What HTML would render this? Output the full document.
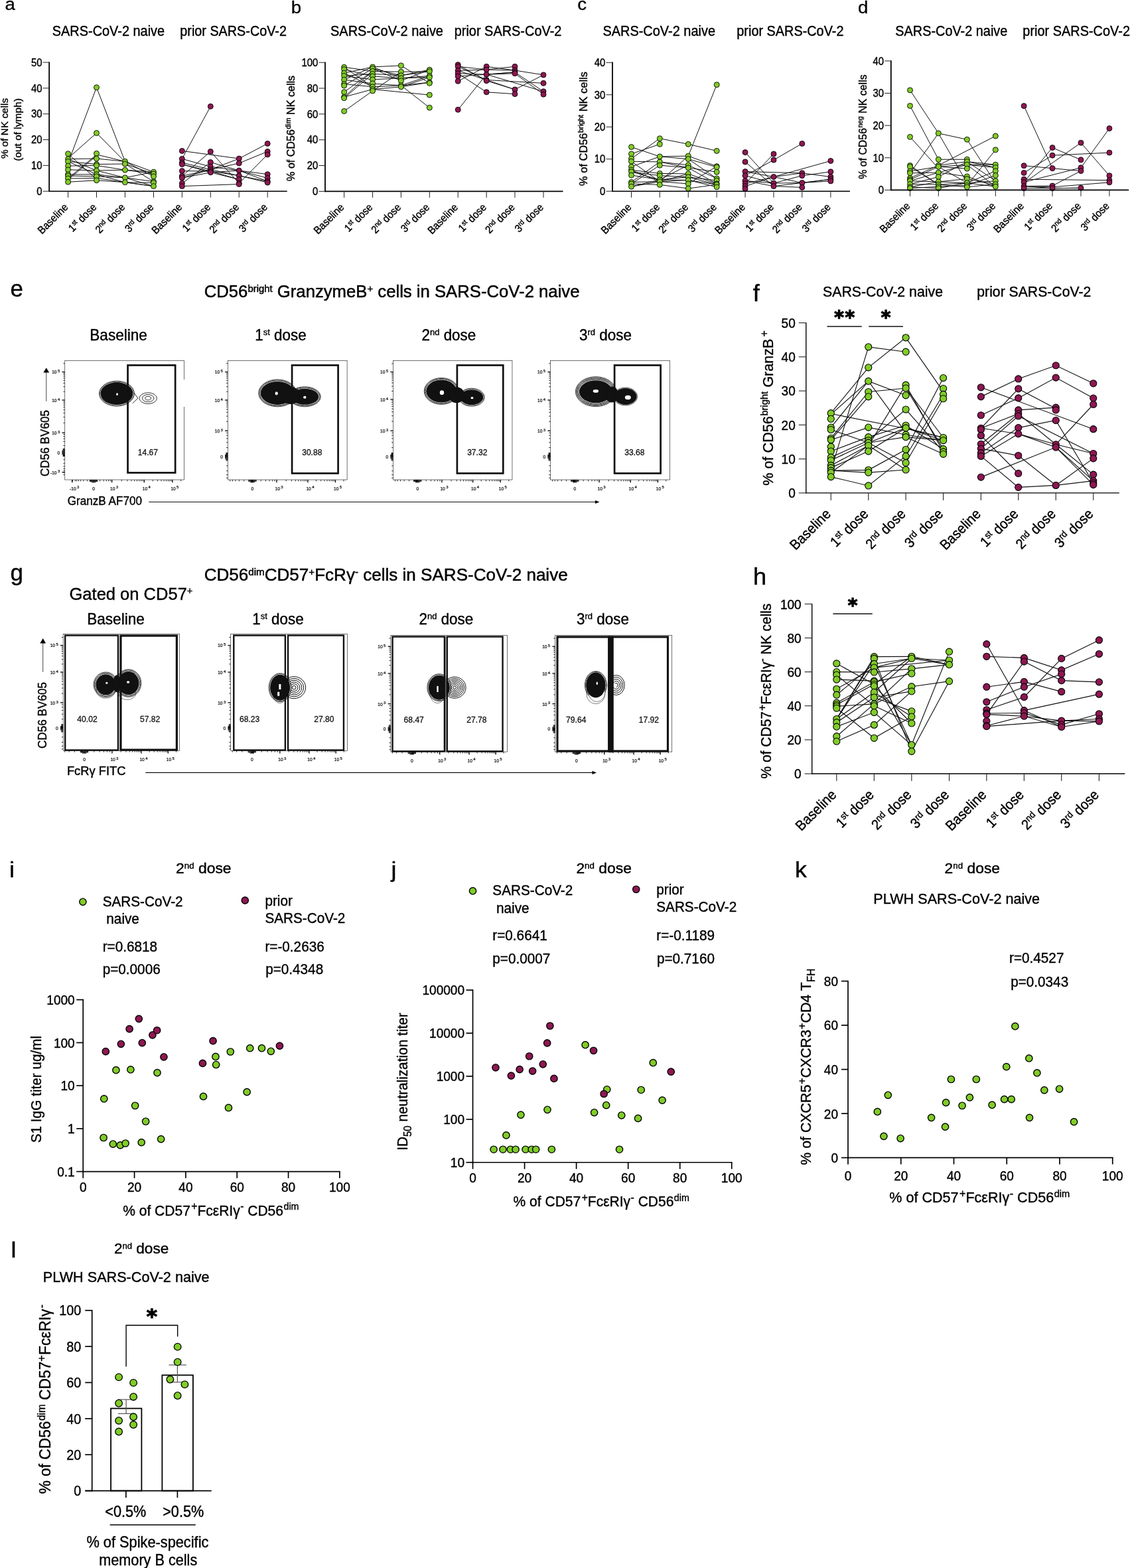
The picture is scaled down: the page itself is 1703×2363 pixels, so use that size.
<!DOCTYPE html>
<html lang="en"><head><meta charset="utf-8"><title>Figure</title>
<style>html,body{margin:0;padding:0;background:#fff}svg{display:block}text{font-family:'Liberation Sans', Arial, Helvetica, sans-serif;}</style></head>
<body>
<svg width="1703" height="2363" viewBox="0 0 1703 2363">
<rect width="1703" height="2363" fill="#fff"/>
<polyline points="102.57,245.63 145.5,131.74 188.44,243.3" fill="none" stroke="#111" stroke-width="1" stroke-linejoin="miter"/>
<polyline points="102.57,238.53 145.5,200.49 188.44,243.91" fill="none" stroke="#111" stroke-width="1" stroke-linejoin="miter"/>
<polyline points="102.57,231.68 145.5,270.21" fill="none" stroke="#111" stroke-width="1" stroke-linejoin="miter"/>
<polyline points="102.57,268.99 145.5,232.91 188.44,243.3 231.5,265.93" fill="none" stroke="#111" stroke-width="1" stroke-linejoin="miter"/>
<polyline points="102.57,270.83 145.5,234.74" fill="none" stroke="#111" stroke-width="1" stroke-linejoin="miter"/>
<polyline points="102.57,239.63 145.5,239.02 188.44,243.3 231.5,259.2" fill="none" stroke="#111" stroke-width="1" stroke-linejoin="miter"/>
<polyline points="102.57,243.3 145.5,247.58 188.44,246.97 231.5,262.02" fill="none" stroke="#111" stroke-width="1" stroke-linejoin="miter"/>
<polyline points="102.57,250.03 145.5,249.42 188.44,256.15 231.5,259.2" fill="none" stroke="#111" stroke-width="1" stroke-linejoin="miter"/>
<polyline points="102.57,255.78 145.5,257 188.44,256.15 231.5,262.02" fill="none" stroke="#111" stroke-width="1" stroke-linejoin="miter"/>
<polyline points="102.57,262.87 145.5,262.87 188.44,267.77 231.5,273.64" fill="none" stroke="#111" stroke-width="1" stroke-linejoin="miter"/>
<polyline points="102.57,264.95 145.5,265.93 188.44,267.77 231.5,259.2" fill="none" stroke="#111" stroke-width="1" stroke-linejoin="miter"/>
<polyline points="102.57,268.99 145.5,268.38 188.44,274.74 231.5,275.47" fill="none" stroke="#111" stroke-width="1" stroke-linejoin="miter"/>
<polyline points="102.57,274.25 145.5,271.8 188.44,274.74 231.5,280.61" fill="none" stroke="#111" stroke-width="1" stroke-linejoin="miter"/>
<polyline points="102.57,239.63 145.5,257 188.44,267.77 231.5,280.61" fill="none" stroke="#111" stroke-width="1" stroke-linejoin="miter"/>
<polyline points="102.57,243.3 145.5,262.87 188.44,274.74 231.5,280.61" fill="none" stroke="#111" stroke-width="1" stroke-linejoin="miter"/>
<polyline points="188.44,246.97 231.5,273.64" fill="none" stroke="#111" stroke-width="1" stroke-linejoin="miter"/>
<polyline points="274.37,239.39 317.31,160.37" fill="none" stroke="#111" stroke-width="1" stroke-linejoin="miter"/>
<polyline points="274.37,227.4 360.24,239.02 403.18,216.39" fill="none" stroke="#111" stroke-width="1" stroke-linejoin="miter"/>
<polyline points="274.37,265.32 317.31,228.38 360.24,276.33" fill="none" stroke="#111" stroke-width="1" stroke-linejoin="miter"/>
<polyline points="274.37,276.33 317.31,244.53 360.24,257 403.18,268.38" fill="none" stroke="#111" stroke-width="1" stroke-linejoin="miter"/>
<polyline points="274.37,268.13 317.31,255.54 360.24,239.02" fill="none" stroke="#111" stroke-width="1" stroke-linejoin="miter"/>
<polyline points="274.37,239.39 317.31,251.25 360.24,257 403.18,262.63" fill="none" stroke="#111" stroke-width="1" stroke-linejoin="miter"/>
<polyline points="274.37,245.14 317.31,255.54 360.24,264.71 403.18,273.27" fill="none" stroke="#111" stroke-width="1" stroke-linejoin="miter"/>
<polyline points="274.37,247.58 317.31,257.98 360.24,264.71 403.18,275.11" fill="none" stroke="#111" stroke-width="1" stroke-linejoin="miter"/>
<polyline points="274.37,257.61 317.31,257.98 360.24,270.46" fill="none" stroke="#111" stroke-width="1" stroke-linejoin="miter"/>
<polyline points="274.37,265.32 317.31,255.54 360.24,245.99 403.18,228.38" fill="none" stroke="#111" stroke-width="1" stroke-linejoin="miter"/>
<polyline points="274.37,280.61 360.24,277.55" fill="none" stroke="#111" stroke-width="1" stroke-linejoin="miter"/>
<polyline points="360.24,276.33 403.18,232.91" fill="none" stroke="#111" stroke-width="1" stroke-linejoin="miter"/>
<polyline points="274.37,247.58 317.31,259.82 360.24,270.46" fill="none" stroke="#111" stroke-width="1" stroke-linejoin="miter"/>
<polyline points="274.37,268.13 317.31,259.82 360.24,257 403.18,273.27" fill="none" stroke="#111" stroke-width="1" stroke-linejoin="miter"/>
<circle cx="102.57" cy="231.68" r="4" fill="#80CC28" stroke="#000" stroke-width="0.9"/>
<circle cx="102.57" cy="239.63" r="4" fill="#80CC28" stroke="#000" stroke-width="0.9"/>
<circle cx="102.57" cy="243.3" r="4" fill="#80CC28" stroke="#000" stroke-width="0.9"/>
<circle cx="102.57" cy="250.03" r="4" fill="#80CC28" stroke="#000" stroke-width="0.9"/>
<circle cx="102.57" cy="255.78" r="4" fill="#80CC28" stroke="#000" stroke-width="0.9"/>
<circle cx="102.57" cy="262.87" r="4" fill="#80CC28" stroke="#000" stroke-width="0.9"/>
<circle cx="102.57" cy="264.95" r="4" fill="#80CC28" stroke="#000" stroke-width="0.9"/>
<circle cx="102.57" cy="268.99" r="4" fill="#80CC28" stroke="#000" stroke-width="0.9"/>
<circle cx="102.57" cy="274.25" r="4" fill="#80CC28" stroke="#000" stroke-width="0.9"/>
<circle cx="145.5" cy="131.74" r="4" fill="#80CC28" stroke="#000" stroke-width="0.9"/>
<circle cx="145.5" cy="200.49" r="4" fill="#80CC28" stroke="#000" stroke-width="0.9"/>
<circle cx="145.5" cy="231.31" r="4" fill="#80CC28" stroke="#000" stroke-width="0.9"/>
<circle cx="145.5" cy="239.02" r="4" fill="#80CC28" stroke="#000" stroke-width="0.9"/>
<circle cx="145.5" cy="247.58" r="4" fill="#80CC28" stroke="#000" stroke-width="0.9"/>
<circle cx="145.5" cy="249.42" r="4" fill="#80CC28" stroke="#000" stroke-width="0.9"/>
<circle cx="145.5" cy="257" r="4" fill="#80CC28" stroke="#000" stroke-width="0.9"/>
<circle cx="145.5" cy="262.87" r="4" fill="#80CC28" stroke="#000" stroke-width="0.9"/>
<circle cx="145.5" cy="265.93" r="4" fill="#80CC28" stroke="#000" stroke-width="0.9"/>
<circle cx="145.5" cy="271.8" r="4" fill="#80CC28" stroke="#000" stroke-width="0.9"/>
<circle cx="188.44" cy="243.3" r="4" fill="#80CC28" stroke="#000" stroke-width="0.9"/>
<circle cx="188.44" cy="246.97" r="4" fill="#80CC28" stroke="#000" stroke-width="0.9"/>
<circle cx="188.44" cy="256.15" r="4" fill="#80CC28" stroke="#000" stroke-width="0.9"/>
<circle cx="188.44" cy="267.77" r="4" fill="#80CC28" stroke="#000" stroke-width="0.9"/>
<circle cx="188.44" cy="274.74" r="4" fill="#80CC28" stroke="#000" stroke-width="0.9"/>
<circle cx="231.5" cy="259.2" r="4" fill="#80CC28" stroke="#000" stroke-width="0.9"/>
<circle cx="231.5" cy="262.02" r="4" fill="#80CC28" stroke="#000" stroke-width="0.9"/>
<circle cx="231.5" cy="265.93" r="4" fill="#80CC28" stroke="#000" stroke-width="0.9"/>
<circle cx="231.5" cy="273.64" r="4" fill="#80CC28" stroke="#000" stroke-width="0.9"/>
<circle cx="231.5" cy="275.47" r="4" fill="#80CC28" stroke="#000" stroke-width="0.9"/>
<circle cx="231.5" cy="280.61" r="4" fill="#80CC28" stroke="#000" stroke-width="0.9"/>
<circle cx="274.37" cy="227.4" r="4" fill="#8E1752" stroke="#000" stroke-width="0.9"/>
<circle cx="274.37" cy="239.39" r="4" fill="#8E1752" stroke="#000" stroke-width="0.9"/>
<circle cx="274.37" cy="245.14" r="4" fill="#8E1752" stroke="#000" stroke-width="0.9"/>
<circle cx="274.37" cy="247.58" r="4" fill="#8E1752" stroke="#000" stroke-width="0.9"/>
<circle cx="274.37" cy="257.61" r="4" fill="#8E1752" stroke="#000" stroke-width="0.9"/>
<circle cx="274.37" cy="265.32" r="4" fill="#8E1752" stroke="#000" stroke-width="0.9"/>
<circle cx="274.37" cy="268.13" r="4" fill="#8E1752" stroke="#000" stroke-width="0.9"/>
<circle cx="274.37" cy="276.33" r="4" fill="#8E1752" stroke="#000" stroke-width="0.9"/>
<circle cx="274.37" cy="280.61" r="4" fill="#8E1752" stroke="#000" stroke-width="0.9"/>
<circle cx="317.31" cy="160.37" r="4" fill="#8E1752" stroke="#000" stroke-width="0.9"/>
<circle cx="317.31" cy="228.38" r="4" fill="#8E1752" stroke="#000" stroke-width="0.9"/>
<circle cx="317.31" cy="244.53" r="4" fill="#8E1752" stroke="#000" stroke-width="0.9"/>
<circle cx="317.31" cy="251.25" r="4" fill="#8E1752" stroke="#000" stroke-width="0.9"/>
<circle cx="317.31" cy="255.54" r="4" fill="#8E1752" stroke="#000" stroke-width="0.9"/>
<circle cx="317.31" cy="257.98" r="4" fill="#8E1752" stroke="#000" stroke-width="0.9"/>
<circle cx="317.31" cy="259.82" r="4" fill="#8E1752" stroke="#000" stroke-width="0.9"/>
<circle cx="360.24" cy="239.02" r="4" fill="#8E1752" stroke="#000" stroke-width="0.9"/>
<circle cx="360.24" cy="245.99" r="4" fill="#8E1752" stroke="#000" stroke-width="0.9"/>
<circle cx="360.24" cy="257" r="4" fill="#8E1752" stroke="#000" stroke-width="0.9"/>
<circle cx="360.24" cy="264.71" r="4" fill="#8E1752" stroke="#000" stroke-width="0.9"/>
<circle cx="360.24" cy="270.46" r="4" fill="#8E1752" stroke="#000" stroke-width="0.9"/>
<circle cx="360.24" cy="276.33" r="4" fill="#8E1752" stroke="#000" stroke-width="0.9"/>
<circle cx="360.24" cy="277.55" r="4" fill="#8E1752" stroke="#000" stroke-width="0.9"/>
<circle cx="403.18" cy="216.39" r="4" fill="#8E1752" stroke="#000" stroke-width="0.9"/>
<circle cx="403.18" cy="228.38" r="4" fill="#8E1752" stroke="#000" stroke-width="0.9"/>
<circle cx="403.18" cy="232.91" r="4" fill="#8E1752" stroke="#000" stroke-width="0.9"/>
<circle cx="403.18" cy="262.63" r="4" fill="#8E1752" stroke="#000" stroke-width="0.9"/>
<circle cx="403.18" cy="268.38" r="4" fill="#8E1752" stroke="#000" stroke-width="0.9"/>
<circle cx="403.18" cy="273.27" r="4" fill="#8E1752" stroke="#000" stroke-width="0.9"/>
<circle cx="403.18" cy="275.11" r="4" fill="#8E1752" stroke="#000" stroke-width="0.9"/>
<line x1="74.15" y1="93.35" x2="74.15" y2="289" stroke="#000" stroke-width="1.8"/>
<line x1="73.25" y1="288.2" x2="432.7" y2="288.2" stroke="#000" stroke-width="1.6"/>
<line x1="64.65" y1="288.2" x2="74.15" y2="288.2" stroke="#222" stroke-width="1"/>
<text transform="translate(63.45 293.96) scale(0.93 1)" font-size="16" text-anchor="end" fill="#000" stroke="#000" stroke-width="0.4">0</text>
<line x1="64.65" y1="249.36" x2="74.15" y2="249.36" stroke="#222" stroke-width="1"/>
<text transform="translate(63.45 255.12) scale(0.93 1)" font-size="16" text-anchor="end" fill="#000" stroke="#000" stroke-width="0.4">10</text>
<line x1="64.65" y1="210.52" x2="74.15" y2="210.52" stroke="#222" stroke-width="1"/>
<text transform="translate(63.45 216.28) scale(0.93 1)" font-size="16" text-anchor="end" fill="#000" stroke="#000" stroke-width="0.4">20</text>
<line x1="64.65" y1="171.68" x2="74.15" y2="171.68" stroke="#222" stroke-width="1"/>
<text transform="translate(63.45 177.44) scale(0.93 1)" font-size="16" text-anchor="end" fill="#000" stroke="#000" stroke-width="0.4">30</text>
<line x1="64.65" y1="132.84" x2="74.15" y2="132.84" stroke="#222" stroke-width="1"/>
<text transform="translate(63.45 138.6) scale(0.93 1)" font-size="16" text-anchor="end" fill="#000" stroke="#000" stroke-width="0.4">40</text>
<line x1="64.65" y1="94.01" x2="74.15" y2="94.01" stroke="#222" stroke-width="1"/>
<text transform="translate(63.45 99.77) scale(0.93 1)" font-size="16" text-anchor="end" fill="#000" stroke="#000" stroke-width="0.4">50</text>
<line x1="102.57" y1="288.2" x2="102.57" y2="297.7" stroke="#222" stroke-width="1"/>
<text transform="translate(103.57 313.2) rotate(-45) scale(0.93 1)" font-size="16" text-anchor="end" fill="#000" stroke="#000" stroke-width="0.4">Baseline</text>
<line x1="145.5" y1="288.2" x2="145.5" y2="297.7" stroke="#222" stroke-width="1"/>
<text transform="translate(146.5 313.2) rotate(-45) scale(0.93 1)" font-size="16" text-anchor="end" fill="#000" stroke="#000" stroke-width="0.4">1<tspan dy="-5.28" font-size="10.56">st</tspan><tspan dy="5.28"> dose</tspan></text>
<line x1="188.44" y1="288.2" x2="188.44" y2="297.7" stroke="#222" stroke-width="1"/>
<text transform="translate(189.44 313.2) rotate(-45) scale(0.93 1)" font-size="16" text-anchor="end" fill="#000" stroke="#000" stroke-width="0.4">2<tspan dy="-5.28" font-size="10.56">nd</tspan><tspan dy="5.28">  dose</tspan></text>
<line x1="231.5" y1="288.2" x2="231.5" y2="297.7" stroke="#222" stroke-width="1"/>
<text transform="translate(232.5 313.2) rotate(-45) scale(0.93 1)" font-size="16" text-anchor="end" fill="#000" stroke="#000" stroke-width="0.4">3<tspan dy="-5.28" font-size="10.56">rd</tspan><tspan dy="5.28"> dose</tspan></text>
<line x1="274.37" y1="288.2" x2="274.37" y2="297.7" stroke="#222" stroke-width="1"/>
<text transform="translate(275.37 313.2) rotate(-45) scale(0.93 1)" font-size="16" text-anchor="end" fill="#000" stroke="#000" stroke-width="0.4">Baseline</text>
<line x1="317.31" y1="288.2" x2="317.31" y2="297.7" stroke="#222" stroke-width="1"/>
<text transform="translate(318.31 313.2) rotate(-45) scale(0.93 1)" font-size="16" text-anchor="end" fill="#000" stroke="#000" stroke-width="0.4">1<tspan dy="-5.28" font-size="10.56">st</tspan><tspan dy="5.28"> dose</tspan></text>
<line x1="360.24" y1="288.2" x2="360.24" y2="297.7" stroke="#222" stroke-width="1"/>
<text transform="translate(361.24 313.2) rotate(-45) scale(0.93 1)" font-size="16" text-anchor="end" fill="#000" stroke="#000" stroke-width="0.4">2<tspan dy="-5.28" font-size="10.56">nd</tspan><tspan dy="5.28">  dose</tspan></text>
<line x1="403.18" y1="288.2" x2="403.18" y2="297.7" stroke="#222" stroke-width="1"/>
<text transform="translate(404.18 313.2) rotate(-45) scale(0.93 1)" font-size="16" text-anchor="end" fill="#000" stroke="#000" stroke-width="0.4">3<tspan dy="-5.28" font-size="10.56">rd</tspan><tspan dy="5.28"> dose</tspan></text>
<polyline points="518.65,167.57 561.59,136.99" fill="none" stroke="#111" stroke-width="1" stroke-linejoin="miter"/>
<polyline points="518.65,147.75 561.59,111.3" fill="none" stroke="#111" stroke-width="1" stroke-linejoin="miter"/>
<polyline points="518.65,146.16 561.59,134.54 604.4,130.87 647.34,124.14" fill="none" stroke="#111" stroke-width="1" stroke-linejoin="miter"/>
<polyline points="518.65,138.82 561.59,107.26" fill="none" stroke="#111" stroke-width="1" stroke-linejoin="miter"/>
<polyline points="518.65,101.27 561.59,107.26 604.4,108.24 647.34,107.63" fill="none" stroke="#111" stroke-width="1" stroke-linejoin="miter"/>
<polyline points="518.65,104.57 561.59,114.97 604.4,117.78 647.34,114.36" fill="none" stroke="#111" stroke-width="1" stroke-linejoin="miter"/>
<polyline points="518.65,110.08 561.59,100.9 604.4,98.82 647.34,125.37" fill="none" stroke="#111" stroke-width="1" stroke-linejoin="miter"/>
<polyline points="518.65,114.36 561.59,119.86 604.4,117.78 647.34,116.56" fill="none" stroke="#111" stroke-width="1" stroke-linejoin="miter"/>
<polyline points="518.65,120.11 561.59,125.98 604.4,128.79 647.34,124.14" fill="none" stroke="#111" stroke-width="1" stroke-linejoin="miter"/>
<polyline points="518.65,126.59 561.59,130.87 604.4,128.79" fill="none" stroke="#111" stroke-width="1" stroke-linejoin="miter"/>
<polyline points="561.59,134.54 647.34,143.1" fill="none" stroke="#111" stroke-width="1" stroke-linejoin="miter"/>
<polyline points="518.65,129.04 561.59,103.35 604.4,113.75 647.34,105.18" fill="none" stroke="#111" stroke-width="1" stroke-linejoin="miter"/>
<polyline points="604.4,128.79 647.34,162.31" fill="none" stroke="#111" stroke-width="1" stroke-linejoin="miter"/>
<polyline points="561.59,136.99 604.4,108.24" fill="none" stroke="#111" stroke-width="1" stroke-linejoin="miter"/>
<polyline points="518.65,101.27 561.59,130.87" fill="none" stroke="#111" stroke-width="1" stroke-linejoin="miter"/>
<polyline points="518.65,120.11 561.59,100.9" fill="none" stroke="#111" stroke-width="1" stroke-linejoin="miter"/>
<polyline points="518.65,110.08 561.59,130.87" fill="none" stroke="#111" stroke-width="1" stroke-linejoin="miter"/>
<polyline points="561.59,100.9 604.4,117.78" fill="none" stroke="#111" stroke-width="1" stroke-linejoin="miter"/>
<polyline points="561.59,103.35 604.4,121.7 647.34,105.18" fill="none" stroke="#111" stroke-width="1" stroke-linejoin="miter"/>
<polyline points="604.4,130.87 647.34,116.56" fill="none" stroke="#111" stroke-width="1" stroke-linejoin="miter"/>
<polyline points="604.4,128.79 647.34,114.36" fill="none" stroke="#111" stroke-width="1" stroke-linejoin="miter"/>
<polyline points="518.65,146.16 561.59,107.26" fill="none" stroke="#111" stroke-width="1" stroke-linejoin="miter"/>
<polyline points="518.65,114.36 561.59,111.3 604.4,113.75 647.34,107.63" fill="none" stroke="#111" stroke-width="1" stroke-linejoin="miter"/>
<polyline points="690.21,165.37 733.15,112.16 775.96,108.85" fill="none" stroke="#111" stroke-width="1" stroke-linejoin="miter"/>
<polyline points="690.21,100.29 733.15,104.94 775.96,106.04 819.02,112.89" fill="none" stroke="#111" stroke-width="1" stroke-linejoin="miter"/>
<polyline points="690.21,97.6 733.15,121.7 775.96,134.91 819.02,112.89" fill="none" stroke="#111" stroke-width="1" stroke-linejoin="miter"/>
<polyline points="690.21,110.69 733.15,138.82 775.96,141.64" fill="none" stroke="#111" stroke-width="1" stroke-linejoin="miter"/>
<polyline points="690.21,122.31 733.15,100.29 775.96,106.04" fill="none" stroke="#111" stroke-width="1" stroke-linejoin="miter"/>
<polyline points="690.21,106.41 733.15,104.94 775.96,100.29" fill="none" stroke="#111" stroke-width="1" stroke-linejoin="miter"/>
<polyline points="690.21,114.97 733.15,112.16 775.96,108.85 819.02,137.84" fill="none" stroke="#111" stroke-width="1" stroke-linejoin="miter"/>
<polyline points="690.21,100.29 733.15,120.47 819.02,125.37" fill="none" stroke="#111" stroke-width="1" stroke-linejoin="miter"/>
<polyline points="690.21,110.69 733.15,112.16 775.96,110.69 819.02,142.25" fill="none" stroke="#111" stroke-width="1" stroke-linejoin="miter"/>
<polyline points="733.15,112.16 819.02,137.84" fill="none" stroke="#111" stroke-width="1" stroke-linejoin="miter"/>
<polyline points="690.21,106.41 733.15,120.47 775.96,134.91" fill="none" stroke="#111" stroke-width="1" stroke-linejoin="miter"/>
<circle cx="518.65" cy="101.27" r="4" fill="#80CC28" stroke="#000" stroke-width="0.9"/>
<circle cx="518.65" cy="104.57" r="4" fill="#80CC28" stroke="#000" stroke-width="0.9"/>
<circle cx="518.65" cy="110.08" r="4" fill="#80CC28" stroke="#000" stroke-width="0.9"/>
<circle cx="518.65" cy="114.36" r="4" fill="#80CC28" stroke="#000" stroke-width="0.9"/>
<circle cx="518.65" cy="120.11" r="4" fill="#80CC28" stroke="#000" stroke-width="0.9"/>
<circle cx="518.65" cy="126.59" r="4" fill="#80CC28" stroke="#000" stroke-width="0.9"/>
<circle cx="518.65" cy="129.04" r="4" fill="#80CC28" stroke="#000" stroke-width="0.9"/>
<circle cx="518.65" cy="138.82" r="4" fill="#80CC28" stroke="#000" stroke-width="0.9"/>
<circle cx="518.65" cy="146.16" r="4" fill="#80CC28" stroke="#000" stroke-width="0.9"/>
<circle cx="518.65" cy="147.75" r="4" fill="#80CC28" stroke="#000" stroke-width="0.9"/>
<circle cx="518.65" cy="167.57" r="4" fill="#80CC28" stroke="#000" stroke-width="0.9"/>
<circle cx="561.59" cy="100.9" r="4" fill="#80CC28" stroke="#000" stroke-width="0.9"/>
<circle cx="561.59" cy="103.35" r="4" fill="#80CC28" stroke="#000" stroke-width="0.9"/>
<circle cx="561.59" cy="107.26" r="4" fill="#80CC28" stroke="#000" stroke-width="0.9"/>
<circle cx="561.59" cy="111.3" r="4" fill="#80CC28" stroke="#000" stroke-width="0.9"/>
<circle cx="561.59" cy="114.97" r="4" fill="#80CC28" stroke="#000" stroke-width="0.9"/>
<circle cx="561.59" cy="119.86" r="4" fill="#80CC28" stroke="#000" stroke-width="0.9"/>
<circle cx="561.59" cy="125.98" r="4" fill="#80CC28" stroke="#000" stroke-width="0.9"/>
<circle cx="561.59" cy="130.87" r="4" fill="#80CC28" stroke="#000" stroke-width="0.9"/>
<circle cx="561.59" cy="134.54" r="4" fill="#80CC28" stroke="#000" stroke-width="0.9"/>
<circle cx="561.59" cy="136.99" r="4" fill="#80CC28" stroke="#000" stroke-width="0.9"/>
<circle cx="604.4" cy="98.82" r="4" fill="#80CC28" stroke="#000" stroke-width="0.9"/>
<circle cx="604.4" cy="108.24" r="4" fill="#80CC28" stroke="#000" stroke-width="0.9"/>
<circle cx="604.4" cy="113.75" r="4" fill="#80CC28" stroke="#000" stroke-width="0.9"/>
<circle cx="604.4" cy="117.78" r="4" fill="#80CC28" stroke="#000" stroke-width="0.9"/>
<circle cx="604.4" cy="121.7" r="4" fill="#80CC28" stroke="#000" stroke-width="0.9"/>
<circle cx="604.4" cy="128.79" r="4" fill="#80CC28" stroke="#000" stroke-width="0.9"/>
<circle cx="604.4" cy="130.87" r="4" fill="#80CC28" stroke="#000" stroke-width="0.9"/>
<circle cx="647.34" cy="105.18" r="4" fill="#80CC28" stroke="#000" stroke-width="0.9"/>
<circle cx="647.34" cy="107.63" r="4" fill="#80CC28" stroke="#000" stroke-width="0.9"/>
<circle cx="647.34" cy="114.36" r="4" fill="#80CC28" stroke="#000" stroke-width="0.9"/>
<circle cx="647.34" cy="116.56" r="4" fill="#80CC28" stroke="#000" stroke-width="0.9"/>
<circle cx="647.34" cy="124.14" r="4" fill="#80CC28" stroke="#000" stroke-width="0.9"/>
<circle cx="647.34" cy="125.37" r="4" fill="#80CC28" stroke="#000" stroke-width="0.9"/>
<circle cx="647.34" cy="143.1" r="4" fill="#80CC28" stroke="#000" stroke-width="0.9"/>
<circle cx="647.34" cy="162.31" r="4" fill="#80CC28" stroke="#000" stroke-width="0.9"/>
<circle cx="690.21" cy="97.6" r="4" fill="#8E1752" stroke="#000" stroke-width="0.9"/>
<circle cx="690.21" cy="100.29" r="4" fill="#8E1752" stroke="#000" stroke-width="0.9"/>
<circle cx="690.21" cy="106.41" r="4" fill="#8E1752" stroke="#000" stroke-width="0.9"/>
<circle cx="690.21" cy="110.69" r="4" fill="#8E1752" stroke="#000" stroke-width="0.9"/>
<circle cx="690.21" cy="114.97" r="4" fill="#8E1752" stroke="#000" stroke-width="0.9"/>
<circle cx="690.21" cy="122.31" r="4" fill="#8E1752" stroke="#000" stroke-width="0.9"/>
<circle cx="690.21" cy="165.37" r="4" fill="#8E1752" stroke="#000" stroke-width="0.9"/>
<circle cx="733.15" cy="100.29" r="4" fill="#8E1752" stroke="#000" stroke-width="0.9"/>
<circle cx="733.15" cy="104.94" r="4" fill="#8E1752" stroke="#000" stroke-width="0.9"/>
<circle cx="733.15" cy="112.16" r="4" fill="#8E1752" stroke="#000" stroke-width="0.9"/>
<circle cx="733.15" cy="120.47" r="4" fill="#8E1752" stroke="#000" stroke-width="0.9"/>
<circle cx="733.15" cy="121.7" r="4" fill="#8E1752" stroke="#000" stroke-width="0.9"/>
<circle cx="733.15" cy="138.82" r="4" fill="#8E1752" stroke="#000" stroke-width="0.9"/>
<circle cx="775.96" cy="100.29" r="4" fill="#8E1752" stroke="#000" stroke-width="0.9"/>
<circle cx="775.96" cy="106.04" r="4" fill="#8E1752" stroke="#000" stroke-width="0.9"/>
<circle cx="775.96" cy="108.85" r="4" fill="#8E1752" stroke="#000" stroke-width="0.9"/>
<circle cx="775.96" cy="110.69" r="4" fill="#8E1752" stroke="#000" stroke-width="0.9"/>
<circle cx="775.96" cy="134.91" r="4" fill="#8E1752" stroke="#000" stroke-width="0.9"/>
<circle cx="775.96" cy="141.64" r="4" fill="#8E1752" stroke="#000" stroke-width="0.9"/>
<circle cx="819.02" cy="112.89" r="4" fill="#8E1752" stroke="#000" stroke-width="0.9"/>
<circle cx="819.02" cy="125.37" r="4" fill="#8E1752" stroke="#000" stroke-width="0.9"/>
<circle cx="819.02" cy="137.84" r="4" fill="#8E1752" stroke="#000" stroke-width="0.9"/>
<circle cx="819.02" cy="142.25" r="4" fill="#8E1752" stroke="#000" stroke-width="0.9"/>
<line x1="490" y1="93.45" x2="490" y2="289.16" stroke="#000" stroke-width="1.8"/>
<line x1="489.1" y1="288.36" x2="848.5" y2="288.36" stroke="#000" stroke-width="1.6"/>
<line x1="480.5" y1="288.36" x2="490" y2="288.36" stroke="#222" stroke-width="1"/>
<text transform="translate(479.3 294.12) scale(0.93 1)" font-size="16" text-anchor="end" fill="#000" stroke="#000" stroke-width="0.4">0</text>
<line x1="480.5" y1="249.53" x2="490" y2="249.53" stroke="#222" stroke-width="1"/>
<text transform="translate(479.3 255.29) scale(0.93 1)" font-size="16" text-anchor="end" fill="#000" stroke="#000" stroke-width="0.4">20</text>
<line x1="480.5" y1="210.69" x2="490" y2="210.69" stroke="#222" stroke-width="1"/>
<text transform="translate(479.3 216.45) scale(0.93 1)" font-size="16" text-anchor="end" fill="#000" stroke="#000" stroke-width="0.4">40</text>
<line x1="480.5" y1="171.85" x2="490" y2="171.85" stroke="#222" stroke-width="1"/>
<text transform="translate(479.3 177.61) scale(0.93 1)" font-size="16" text-anchor="end" fill="#000" stroke="#000" stroke-width="0.4">60</text>
<line x1="480.5" y1="133.01" x2="490" y2="133.01" stroke="#222" stroke-width="1"/>
<text transform="translate(479.3 138.77) scale(0.93 1)" font-size="16" text-anchor="end" fill="#000" stroke="#000" stroke-width="0.4">80</text>
<line x1="480.5" y1="94.17" x2="490" y2="94.17" stroke="#222" stroke-width="1"/>
<text transform="translate(479.3 99.93) scale(0.93 1)" font-size="16" text-anchor="end" fill="#000" stroke="#000" stroke-width="0.4">100</text>
<line x1="518.65" y1="288.36" x2="518.65" y2="297.86" stroke="#222" stroke-width="1"/>
<text transform="translate(519.65 313.36) rotate(-45) scale(0.93 1)" font-size="16" text-anchor="end" fill="#000" stroke="#000" stroke-width="0.4">Baseline</text>
<line x1="561.59" y1="288.36" x2="561.59" y2="297.86" stroke="#222" stroke-width="1"/>
<text transform="translate(562.59 313.36) rotate(-45) scale(0.93 1)" font-size="16" text-anchor="end" fill="#000" stroke="#000" stroke-width="0.4">1<tspan dy="-5.28" font-size="10.56">st</tspan><tspan dy="5.28"> dose</tspan></text>
<line x1="604.4" y1="288.36" x2="604.4" y2="297.86" stroke="#222" stroke-width="1"/>
<text transform="translate(605.4 313.36) rotate(-45) scale(0.93 1)" font-size="16" text-anchor="end" fill="#000" stroke="#000" stroke-width="0.4">2<tspan dy="-5.28" font-size="10.56">nd</tspan><tspan dy="5.28">  dose</tspan></text>
<line x1="647.34" y1="288.36" x2="647.34" y2="297.86" stroke="#222" stroke-width="1"/>
<text transform="translate(648.34 313.36) rotate(-45) scale(0.93 1)" font-size="16" text-anchor="end" fill="#000" stroke="#000" stroke-width="0.4">3<tspan dy="-5.28" font-size="10.56">rd</tspan><tspan dy="5.28"> dose</tspan></text>
<line x1="690.21" y1="288.36" x2="690.21" y2="297.86" stroke="#222" stroke-width="1"/>
<text transform="translate(691.21 313.36) rotate(-45) scale(0.93 1)" font-size="16" text-anchor="end" fill="#000" stroke="#000" stroke-width="0.4">Baseline</text>
<line x1="733.15" y1="288.36" x2="733.15" y2="297.86" stroke="#222" stroke-width="1"/>
<text transform="translate(734.15 313.36) rotate(-45) scale(0.93 1)" font-size="16" text-anchor="end" fill="#000" stroke="#000" stroke-width="0.4">1<tspan dy="-5.28" font-size="10.56">st</tspan><tspan dy="5.28"> dose</tspan></text>
<line x1="775.96" y1="288.36" x2="775.96" y2="297.86" stroke="#222" stroke-width="1"/>
<text transform="translate(776.96 313.36) rotate(-45) scale(0.93 1)" font-size="16" text-anchor="end" fill="#000" stroke="#000" stroke-width="0.4">2<tspan dy="-5.28" font-size="10.56">nd</tspan><tspan dy="5.28">  dose</tspan></text>
<line x1="819.02" y1="288.36" x2="819.02" y2="297.86" stroke="#222" stroke-width="1"/>
<text transform="translate(820.02 313.36) rotate(-45) scale(0.93 1)" font-size="16" text-anchor="end" fill="#000" stroke="#000" stroke-width="0.4">3<tspan dy="-5.28" font-size="10.56">rd</tspan><tspan dy="5.28"> dose</tspan></text>
<polyline points="951.5,239.02 994.31,208.69 1037.25,217.25 1080.18,227.4" fill="none" stroke="#111" stroke-width="1" stroke-linejoin="miter"/>
<polyline points="951.5,231.93 994.31,217.25" fill="none" stroke="#111" stroke-width="1" stroke-linejoin="miter"/>
<polyline points="951.5,221.53 994.31,235.96 1037.25,239.63 1080.18,251.87" fill="none" stroke="#111" stroke-width="1" stroke-linejoin="miter"/>
<polyline points="951.5,243.3 994.31,273.64 1037.25,235.11 1080.18,127.71" fill="none" stroke="#111" stroke-width="1" stroke-linejoin="miter"/>
<polyline points="951.5,243.3 994.31,243.91 1037.25,248.81 1080.18,268.99" fill="none" stroke="#111" stroke-width="1" stroke-linejoin="miter"/>
<polyline points="951.5,251.25 994.31,235.96 1037.25,235.11 1080.18,250.64" fill="none" stroke="#111" stroke-width="1" stroke-linejoin="miter"/>
<polyline points="951.5,256.15 994.31,261.41 1037.25,261.9 1080.18,276.94" fill="none" stroke="#111" stroke-width="1" stroke-linejoin="miter"/>
<polyline points="951.5,258.84 994.31,264.71 1037.25,266.79 1080.18,278.17" fill="none" stroke="#111" stroke-width="1" stroke-linejoin="miter"/>
<polyline points="951.5,264.1 994.31,270.83 1037.25,266.79 1080.18,272.05" fill="none" stroke="#111" stroke-width="1" stroke-linejoin="miter"/>
<polyline points="951.5,274.5 994.31,243.91 1037.25,252.84 1080.18,259.2" fill="none" stroke="#111" stroke-width="1" stroke-linejoin="miter"/>
<polyline points="951.5,276.94 994.31,249.17 1037.25,252.84 1080.18,276.94" fill="none" stroke="#111" stroke-width="1" stroke-linejoin="miter"/>
<polyline points="951.5,281.22 994.31,273.64 1037.25,271.44 1080.18,278.17" fill="none" stroke="#111" stroke-width="1" stroke-linejoin="miter"/>
<polyline points="951.5,276.94 994.31,278.41 1037.25,284.04 1080.18,278.17" fill="none" stroke="#111" stroke-width="1" stroke-linejoin="miter"/>
<polyline points="951.5,256.15 994.31,273.64 1037.25,261.9" fill="none" stroke="#111" stroke-width="1" stroke-linejoin="miter"/>
<polyline points="951.5,274.5 994.31,273.64 1037.25,276.94 1080.18,250.64" fill="none" stroke="#111" stroke-width="1" stroke-linejoin="miter"/>
<polyline points="1037.25,239.63 1080.18,268.99" fill="none" stroke="#111" stroke-width="1" stroke-linejoin="miter"/>
<polyline points="951.5,281.22 994.31,270.83 1037.25,248.81" fill="none" stroke="#111" stroke-width="1" stroke-linejoin="miter"/>
<polyline points="951.5,258.84 994.31,270.83 1037.25,271.44 1080.18,281.83" fill="none" stroke="#111" stroke-width="1" stroke-linejoin="miter"/>
<polyline points="1123.06,229.6 1165.99,276.09" fill="none" stroke="#111" stroke-width="1" stroke-linejoin="miter"/>
<polyline points="1123.06,243.91 1165.99,280.61" fill="none" stroke="#111" stroke-width="1" stroke-linejoin="miter"/>
<polyline points="1123.06,276.7 1165.99,232.05" fill="none" stroke="#111" stroke-width="1" stroke-linejoin="miter"/>
<polyline points="1123.06,264.71 1165.99,241.1 1208.81,216.39" fill="none" stroke="#111" stroke-width="1" stroke-linejoin="miter"/>
<polyline points="1123.06,258.59 1165.99,266.54 1208.81,275.47 1251.87,270.21" fill="none" stroke="#111" stroke-width="1" stroke-linejoin="miter"/>
<polyline points="1123.06,258.59 1208.81,260.8 1251.87,266.54" fill="none" stroke="#111" stroke-width="1" stroke-linejoin="miter"/>
<polyline points="1123.06,272.42 1165.99,276.09 1208.81,275.47 1251.87,272.91" fill="none" stroke="#111" stroke-width="1" stroke-linejoin="miter"/>
<polyline points="1123.06,276.7 1165.99,266.54 1208.81,260.8" fill="none" stroke="#111" stroke-width="1" stroke-linejoin="miter"/>
<polyline points="1123.06,280.61 1165.99,266.54 1251.87,242.45" fill="none" stroke="#111" stroke-width="1" stroke-linejoin="miter"/>
<polyline points="1123.06,272.42 1165.99,280.61 1208.81,282.45" fill="none" stroke="#111" stroke-width="1" stroke-linejoin="miter"/>
<polyline points="1165.99,276.09 1208.81,264.71 1251.87,258.84" fill="none" stroke="#111" stroke-width="1" stroke-linejoin="miter"/>
<polyline points="1165.99,280.61 1208.81,275.47 1251.87,270.21" fill="none" stroke="#111" stroke-width="1" stroke-linejoin="miter"/>
<polyline points="1123.06,264.71 1165.99,276.09" fill="none" stroke="#111" stroke-width="1" stroke-linejoin="miter"/>
<circle cx="951.5" cy="221.53" r="4" fill="#80CC28" stroke="#000" stroke-width="0.9"/>
<circle cx="951.5" cy="231.93" r="4" fill="#80CC28" stroke="#000" stroke-width="0.9"/>
<circle cx="951.5" cy="239.02" r="4" fill="#80CC28" stroke="#000" stroke-width="0.9"/>
<circle cx="951.5" cy="243.3" r="4" fill="#80CC28" stroke="#000" stroke-width="0.9"/>
<circle cx="951.5" cy="251.25" r="4" fill="#80CC28" stroke="#000" stroke-width="0.9"/>
<circle cx="951.5" cy="256.15" r="4" fill="#80CC28" stroke="#000" stroke-width="0.9"/>
<circle cx="951.5" cy="258.84" r="4" fill="#80CC28" stroke="#000" stroke-width="0.9"/>
<circle cx="951.5" cy="264.1" r="4" fill="#80CC28" stroke="#000" stroke-width="0.9"/>
<circle cx="951.5" cy="274.5" r="4" fill="#80CC28" stroke="#000" stroke-width="0.9"/>
<circle cx="951.5" cy="276.94" r="4" fill="#80CC28" stroke="#000" stroke-width="0.9"/>
<circle cx="951.5" cy="281.22" r="4" fill="#80CC28" stroke="#000" stroke-width="0.9"/>
<circle cx="994.31" cy="208.69" r="4" fill="#80CC28" stroke="#000" stroke-width="0.9"/>
<circle cx="994.31" cy="217.25" r="4" fill="#80CC28" stroke="#000" stroke-width="0.9"/>
<circle cx="994.31" cy="235.96" r="4" fill="#80CC28" stroke="#000" stroke-width="0.9"/>
<circle cx="994.31" cy="243.91" r="4" fill="#80CC28" stroke="#000" stroke-width="0.9"/>
<circle cx="994.31" cy="249.17" r="4" fill="#80CC28" stroke="#000" stroke-width="0.9"/>
<circle cx="994.31" cy="261.41" r="4" fill="#80CC28" stroke="#000" stroke-width="0.9"/>
<circle cx="994.31" cy="264.71" r="4" fill="#80CC28" stroke="#000" stroke-width="0.9"/>
<circle cx="994.31" cy="270.83" r="4" fill="#80CC28" stroke="#000" stroke-width="0.9"/>
<circle cx="994.31" cy="273.64" r="4" fill="#80CC28" stroke="#000" stroke-width="0.9"/>
<circle cx="994.31" cy="278.41" r="4" fill="#80CC28" stroke="#000" stroke-width="0.9"/>
<circle cx="1037.25" cy="217.25" r="4" fill="#80CC28" stroke="#000" stroke-width="0.9"/>
<circle cx="1037.25" cy="235.11" r="4" fill="#80CC28" stroke="#000" stroke-width="0.9"/>
<circle cx="1037.25" cy="239.63" r="4" fill="#80CC28" stroke="#000" stroke-width="0.9"/>
<circle cx="1037.25" cy="248.81" r="4" fill="#80CC28" stroke="#000" stroke-width="0.9"/>
<circle cx="1037.25" cy="252.84" r="4" fill="#80CC28" stroke="#000" stroke-width="0.9"/>
<circle cx="1037.25" cy="261.9" r="4" fill="#80CC28" stroke="#000" stroke-width="0.9"/>
<circle cx="1037.25" cy="266.79" r="4" fill="#80CC28" stroke="#000" stroke-width="0.9"/>
<circle cx="1037.25" cy="271.44" r="4" fill="#80CC28" stroke="#000" stroke-width="0.9"/>
<circle cx="1037.25" cy="276.94" r="4" fill="#80CC28" stroke="#000" stroke-width="0.9"/>
<circle cx="1037.25" cy="284.04" r="4" fill="#80CC28" stroke="#000" stroke-width="0.9"/>
<circle cx="1080.18" cy="127.71" r="4" fill="#80CC28" stroke="#000" stroke-width="0.9"/>
<circle cx="1080.18" cy="227.4" r="4" fill="#80CC28" stroke="#000" stroke-width="0.9"/>
<circle cx="1080.18" cy="250.64" r="4" fill="#80CC28" stroke="#000" stroke-width="0.9"/>
<circle cx="1080.18" cy="251.87" r="4" fill="#80CC28" stroke="#000" stroke-width="0.9"/>
<circle cx="1080.18" cy="259.2" r="4" fill="#80CC28" stroke="#000" stroke-width="0.9"/>
<circle cx="1080.18" cy="268.99" r="4" fill="#80CC28" stroke="#000" stroke-width="0.9"/>
<circle cx="1080.18" cy="272.05" r="4" fill="#80CC28" stroke="#000" stroke-width="0.9"/>
<circle cx="1080.18" cy="276.94" r="4" fill="#80CC28" stroke="#000" stroke-width="0.9"/>
<circle cx="1080.18" cy="278.17" r="4" fill="#80CC28" stroke="#000" stroke-width="0.9"/>
<circle cx="1080.18" cy="281.83" r="4" fill="#80CC28" stroke="#000" stroke-width="0.9"/>
<circle cx="1123.06" cy="229.6" r="4" fill="#8E1752" stroke="#000" stroke-width="0.9"/>
<circle cx="1123.06" cy="243.91" r="4" fill="#8E1752" stroke="#000" stroke-width="0.9"/>
<circle cx="1123.06" cy="258.59" r="4" fill="#8E1752" stroke="#000" stroke-width="0.9"/>
<circle cx="1123.06" cy="264.71" r="4" fill="#8E1752" stroke="#000" stroke-width="0.9"/>
<circle cx="1123.06" cy="272.42" r="4" fill="#8E1752" stroke="#000" stroke-width="0.9"/>
<circle cx="1123.06" cy="276.7" r="4" fill="#8E1752" stroke="#000" stroke-width="0.9"/>
<circle cx="1123.06" cy="280.61" r="4" fill="#8E1752" stroke="#000" stroke-width="0.9"/>
<circle cx="1123.06" cy="284.53" r="4" fill="#8E1752" stroke="#000" stroke-width="0.9"/>
<circle cx="1165.99" cy="232.05" r="4" fill="#8E1752" stroke="#000" stroke-width="0.9"/>
<circle cx="1165.99" cy="241.1" r="4" fill="#8E1752" stroke="#000" stroke-width="0.9"/>
<circle cx="1165.99" cy="266.54" r="4" fill="#8E1752" stroke="#000" stroke-width="0.9"/>
<circle cx="1165.99" cy="276.09" r="4" fill="#8E1752" stroke="#000" stroke-width="0.9"/>
<circle cx="1165.99" cy="280.61" r="4" fill="#8E1752" stroke="#000" stroke-width="0.9"/>
<circle cx="1208.81" cy="216.39" r="4" fill="#8E1752" stroke="#000" stroke-width="0.9"/>
<circle cx="1208.81" cy="260.8" r="4" fill="#8E1752" stroke="#000" stroke-width="0.9"/>
<circle cx="1208.81" cy="264.71" r="4" fill="#8E1752" stroke="#000" stroke-width="0.9"/>
<circle cx="1208.81" cy="275.47" r="4" fill="#8E1752" stroke="#000" stroke-width="0.9"/>
<circle cx="1208.81" cy="282.45" r="4" fill="#8E1752" stroke="#000" stroke-width="0.9"/>
<circle cx="1251.87" cy="242.45" r="4" fill="#8E1752" stroke="#000" stroke-width="0.9"/>
<circle cx="1251.87" cy="258.84" r="4" fill="#8E1752" stroke="#000" stroke-width="0.9"/>
<circle cx="1251.87" cy="266.54" r="4" fill="#8E1752" stroke="#000" stroke-width="0.9"/>
<circle cx="1251.87" cy="270.21" r="4" fill="#8E1752" stroke="#000" stroke-width="0.9"/>
<circle cx="1251.87" cy="272.91" r="4" fill="#8E1752" stroke="#000" stroke-width="0.9"/>
<line x1="923" y1="93.59" x2="923" y2="289" stroke="#000" stroke-width="1.8"/>
<line x1="922.1" y1="288.2" x2="1281" y2="288.2" stroke="#000" stroke-width="1.6"/>
<line x1="913.5" y1="288.2" x2="923" y2="288.2" stroke="#222" stroke-width="1"/>
<text transform="translate(912.3 293.96) scale(0.93 1)" font-size="16" text-anchor="end" fill="#000" stroke="#000" stroke-width="0.4">0</text>
<line x1="913.5" y1="239.72" x2="923" y2="239.72" stroke="#222" stroke-width="1"/>
<text transform="translate(912.3 245.48) scale(0.93 1)" font-size="16" text-anchor="end" fill="#000" stroke="#000" stroke-width="0.4">10</text>
<line x1="913.5" y1="191.24" x2="923" y2="191.24" stroke="#222" stroke-width="1"/>
<text transform="translate(912.3 197) scale(0.93 1)" font-size="16" text-anchor="end" fill="#000" stroke="#000" stroke-width="0.4">20</text>
<line x1="913.5" y1="142.76" x2="923" y2="142.76" stroke="#222" stroke-width="1"/>
<text transform="translate(912.3 148.52) scale(0.93 1)" font-size="16" text-anchor="end" fill="#000" stroke="#000" stroke-width="0.4">30</text>
<line x1="913.5" y1="94.29" x2="923" y2="94.29" stroke="#222" stroke-width="1"/>
<text transform="translate(912.3 100.05) scale(0.93 1)" font-size="16" text-anchor="end" fill="#000" stroke="#000" stroke-width="0.4">40</text>
<line x1="951.5" y1="288.2" x2="951.5" y2="297.7" stroke="#222" stroke-width="1"/>
<text transform="translate(952.5 313.2) rotate(-45) scale(0.93 1)" font-size="16" text-anchor="end" fill="#000" stroke="#000" stroke-width="0.4">Baseline</text>
<line x1="994.31" y1="288.2" x2="994.31" y2="297.7" stroke="#222" stroke-width="1"/>
<text transform="translate(995.31 313.2) rotate(-45) scale(0.93 1)" font-size="16" text-anchor="end" fill="#000" stroke="#000" stroke-width="0.4">1<tspan dy="-5.28" font-size="10.56">st</tspan><tspan dy="5.28"> dose</tspan></text>
<line x1="1037.25" y1="288.2" x2="1037.25" y2="297.7" stroke="#222" stroke-width="1"/>
<text transform="translate(1038.25 313.2) rotate(-45) scale(0.93 1)" font-size="16" text-anchor="end" fill="#000" stroke="#000" stroke-width="0.4">2<tspan dy="-5.28" font-size="10.56">nd</tspan><tspan dy="5.28">  dose</tspan></text>
<line x1="1080.18" y1="288.2" x2="1080.18" y2="297.7" stroke="#222" stroke-width="1"/>
<text transform="translate(1081.18 313.2) rotate(-45) scale(0.93 1)" font-size="16" text-anchor="end" fill="#000" stroke="#000" stroke-width="0.4">3<tspan dy="-5.28" font-size="10.56">rd</tspan><tspan dy="5.28"> dose</tspan></text>
<line x1="1123.06" y1="288.2" x2="1123.06" y2="297.7" stroke="#222" stroke-width="1"/>
<text transform="translate(1124.06 313.2) rotate(-45) scale(0.93 1)" font-size="16" text-anchor="end" fill="#000" stroke="#000" stroke-width="0.4">Baseline</text>
<line x1="1165.99" y1="288.2" x2="1165.99" y2="297.7" stroke="#222" stroke-width="1"/>
<text transform="translate(1166.99 313.2) rotate(-45) scale(0.93 1)" font-size="16" text-anchor="end" fill="#000" stroke="#000" stroke-width="0.4">1<tspan dy="-5.28" font-size="10.56">st</tspan><tspan dy="5.28"> dose</tspan></text>
<line x1="1208.81" y1="288.2" x2="1208.81" y2="297.7" stroke="#222" stroke-width="1"/>
<text transform="translate(1209.81 313.2) rotate(-45) scale(0.93 1)" font-size="16" text-anchor="end" fill="#000" stroke="#000" stroke-width="0.4">2<tspan dy="-5.28" font-size="10.56">nd</tspan><tspan dy="5.28">  dose</tspan></text>
<line x1="1251.87" y1="288.2" x2="1251.87" y2="297.7" stroke="#222" stroke-width="1"/>
<text transform="translate(1252.87 313.2) rotate(-45) scale(0.93 1)" font-size="16" text-anchor="end" fill="#000" stroke="#000" stroke-width="0.4">3<tspan dy="-5.28" font-size="10.56">rd</tspan><tspan dy="5.28"> dose</tspan></text>
<polyline points="1371.53,135.9 1414.34,200.86 1457.4,210.28 1500.34,275.72" fill="none" stroke="#111" stroke-width="1" stroke-linejoin="miter"/>
<polyline points="1371.53,159.51 1414.34,240.24 1457.4,240.24" fill="none" stroke="#111" stroke-width="1" stroke-linejoin="miter"/>
<polyline points="1371.53,206.36 1414.34,253.7" fill="none" stroke="#111" stroke-width="1" stroke-linejoin="miter"/>
<polyline points="1371.53,260.8 1414.34,200.86 1457.4,275.72" fill="none" stroke="#111" stroke-width="1" stroke-linejoin="miter"/>
<polyline points="1414.34,249.17 1500.34,205.02" fill="none" stroke="#111" stroke-width="1" stroke-linejoin="miter"/>
<polyline points="1457.4,279.39 1500.34,225.81" fill="none" stroke="#111" stroke-width="1" stroke-linejoin="miter"/>
<polyline points="1371.53,249.42 1414.34,278.17 1457.4,275.72" fill="none" stroke="#111" stroke-width="1" stroke-linejoin="miter"/>
<polyline points="1371.53,251.25 1414.34,278.17" fill="none" stroke="#111" stroke-width="1" stroke-linejoin="miter"/>
<polyline points="1371.53,257.98 1414.34,251.25 1457.4,248.2 1500.34,248.2" fill="none" stroke="#111" stroke-width="1" stroke-linejoin="miter"/>
<polyline points="1371.53,268.38 1414.34,249.17 1457.4,243.55 1500.34,252.48" fill="none" stroke="#111" stroke-width="1" stroke-linejoin="miter"/>
<polyline points="1371.53,270.83 1414.34,251.25 1457.4,254.07" fill="none" stroke="#111" stroke-width="1" stroke-linejoin="miter"/>
<polyline points="1371.53,272.66 1414.34,260.06 1457.4,248.2 1500.34,252.48" fill="none" stroke="#111" stroke-width="1" stroke-linejoin="miter"/>
<polyline points="1371.53,277.55 1414.34,266.54 1457.4,243.55 1500.34,248.2" fill="none" stroke="#111" stroke-width="1" stroke-linejoin="miter"/>
<polyline points="1371.53,281.83 1414.34,273.88 1457.4,275.72 1500.34,257.74" fill="none" stroke="#111" stroke-width="1" stroke-linejoin="miter"/>
<polyline points="1371.53,283.67 1414.34,281.22 1457.4,279.39 1500.34,264.46" fill="none" stroke="#111" stroke-width="1" stroke-linejoin="miter"/>
<polyline points="1371.53,281.83 1414.34,283.67 1457.4,275.72 1500.34,272.66" fill="none" stroke="#111" stroke-width="1" stroke-linejoin="miter"/>
<polyline points="1371.53,277.55 1414.34,278.17 1457.4,281.83 1500.34,277.55" fill="none" stroke="#111" stroke-width="1" stroke-linejoin="miter"/>
<polyline points="1414.34,251.25 1457.4,275.72 1500.34,281.22" fill="none" stroke="#111" stroke-width="1" stroke-linejoin="miter"/>
<polyline points="1457.4,243.55 1500.34,272.66" fill="none" stroke="#111" stroke-width="1" stroke-linejoin="miter"/>
<polyline points="1457.4,248.2 1500.34,281.22" fill="none" stroke="#111" stroke-width="1" stroke-linejoin="miter"/>
<polyline points="1371.53,272.66 1414.34,273.88 1457.4,269.6 1500.34,277.55" fill="none" stroke="#111" stroke-width="1" stroke-linejoin="miter"/>
<polyline points="1371.53,260.8 1414.34,260.06 1457.4,265.93 1500.34,281.22" fill="none" stroke="#111" stroke-width="1" stroke-linejoin="miter"/>
<polyline points="1543.12,159.63 1586.06,253.7" fill="none" stroke="#111" stroke-width="1" stroke-linejoin="miter"/>
<polyline points="1543.12,249.66 1586.06,253.7 1628.99,257.61" fill="none" stroke="#111" stroke-width="1" stroke-linejoin="miter"/>
<polyline points="1543.12,260.43 1586.06,234.13 1671.93,230.09" fill="none" stroke="#111" stroke-width="1" stroke-linejoin="miter"/>
<polyline points="1543.12,274.5 1586.06,222.51 1628.99,240.86" fill="none" stroke="#111" stroke-width="1" stroke-linejoin="miter"/>
<polyline points="1543.12,275.72 1628.99,215.17 1671.93,264.71" fill="none" stroke="#111" stroke-width="1" stroke-linejoin="miter"/>
<polyline points="1543.12,270.21 1671.93,271.68" fill="none" stroke="#111" stroke-width="1" stroke-linejoin="miter"/>
<polyline points="1543.12,274.5 1628.99,252.72 1671.93,193.52" fill="none" stroke="#111" stroke-width="1" stroke-linejoin="miter"/>
<polyline points="1543.12,280.61 1586.06,280 1628.99,257.61" fill="none" stroke="#111" stroke-width="1" stroke-linejoin="miter"/>
<polyline points="1543.12,280.61 1586.06,283.67 1628.99,283.3" fill="none" stroke="#111" stroke-width="1" stroke-linejoin="miter"/>
<polyline points="1543.12,283.67 1586.06,283.67 1628.99,283.3" fill="none" stroke="#111" stroke-width="1" stroke-linejoin="miter"/>
<polyline points="1543.12,280.61 1586.06,281.83 1671.93,274.86" fill="none" stroke="#111" stroke-width="1" stroke-linejoin="miter"/>
<circle cx="1371.53" cy="135.9" r="4" fill="#80CC28" stroke="#000" stroke-width="0.9"/>
<circle cx="1371.53" cy="159.51" r="4" fill="#80CC28" stroke="#000" stroke-width="0.9"/>
<circle cx="1371.53" cy="206.36" r="4" fill="#80CC28" stroke="#000" stroke-width="0.9"/>
<circle cx="1371.53" cy="249.42" r="4" fill="#80CC28" stroke="#000" stroke-width="0.9"/>
<circle cx="1371.53" cy="251.25" r="4" fill="#80CC28" stroke="#000" stroke-width="0.9"/>
<circle cx="1371.53" cy="257.98" r="4" fill="#80CC28" stroke="#000" stroke-width="0.9"/>
<circle cx="1371.53" cy="260.8" r="4" fill="#80CC28" stroke="#000" stroke-width="0.9"/>
<circle cx="1371.53" cy="268.38" r="4" fill="#80CC28" stroke="#000" stroke-width="0.9"/>
<circle cx="1371.53" cy="270.83" r="4" fill="#80CC28" stroke="#000" stroke-width="0.9"/>
<circle cx="1371.53" cy="272.66" r="4" fill="#80CC28" stroke="#000" stroke-width="0.9"/>
<circle cx="1371.53" cy="277.55" r="4" fill="#80CC28" stroke="#000" stroke-width="0.9"/>
<circle cx="1371.53" cy="281.83" r="4" fill="#80CC28" stroke="#000" stroke-width="0.9"/>
<circle cx="1371.53" cy="283.67" r="4" fill="#80CC28" stroke="#000" stroke-width="0.9"/>
<circle cx="1414.34" cy="200.86" r="4" fill="#80CC28" stroke="#000" stroke-width="0.9"/>
<circle cx="1414.34" cy="240.24" r="4" fill="#80CC28" stroke="#000" stroke-width="0.9"/>
<circle cx="1414.34" cy="249.17" r="4" fill="#80CC28" stroke="#000" stroke-width="0.9"/>
<circle cx="1414.34" cy="251.25" r="4" fill="#80CC28" stroke="#000" stroke-width="0.9"/>
<circle cx="1414.34" cy="260.06" r="4" fill="#80CC28" stroke="#000" stroke-width="0.9"/>
<circle cx="1414.34" cy="266.54" r="4" fill="#80CC28" stroke="#000" stroke-width="0.9"/>
<circle cx="1414.34" cy="273.88" r="4" fill="#80CC28" stroke="#000" stroke-width="0.9"/>
<circle cx="1414.34" cy="278.17" r="4" fill="#80CC28" stroke="#000" stroke-width="0.9"/>
<circle cx="1414.34" cy="281.22" r="4" fill="#80CC28" stroke="#000" stroke-width="0.9"/>
<circle cx="1414.34" cy="283.67" r="4" fill="#80CC28" stroke="#000" stroke-width="0.9"/>
<circle cx="1457.4" cy="210.28" r="4" fill="#80CC28" stroke="#000" stroke-width="0.9"/>
<circle cx="1457.4" cy="240.24" r="4" fill="#80CC28" stroke="#000" stroke-width="0.9"/>
<circle cx="1457.4" cy="243.55" r="4" fill="#80CC28" stroke="#000" stroke-width="0.9"/>
<circle cx="1457.4" cy="248.2" r="4" fill="#80CC28" stroke="#000" stroke-width="0.9"/>
<circle cx="1457.4" cy="254.07" r="4" fill="#80CC28" stroke="#000" stroke-width="0.9"/>
<circle cx="1457.4" cy="265.93" r="4" fill="#80CC28" stroke="#000" stroke-width="0.9"/>
<circle cx="1457.4" cy="269.6" r="4" fill="#80CC28" stroke="#000" stroke-width="0.9"/>
<circle cx="1457.4" cy="275.72" r="4" fill="#80CC28" stroke="#000" stroke-width="0.9"/>
<circle cx="1457.4" cy="279.39" r="4" fill="#80CC28" stroke="#000" stroke-width="0.9"/>
<circle cx="1457.4" cy="281.83" r="4" fill="#80CC28" stroke="#000" stroke-width="0.9"/>
<circle cx="1500.34" cy="205.02" r="4" fill="#80CC28" stroke="#000" stroke-width="0.9"/>
<circle cx="1500.34" cy="225.81" r="4" fill="#80CC28" stroke="#000" stroke-width="0.9"/>
<circle cx="1500.34" cy="248.2" r="4" fill="#80CC28" stroke="#000" stroke-width="0.9"/>
<circle cx="1500.34" cy="252.48" r="4" fill="#80CC28" stroke="#000" stroke-width="0.9"/>
<circle cx="1500.34" cy="257.74" r="4" fill="#80CC28" stroke="#000" stroke-width="0.9"/>
<circle cx="1500.34" cy="264.46" r="4" fill="#80CC28" stroke="#000" stroke-width="0.9"/>
<circle cx="1500.34" cy="272.66" r="4" fill="#80CC28" stroke="#000" stroke-width="0.9"/>
<circle cx="1500.34" cy="277.55" r="4" fill="#80CC28" stroke="#000" stroke-width="0.9"/>
<circle cx="1500.34" cy="281.22" r="4" fill="#80CC28" stroke="#000" stroke-width="0.9"/>
<circle cx="1543.12" cy="159.63" r="4" fill="#8E1752" stroke="#000" stroke-width="0.9"/>
<circle cx="1543.12" cy="249.66" r="4" fill="#8E1752" stroke="#000" stroke-width="0.9"/>
<circle cx="1543.12" cy="260.43" r="4" fill="#8E1752" stroke="#000" stroke-width="0.9"/>
<circle cx="1543.12" cy="270.21" r="4" fill="#8E1752" stroke="#000" stroke-width="0.9"/>
<circle cx="1543.12" cy="274.5" r="4" fill="#8E1752" stroke="#000" stroke-width="0.9"/>
<circle cx="1543.12" cy="280.61" r="4" fill="#8E1752" stroke="#000" stroke-width="0.9"/>
<circle cx="1543.12" cy="283.67" r="4" fill="#8E1752" stroke="#000" stroke-width="0.9"/>
<circle cx="1586.06" cy="222.51" r="4" fill="#8E1752" stroke="#000" stroke-width="0.9"/>
<circle cx="1586.06" cy="234.13" r="4" fill="#8E1752" stroke="#000" stroke-width="0.9"/>
<circle cx="1586.06" cy="253.7" r="4" fill="#8E1752" stroke="#000" stroke-width="0.9"/>
<circle cx="1586.06" cy="280" r="4" fill="#8E1752" stroke="#000" stroke-width="0.9"/>
<circle cx="1586.06" cy="283.67" r="4" fill="#8E1752" stroke="#000" stroke-width="0.9"/>
<circle cx="1628.99" cy="215.17" r="4" fill="#8E1752" stroke="#000" stroke-width="0.9"/>
<circle cx="1628.99" cy="240.86" r="4" fill="#8E1752" stroke="#000" stroke-width="0.9"/>
<circle cx="1628.99" cy="252.72" r="4" fill="#8E1752" stroke="#000" stroke-width="0.9"/>
<circle cx="1628.99" cy="257.61" r="4" fill="#8E1752" stroke="#000" stroke-width="0.9"/>
<circle cx="1628.99" cy="283.3" r="4" fill="#8E1752" stroke="#000" stroke-width="0.9"/>
<circle cx="1671.93" cy="193.52" r="4" fill="#8E1752" stroke="#000" stroke-width="0.9"/>
<circle cx="1671.93" cy="230.09" r="4" fill="#8E1752" stroke="#000" stroke-width="0.9"/>
<circle cx="1671.93" cy="264.71" r="4" fill="#8E1752" stroke="#000" stroke-width="0.9"/>
<circle cx="1671.93" cy="271.68" r="4" fill="#8E1752" stroke="#000" stroke-width="0.9"/>
<circle cx="1671.93" cy="274.86" r="4" fill="#8E1752" stroke="#000" stroke-width="0.9"/>
<line x1="1342.8" y1="91.15" x2="1342.8" y2="287.16" stroke="#000" stroke-width="1.8"/>
<line x1="1341.9" y1="286.36" x2="1701.2" y2="286.36" stroke="#000" stroke-width="1.6"/>
<line x1="1333.3" y1="286.36" x2="1342.8" y2="286.36" stroke="#222" stroke-width="1"/>
<text transform="translate(1332.1 292.12) scale(0.93 1)" font-size="16" text-anchor="end" fill="#000" stroke="#000" stroke-width="0.4">0</text>
<line x1="1333.3" y1="237.74" x2="1342.8" y2="237.74" stroke="#222" stroke-width="1"/>
<text transform="translate(1332.1 243.5) scale(0.93 1)" font-size="16" text-anchor="end" fill="#000" stroke="#000" stroke-width="0.4">10</text>
<line x1="1333.3" y1="189.11" x2="1342.8" y2="189.11" stroke="#222" stroke-width="1"/>
<text transform="translate(1332.1 194.87) scale(0.93 1)" font-size="16" text-anchor="end" fill="#000" stroke="#000" stroke-width="0.4">20</text>
<line x1="1333.3" y1="140.49" x2="1342.8" y2="140.49" stroke="#222" stroke-width="1"/>
<text transform="translate(1332.1 146.25) scale(0.93 1)" font-size="16" text-anchor="end" fill="#000" stroke="#000" stroke-width="0.4">30</text>
<line x1="1333.3" y1="91.87" x2="1342.8" y2="91.87" stroke="#222" stroke-width="1"/>
<text transform="translate(1332.1 97.63) scale(0.93 1)" font-size="16" text-anchor="end" fill="#000" stroke="#000" stroke-width="0.4">40</text>
<line x1="1371.53" y1="286.36" x2="1371.53" y2="295.86" stroke="#222" stroke-width="1"/>
<text transform="translate(1372.53 311.36) rotate(-45) scale(0.93 1)" font-size="16" text-anchor="end" fill="#000" stroke="#000" stroke-width="0.4">Baseline</text>
<line x1="1414.34" y1="286.36" x2="1414.34" y2="295.86" stroke="#222" stroke-width="1"/>
<text transform="translate(1415.34 311.36) rotate(-45) scale(0.93 1)" font-size="16" text-anchor="end" fill="#000" stroke="#000" stroke-width="0.4">1<tspan dy="-5.28" font-size="10.56">st</tspan><tspan dy="5.28"> dose</tspan></text>
<line x1="1457.4" y1="286.36" x2="1457.4" y2="295.86" stroke="#222" stroke-width="1"/>
<text transform="translate(1458.4 311.36) rotate(-45) scale(0.93 1)" font-size="16" text-anchor="end" fill="#000" stroke="#000" stroke-width="0.4">2<tspan dy="-5.28" font-size="10.56">nd</tspan><tspan dy="5.28">  dose</tspan></text>
<line x1="1500.34" y1="286.36" x2="1500.34" y2="295.86" stroke="#222" stroke-width="1"/>
<text transform="translate(1501.34 311.36) rotate(-45) scale(0.93 1)" font-size="16" text-anchor="end" fill="#000" stroke="#000" stroke-width="0.4">3<tspan dy="-5.28" font-size="10.56">rd</tspan><tspan dy="5.28"> dose</tspan></text>
<line x1="1543.12" y1="286.36" x2="1543.12" y2="295.86" stroke="#222" stroke-width="1"/>
<text transform="translate(1544.12 311.36) rotate(-45) scale(0.93 1)" font-size="16" text-anchor="end" fill="#000" stroke="#000" stroke-width="0.4">Baseline</text>
<line x1="1586.06" y1="286.36" x2="1586.06" y2="295.86" stroke="#222" stroke-width="1"/>
<text transform="translate(1587.06 311.36) rotate(-45) scale(0.93 1)" font-size="16" text-anchor="end" fill="#000" stroke="#000" stroke-width="0.4">1<tspan dy="-5.28" font-size="10.56">st</tspan><tspan dy="5.28"> dose</tspan></text>
<line x1="1628.99" y1="286.36" x2="1628.99" y2="295.86" stroke="#222" stroke-width="1"/>
<text transform="translate(1629.99 311.36) rotate(-45) scale(0.93 1)" font-size="16" text-anchor="end" fill="#000" stroke="#000" stroke-width="0.4">2<tspan dy="-5.28" font-size="10.56">nd</tspan><tspan dy="5.28">  dose</tspan></text>
<line x1="1671.93" y1="286.36" x2="1671.93" y2="295.86" stroke="#222" stroke-width="1"/>
<text transform="translate(1672.93 311.36) rotate(-45) scale(0.93 1)" font-size="16" text-anchor="end" fill="#000" stroke="#000" stroke-width="0.4">3<tspan dy="-5.28" font-size="10.56">rd</tspan><tspan dy="5.28"> dose</tspan></text>
<text transform="translate(78.8 53.9)" font-size="21.6" text-anchor="start" textLength="169.3" lengthAdjust="spacingAndGlyphs" fill="#000" stroke="#000" stroke-width="0.4">SARS-CoV-2 naive</text>
<text transform="translate(271.3 53.9)" font-size="21.6" text-anchor="start" textLength="160.6" lengthAdjust="spacingAndGlyphs" fill="#000" stroke="#000" stroke-width="0.4">prior SARS-CoV-2</text>
<text transform="translate(498 53.9)" font-size="21.6" text-anchor="start" textLength="170" lengthAdjust="spacingAndGlyphs" fill="#000" stroke="#000" stroke-width="0.4">SARS-CoV-2 naive</text>
<text transform="translate(684.7 53.9)" font-size="21.6" text-anchor="start" textLength="161.7" lengthAdjust="spacingAndGlyphs" fill="#000" stroke="#000" stroke-width="0.4">prior SARS-CoV-2</text>
<text transform="translate(908.4 53.9)" font-size="21.6" text-anchor="start" textLength="169.6" lengthAdjust="spacingAndGlyphs" fill="#000" stroke="#000" stroke-width="0.4">SARS-CoV-2 naive</text>
<text transform="translate(1110.3 53.9)" font-size="21.6" text-anchor="start" textLength="161.2" lengthAdjust="spacingAndGlyphs" fill="#000" stroke="#000" stroke-width="0.4">prior SARS-CoV-2</text>
<text transform="translate(1349.3 53.9)" font-size="21.6" text-anchor="start" textLength="169" lengthAdjust="spacingAndGlyphs" fill="#000" stroke="#000" stroke-width="0.4">SARS-CoV-2 naive</text>
<text transform="translate(1541.3 53.9)" font-size="21.6" text-anchor="start" textLength="161.7" lengthAdjust="spacingAndGlyphs" fill="#000" stroke="#000" stroke-width="0.4">prior SARS-CoV-2</text>
<text transform="translate(7.6 15.1) scale(1.05 1)" font-size="26.3" text-anchor="start" fill="#000" stroke="#000" stroke-width="0.3">a</text>
<text transform="translate(438.8 19.8) scale(1.05 1)" font-size="26.3" text-anchor="start" fill="#000" stroke="#000" stroke-width="0.3">b</text>
<text transform="translate(870.3 15.1) scale(1.05 1)" font-size="26.3" text-anchor="start" fill="#000" stroke="#000" stroke-width="0.3">c</text>
<text transform="translate(1293 19.9) scale(1.05 1)" font-size="26.3" text-anchor="start" fill="#000" stroke="#000" stroke-width="0.3">d</text>
<text transform="translate(12 239.1) rotate(-90)" font-size="15.5" text-anchor="start" textLength="91.2" lengthAdjust="spacingAndGlyphs" fill="#000" stroke="#000" stroke-width="0.4">% of NK cells</text>
<text transform="translate(31.6 242.8) rotate(-90)" font-size="15.5" text-anchor="start" textLength="94.6" lengthAdjust="spacingAndGlyphs" fill="#000" stroke="#000" stroke-width="0.4">(out of lymph)</text>
<text transform="translate(443.6 272.9) rotate(-90)" font-size="16" text-anchor="start" textLength="159" lengthAdjust="spacingAndGlyphs" fill="#000" stroke="#000" stroke-width="0.4">% of CD56<tspan dy="-5.76" dx="0.5" font-size="10.56">dim</tspan><tspan dy="5.76"> NK cells</tspan></text>
<text transform="translate(885.2 279.9) rotate(-90)" font-size="16" text-anchor="start" textLength="171.8" lengthAdjust="spacingAndGlyphs" fill="#000" stroke="#000" stroke-width="0.4">% of CD56<tspan dy="-5.76" dx="0.5" font-size="10.56">bright</tspan><tspan dy="5.76"> NK cells</tspan></text>
<text transform="translate(1305.5 269.8) rotate(-90)" font-size="16" text-anchor="start" textLength="157.4" lengthAdjust="spacingAndGlyphs" fill="#000" stroke="#000" stroke-width="0.4">% of CD56<tspan dy="-5.76" dx="0.5" font-size="10.56">neg</tspan><tspan dy="5.76"> NK cells</tspan></text>
<rect x="97.71" y="543.5" width="179.82" height="179.52" fill="none" stroke="#333" stroke-width="0.7"/>
<line x1="108.72" y1="723.03" x2="108.72" y2="727.23" stroke="#000" stroke-width="1.3"/>
<text transform="translate(112.22 738.63)" font-size="6.6" text-anchor="middle" fill="#000" stroke="#000" stroke-width="0.2">-10<tspan dy="-2.24" dx="1.4" font-size="5.94">3</tspan></text>
<line x1="141.01" y1="723.03" x2="141.01" y2="727.23" stroke="#000" stroke-width="1.3"/>
<text transform="translate(141.01 738.63)" font-size="6.6" text-anchor="middle" fill="#000" stroke="#000" stroke-width="0.2">0</text>
<line x1="168.61" y1="723.03" x2="168.61" y2="727.23" stroke="#000" stroke-width="1.3"/>
<text transform="translate(172.11 738.63)" font-size="6.6" text-anchor="middle" fill="#000" stroke="#000" stroke-width="0.2">10<tspan dy="-2.24" dx="1.4" font-size="5.94">3</tspan></text>
<line x1="217.34" y1="723.03" x2="217.34" y2="727.23" stroke="#000" stroke-width="1.3"/>
<text transform="translate(220.84 738.63)" font-size="6.6" text-anchor="middle" fill="#000" stroke="#000" stroke-width="0.2">10<tspan dy="-2.24" dx="1.4" font-size="5.94">4</tspan></text>
<line x1="259.91" y1="723.03" x2="259.91" y2="727.23" stroke="#000" stroke-width="1.3"/>
<text transform="translate(263.41 738.63)" font-size="6.6" text-anchor="middle" fill="#000" stroke="#000" stroke-width="0.2">10<tspan dy="-2.24" dx="1.4" font-size="5.94">5</tspan></text>
<line x1="183.28" y1="723.03" x2="183.28" y2="725.43" stroke="#000" stroke-width="0.8"/>
<line x1="191.86" y1="723.03" x2="191.86" y2="725.43" stroke="#000" stroke-width="0.8"/>
<line x1="197.95" y1="723.03" x2="197.95" y2="725.43" stroke="#000" stroke-width="0.8"/>
<line x1="202.67" y1="723.03" x2="202.67" y2="725.43" stroke="#000" stroke-width="0.8"/>
<line x1="206.53" y1="723.03" x2="206.53" y2="725.43" stroke="#000" stroke-width="0.8"/>
<line x1="209.79" y1="723.03" x2="209.79" y2="725.43" stroke="#000" stroke-width="0.8"/>
<line x1="212.62" y1="723.03" x2="212.62" y2="725.43" stroke="#000" stroke-width="0.8"/>
<line x1="215.11" y1="723.03" x2="215.11" y2="725.43" stroke="#000" stroke-width="0.8"/>
<line x1="230.15" y1="723.03" x2="230.15" y2="725.43" stroke="#000" stroke-width="0.8"/>
<line x1="237.65" y1="723.03" x2="237.65" y2="725.43" stroke="#000" stroke-width="0.8"/>
<line x1="242.97" y1="723.03" x2="242.97" y2="725.43" stroke="#000" stroke-width="0.8"/>
<line x1="247.09" y1="723.03" x2="247.09" y2="725.43" stroke="#000" stroke-width="0.8"/>
<line x1="250.46" y1="723.03" x2="250.46" y2="725.43" stroke="#000" stroke-width="0.8"/>
<line x1="253.31" y1="723.03" x2="253.31" y2="725.43" stroke="#000" stroke-width="0.8"/>
<line x1="255.78" y1="723.03" x2="255.78" y2="725.43" stroke="#000" stroke-width="0.8"/>
<line x1="257.96" y1="723.03" x2="257.96" y2="725.43" stroke="#000" stroke-width="0.8"/>
<line x1="272.72" y1="723.03" x2="272.72" y2="725.43" stroke="#000" stroke-width="0.8"/>
<line x1="135.41" y1="723.03" x2="135.41" y2="726.03" stroke="#000" stroke-width="0.95"/>
<line x1="136.41" y1="723.03" x2="136.41" y2="726.03" stroke="#000" stroke-width="0.95"/>
<line x1="137.41" y1="723.03" x2="137.41" y2="726.03" stroke="#000" stroke-width="0.95"/>
<line x1="138.31" y1="723.03" x2="138.31" y2="727.23" stroke="#000" stroke-width="0.95"/>
<line x1="139.21" y1="723.03" x2="139.21" y2="727.23" stroke="#000" stroke-width="0.95"/>
<line x1="140.11" y1="723.03" x2="140.11" y2="727.23" stroke="#000" stroke-width="0.95"/>
<line x1="141.91" y1="723.03" x2="141.91" y2="727.23" stroke="#000" stroke-width="0.95"/>
<line x1="142.81" y1="723.03" x2="142.81" y2="727.23" stroke="#000" stroke-width="0.95"/>
<line x1="143.71" y1="723.03" x2="143.71" y2="727.23" stroke="#000" stroke-width="0.95"/>
<line x1="144.61" y1="723.03" x2="144.61" y2="726.03" stroke="#000" stroke-width="0.95"/>
<line x1="145.61" y1="723.03" x2="145.61" y2="726.03" stroke="#000" stroke-width="0.95"/>
<line x1="146.61" y1="723.03" x2="146.61" y2="726.03" stroke="#000" stroke-width="0.95"/>
<line x1="150.67" y1="723.03" x2="150.67" y2="725.43" stroke="#000" stroke-width="0.8"/>
<line x1="156.19" y1="723.03" x2="156.19" y2="725.43" stroke="#000" stroke-width="0.8"/>
<line x1="160.33" y1="723.03" x2="160.33" y2="725.43" stroke="#000" stroke-width="0.8"/>
<line x1="163.64" y1="723.03" x2="163.64" y2="725.43" stroke="#000" stroke-width="0.8"/>
<line x1="166.4" y1="723.03" x2="166.4" y2="725.43" stroke="#000" stroke-width="0.8"/>
<line x1="131.35" y1="723.03" x2="131.35" y2="725.43" stroke="#000" stroke-width="0.8"/>
<line x1="125.83" y1="723.03" x2="125.83" y2="725.43" stroke="#000" stroke-width="0.8"/>
<line x1="121.69" y1="723.03" x2="121.69" y2="725.43" stroke="#000" stroke-width="0.8"/>
<line x1="118.38" y1="723.03" x2="118.38" y2="725.43" stroke="#000" stroke-width="0.8"/>
<line x1="115.62" y1="723.03" x2="115.62" y2="725.43" stroke="#000" stroke-width="0.8"/>
<line x1="113.41" y1="723.03" x2="113.41" y2="725.43" stroke="#000" stroke-width="0.8"/>
<line x1="109.27" y1="723.03" x2="109.27" y2="725.43" stroke="#000" stroke-width="0.8"/>
<line x1="93.51" y1="560.53" x2="97.71" y2="560.53" stroke="#000" stroke-width="1.3"/>
<text transform="translate(90.21 563.43)" font-size="6.6" text-anchor="end" fill="#000" stroke="#000" stroke-width="0.2">10<tspan dy="-2.24" dx="1.4" font-size="5.94">5</tspan></text>
<line x1="93.51" y1="602.95" x2="97.71" y2="602.95" stroke="#000" stroke-width="1.3"/>
<text transform="translate(90.21 605.85)" font-size="6.6" text-anchor="end" fill="#000" stroke="#000" stroke-width="0.2">10<tspan dy="-2.24" dx="1.4" font-size="5.94">4</tspan></text>
<line x1="93.51" y1="652.13" x2="97.71" y2="652.13" stroke="#000" stroke-width="1.3"/>
<text transform="translate(90.21 655.03)" font-size="6.6" text-anchor="end" fill="#000" stroke="#000" stroke-width="0.2">10<tspan dy="-2.24" dx="1.4" font-size="5.94">3</tspan></text>
<line x1="93.51" y1="681.93" x2="97.71" y2="681.93" stroke="#000" stroke-width="1.3"/>
<text transform="translate(90.21 684.83)" font-size="6.6" text-anchor="end" fill="#000" stroke="#000" stroke-width="0.2">0</text>
<line x1="93.51" y1="711.72" x2="97.71" y2="711.72" stroke="#000" stroke-width="1.3"/>
<text transform="translate(90.21 714.62)" font-size="6.6" text-anchor="end" fill="#000" stroke="#000" stroke-width="0.2">-10<tspan dy="-2.24" dx="1.4" font-size="5.94">3</tspan></text>
<line x1="95.31" y1="590.18" x2="97.71" y2="590.18" stroke="#000" stroke-width="0.8"/>
<line x1="95.31" y1="582.71" x2="97.71" y2="582.71" stroke="#000" stroke-width="0.8"/>
<line x1="95.31" y1="577.41" x2="97.71" y2="577.41" stroke="#000" stroke-width="0.8"/>
<line x1="95.31" y1="573.3" x2="97.71" y2="573.3" stroke="#000" stroke-width="0.8"/>
<line x1="95.31" y1="569.94" x2="97.71" y2="569.94" stroke="#000" stroke-width="0.8"/>
<line x1="95.31" y1="567.1" x2="97.71" y2="567.1" stroke="#000" stroke-width="0.8"/>
<line x1="95.31" y1="564.64" x2="97.71" y2="564.64" stroke="#000" stroke-width="0.8"/>
<line x1="95.31" y1="562.47" x2="97.71" y2="562.47" stroke="#000" stroke-width="0.8"/>
<line x1="95.31" y1="637.33" x2="97.71" y2="637.33" stroke="#000" stroke-width="0.8"/>
<line x1="95.31" y1="628.67" x2="97.71" y2="628.67" stroke="#000" stroke-width="0.8"/>
<line x1="95.31" y1="622.52" x2="97.71" y2="622.52" stroke="#000" stroke-width="0.8"/>
<line x1="95.31" y1="617.76" x2="97.71" y2="617.76" stroke="#000" stroke-width="0.8"/>
<line x1="95.31" y1="613.86" x2="97.71" y2="613.86" stroke="#000" stroke-width="0.8"/>
<line x1="95.31" y1="610.57" x2="97.71" y2="610.57" stroke="#000" stroke-width="0.8"/>
<line x1="95.31" y1="607.72" x2="97.71" y2="607.72" stroke="#000" stroke-width="0.8"/>
<line x1="95.31" y1="605.2" x2="97.71" y2="605.2" stroke="#000" stroke-width="0.8"/>
<line x1="95.31" y1="547.76" x2="97.71" y2="547.76" stroke="#000" stroke-width="0.8"/>
<line x1="94.71" y1="676.33" x2="97.71" y2="676.33" stroke="#000" stroke-width="0.95"/>
<line x1="94.71" y1="677.33" x2="97.71" y2="677.33" stroke="#000" stroke-width="0.95"/>
<line x1="94.71" y1="678.33" x2="97.71" y2="678.33" stroke="#000" stroke-width="0.95"/>
<line x1="93.51" y1="679.23" x2="97.71" y2="679.23" stroke="#000" stroke-width="0.95"/>
<line x1="93.51" y1="680.13" x2="97.71" y2="680.13" stroke="#000" stroke-width="0.95"/>
<line x1="93.51" y1="681.03" x2="97.71" y2="681.03" stroke="#000" stroke-width="0.95"/>
<line x1="93.51" y1="682.83" x2="97.71" y2="682.83" stroke="#000" stroke-width="0.95"/>
<line x1="93.51" y1="683.73" x2="97.71" y2="683.73" stroke="#000" stroke-width="0.95"/>
<line x1="93.51" y1="684.63" x2="97.71" y2="684.63" stroke="#000" stroke-width="0.95"/>
<line x1="94.71" y1="685.53" x2="97.71" y2="685.53" stroke="#000" stroke-width="0.95"/>
<line x1="94.71" y1="686.53" x2="97.71" y2="686.53" stroke="#000" stroke-width="0.95"/>
<line x1="94.71" y1="687.53" x2="97.71" y2="687.53" stroke="#000" stroke-width="0.95"/>
<line x1="95.31" y1="671.5" x2="97.71" y2="671.5" stroke="#000" stroke-width="0.8"/>
<line x1="95.31" y1="665.54" x2="97.71" y2="665.54" stroke="#000" stroke-width="0.8"/>
<line x1="95.31" y1="661.07" x2="97.71" y2="661.07" stroke="#000" stroke-width="0.8"/>
<line x1="95.31" y1="657.49" x2="97.71" y2="657.49" stroke="#000" stroke-width="0.8"/>
<line x1="95.31" y1="654.51" x2="97.71" y2="654.51" stroke="#000" stroke-width="0.8"/>
<line x1="95.31" y1="692.36" x2="97.71" y2="692.36" stroke="#000" stroke-width="0.8"/>
<line x1="95.31" y1="698.32" x2="97.71" y2="698.32" stroke="#000" stroke-width="0.8"/>
<line x1="95.31" y1="702.79" x2="97.71" y2="702.79" stroke="#000" stroke-width="0.8"/>
<line x1="95.31" y1="706.36" x2="97.71" y2="706.36" stroke="#000" stroke-width="0.8"/>
<line x1="95.31" y1="709.34" x2="97.71" y2="709.34" stroke="#000" stroke-width="0.8"/>
<line x1="95.31" y1="711.72" x2="97.71" y2="711.72" stroke="#000" stroke-width="0.8"/>
<line x1="95.31" y1="715.3" x2="97.71" y2="715.3" stroke="#000" stroke-width="0.8"/>
<ellipse cx="223.21" cy="600.17" rx="13.2" ry="8.4" fill="none" stroke="#111" stroke-width="0.85"/>
<ellipse cx="223.21" cy="600.17" rx="8.8" ry="5.6" fill="none" stroke="#111" stroke-width="0.85"/>
<ellipse cx="223.21" cy="600.17" rx="4.4" ry="2.8" fill="none" stroke="#111" stroke-width="0.85"/>
<path d="M199.72 588.72 L207.8 600.17 L199.72 607.8" fill="none" stroke="#111" stroke-width="0.9"/>
<ellipse cx="175.94" cy="593.12" rx="26.5" ry="19" fill="#fff" stroke="#000" stroke-width="0.7"/>
<ellipse cx="175.94" cy="593.12" rx="25.5" ry="18" fill="#fff" stroke="#000" stroke-width="0.7"/>
<ellipse cx="175.94" cy="593.12" rx="24.5" ry="17" fill="#111" stroke="none" stroke-width="0.6"/>
<ellipse cx="176.53" cy="594.15" rx="1.4" ry="1.8" fill="#fff" stroke="none" stroke-width="0.6"/>
<rect x="192.56" y="550.43" width="71.58" height="162" fill="none" stroke="#111" stroke-width="2.7"/>
<text transform="translate(222.92 685.89) scale(0.96 1)" font-size="12.6" text-anchor="middle" fill="#111" stroke="#111" stroke-width="0.3">14.67</text>
<rect x="343.3" y="543.5" width="179.82" height="179.52" fill="none" stroke="#333" stroke-width="0.7"/>
<line x1="380.44" y1="723.03" x2="380.44" y2="727.23" stroke="#000" stroke-width="1.3"/>
<text transform="translate(380.44 738.63)" font-size="6.6" text-anchor="middle" fill="#000" stroke="#000" stroke-width="0.2">0</text>
<line x1="416.99" y1="723.03" x2="416.99" y2="727.23" stroke="#000" stroke-width="1.3"/>
<text transform="translate(420.49 738.63)" font-size="6.6" text-anchor="middle" fill="#000" stroke="#000" stroke-width="0.2">10<tspan dy="-2.24" dx="1.4" font-size="5.94">3</tspan></text>
<line x1="463.96" y1="723.03" x2="463.96" y2="727.23" stroke="#000" stroke-width="1.3"/>
<text transform="translate(467.46 738.63)" font-size="6.6" text-anchor="middle" fill="#000" stroke="#000" stroke-width="0.2">10<tspan dy="-2.24" dx="1.4" font-size="5.94">4</tspan></text>
<line x1="505.5" y1="723.03" x2="505.5" y2="727.23" stroke="#000" stroke-width="1.3"/>
<text transform="translate(509 738.63)" font-size="6.6" text-anchor="middle" fill="#000" stroke="#000" stroke-width="0.2">10<tspan dy="-2.24" dx="1.4" font-size="5.94">5</tspan></text>
<line x1="431.13" y1="723.03" x2="431.13" y2="725.43" stroke="#000" stroke-width="0.8"/>
<line x1="439.4" y1="723.03" x2="439.4" y2="725.43" stroke="#000" stroke-width="0.8"/>
<line x1="445.27" y1="723.03" x2="445.27" y2="725.43" stroke="#000" stroke-width="0.8"/>
<line x1="449.82" y1="723.03" x2="449.82" y2="725.43" stroke="#000" stroke-width="0.8"/>
<line x1="453.54" y1="723.03" x2="453.54" y2="725.43" stroke="#000" stroke-width="0.8"/>
<line x1="456.69" y1="723.03" x2="456.69" y2="725.43" stroke="#000" stroke-width="0.8"/>
<line x1="459.41" y1="723.03" x2="459.41" y2="725.43" stroke="#000" stroke-width="0.8"/>
<line x1="461.81" y1="723.03" x2="461.81" y2="725.43" stroke="#000" stroke-width="0.8"/>
<line x1="476.47" y1="723.03" x2="476.47" y2="725.43" stroke="#000" stroke-width="0.8"/>
<line x1="483.78" y1="723.03" x2="483.78" y2="725.43" stroke="#000" stroke-width="0.8"/>
<line x1="488.97" y1="723.03" x2="488.97" y2="725.43" stroke="#000" stroke-width="0.8"/>
<line x1="493" y1="723.03" x2="493" y2="725.43" stroke="#000" stroke-width="0.8"/>
<line x1="496.29" y1="723.03" x2="496.29" y2="725.43" stroke="#000" stroke-width="0.8"/>
<line x1="499.07" y1="723.03" x2="499.07" y2="725.43" stroke="#000" stroke-width="0.8"/>
<line x1="501.48" y1="723.03" x2="501.48" y2="725.43" stroke="#000" stroke-width="0.8"/>
<line x1="503.6" y1="723.03" x2="503.6" y2="725.43" stroke="#000" stroke-width="0.8"/>
<line x1="518.01" y1="723.03" x2="518.01" y2="725.43" stroke="#000" stroke-width="0.8"/>
<line x1="374.84" y1="723.03" x2="374.84" y2="726.03" stroke="#000" stroke-width="0.95"/>
<line x1="375.84" y1="723.03" x2="375.84" y2="726.03" stroke="#000" stroke-width="0.95"/>
<line x1="376.84" y1="723.03" x2="376.84" y2="726.03" stroke="#000" stroke-width="0.95"/>
<line x1="377.74" y1="723.03" x2="377.74" y2="727.23" stroke="#000" stroke-width="0.95"/>
<line x1="378.64" y1="723.03" x2="378.64" y2="727.23" stroke="#000" stroke-width="0.95"/>
<line x1="379.54" y1="723.03" x2="379.54" y2="727.23" stroke="#000" stroke-width="0.95"/>
<line x1="381.34" y1="723.03" x2="381.34" y2="727.23" stroke="#000" stroke-width="0.95"/>
<line x1="382.24" y1="723.03" x2="382.24" y2="727.23" stroke="#000" stroke-width="0.95"/>
<line x1="383.14" y1="723.03" x2="383.14" y2="727.23" stroke="#000" stroke-width="0.95"/>
<line x1="384.04" y1="723.03" x2="384.04" y2="726.03" stroke="#000" stroke-width="0.95"/>
<line x1="385.04" y1="723.03" x2="385.04" y2="726.03" stroke="#000" stroke-width="0.95"/>
<line x1="386.04" y1="723.03" x2="386.04" y2="726.03" stroke="#000" stroke-width="0.95"/>
<line x1="393.23" y1="723.03" x2="393.23" y2="725.43" stroke="#000" stroke-width="0.8"/>
<line x1="400.54" y1="723.03" x2="400.54" y2="725.43" stroke="#000" stroke-width="0.8"/>
<line x1="406.03" y1="723.03" x2="406.03" y2="725.43" stroke="#000" stroke-width="0.8"/>
<line x1="410.41" y1="723.03" x2="410.41" y2="725.43" stroke="#000" stroke-width="0.8"/>
<line x1="414.07" y1="723.03" x2="414.07" y2="725.43" stroke="#000" stroke-width="0.8"/>
<line x1="367.65" y1="723.03" x2="367.65" y2="725.43" stroke="#000" stroke-width="0.8"/>
<line x1="360.34" y1="723.03" x2="360.34" y2="725.43" stroke="#000" stroke-width="0.8"/>
<line x1="354.86" y1="723.03" x2="354.86" y2="725.43" stroke="#000" stroke-width="0.8"/>
<line x1="350.47" y1="723.03" x2="350.47" y2="725.43" stroke="#000" stroke-width="0.8"/>
<line x1="346.81" y1="723.03" x2="346.81" y2="725.43" stroke="#000" stroke-width="0.8"/>
<line x1="339.1" y1="560.53" x2="343.3" y2="560.53" stroke="#000" stroke-width="1.3"/>
<text transform="translate(335.8 563.43)" font-size="6.6" text-anchor="end" fill="#000" stroke="#000" stroke-width="0.2">10<tspan dy="-2.24" dx="1.4" font-size="5.94">5</tspan></text>
<line x1="339.1" y1="602.95" x2="343.3" y2="602.95" stroke="#000" stroke-width="1.3"/>
<text transform="translate(335.8 605.85)" font-size="6.6" text-anchor="end" fill="#000" stroke="#000" stroke-width="0.2">10<tspan dy="-2.24" dx="1.4" font-size="5.94">4</tspan></text>
<line x1="339.1" y1="649.19" x2="343.3" y2="649.19" stroke="#000" stroke-width="1.3"/>
<text transform="translate(335.8 652.09)" font-size="6.6" text-anchor="end" fill="#000" stroke="#000" stroke-width="0.2">10<tspan dy="-2.24" dx="1.4" font-size="5.94">3</tspan></text>
<line x1="339.1" y1="688.24" x2="343.3" y2="688.24" stroke="#000" stroke-width="1.3"/>
<text transform="translate(335.8 691.14)" font-size="6.6" text-anchor="end" fill="#000" stroke="#000" stroke-width="0.2">0</text>
<line x1="340.9" y1="590.18" x2="343.3" y2="590.18" stroke="#000" stroke-width="0.8"/>
<line x1="340.9" y1="582.71" x2="343.3" y2="582.71" stroke="#000" stroke-width="0.8"/>
<line x1="340.9" y1="577.41" x2="343.3" y2="577.41" stroke="#000" stroke-width="0.8"/>
<line x1="340.9" y1="573.3" x2="343.3" y2="573.3" stroke="#000" stroke-width="0.8"/>
<line x1="340.9" y1="569.94" x2="343.3" y2="569.94" stroke="#000" stroke-width="0.8"/>
<line x1="340.9" y1="567.1" x2="343.3" y2="567.1" stroke="#000" stroke-width="0.8"/>
<line x1="340.9" y1="564.64" x2="343.3" y2="564.64" stroke="#000" stroke-width="0.8"/>
<line x1="340.9" y1="562.47" x2="343.3" y2="562.47" stroke="#000" stroke-width="0.8"/>
<line x1="340.9" y1="635.27" x2="343.3" y2="635.27" stroke="#000" stroke-width="0.8"/>
<line x1="340.9" y1="627.13" x2="343.3" y2="627.13" stroke="#000" stroke-width="0.8"/>
<line x1="340.9" y1="621.35" x2="343.3" y2="621.35" stroke="#000" stroke-width="0.8"/>
<line x1="340.9" y1="616.87" x2="343.3" y2="616.87" stroke="#000" stroke-width="0.8"/>
<line x1="340.9" y1="613.21" x2="343.3" y2="613.21" stroke="#000" stroke-width="0.8"/>
<line x1="340.9" y1="610.12" x2="343.3" y2="610.12" stroke="#000" stroke-width="0.8"/>
<line x1="340.9" y1="607.44" x2="343.3" y2="607.44" stroke="#000" stroke-width="0.8"/>
<line x1="340.9" y1="605.07" x2="343.3" y2="605.07" stroke="#000" stroke-width="0.8"/>
<line x1="340.9" y1="547.76" x2="343.3" y2="547.76" stroke="#000" stroke-width="0.8"/>
<line x1="340.3" y1="682.64" x2="343.3" y2="682.64" stroke="#000" stroke-width="0.95"/>
<line x1="340.3" y1="683.64" x2="343.3" y2="683.64" stroke="#000" stroke-width="0.95"/>
<line x1="340.3" y1="684.64" x2="343.3" y2="684.64" stroke="#000" stroke-width="0.95"/>
<line x1="339.1" y1="685.54" x2="343.3" y2="685.54" stroke="#000" stroke-width="0.95"/>
<line x1="339.1" y1="686.44" x2="343.3" y2="686.44" stroke="#000" stroke-width="0.95"/>
<line x1="339.1" y1="687.34" x2="343.3" y2="687.34" stroke="#000" stroke-width="0.95"/>
<line x1="339.1" y1="689.14" x2="343.3" y2="689.14" stroke="#000" stroke-width="0.95"/>
<line x1="339.1" y1="690.04" x2="343.3" y2="690.04" stroke="#000" stroke-width="0.95"/>
<line x1="339.1" y1="690.94" x2="343.3" y2="690.94" stroke="#000" stroke-width="0.95"/>
<line x1="340.3" y1="691.84" x2="343.3" y2="691.84" stroke="#000" stroke-width="0.95"/>
<line x1="340.3" y1="692.84" x2="343.3" y2="692.84" stroke="#000" stroke-width="0.95"/>
<line x1="340.3" y1="693.84" x2="343.3" y2="693.84" stroke="#000" stroke-width="0.95"/>
<line x1="340.9" y1="674.57" x2="343.3" y2="674.57" stroke="#000" stroke-width="0.8"/>
<line x1="340.9" y1="666.76" x2="343.3" y2="666.76" stroke="#000" stroke-width="0.8"/>
<line x1="340.9" y1="660.91" x2="343.3" y2="660.91" stroke="#000" stroke-width="0.8"/>
<line x1="340.9" y1="656.22" x2="343.3" y2="656.22" stroke="#000" stroke-width="0.8"/>
<line x1="340.9" y1="652.32" x2="343.3" y2="652.32" stroke="#000" stroke-width="0.8"/>
<line x1="340.9" y1="701.9" x2="343.3" y2="701.9" stroke="#000" stroke-width="0.8"/>
<line x1="340.9" y1="709.71" x2="343.3" y2="709.71" stroke="#000" stroke-width="0.8"/>
<line x1="340.9" y1="715.57" x2="343.3" y2="715.57" stroke="#000" stroke-width="0.8"/>
<line x1="340.9" y1="720.26" x2="343.3" y2="720.26" stroke="#000" stroke-width="0.8"/>
<ellipse cx="459.27" cy="597.82" rx="24" ry="15" fill="#fff" stroke="#000" stroke-width="0.7"/>
<ellipse cx="459.27" cy="597.82" rx="23" ry="14" fill="#fff" stroke="#000" stroke-width="0.7"/>
<ellipse cx="459.27" cy="597.82" rx="22" ry="13" fill="#fff" stroke="#000" stroke-width="0.7"/>
<ellipse cx="459.27" cy="597.82" rx="21" ry="12" fill="#111" stroke="none" stroke-width="0.6"/>
<ellipse cx="418.17" cy="592.39" rx="28.5" ry="20.5" fill="#fff" stroke="#000" stroke-width="0.7"/>
<ellipse cx="418.17" cy="592.39" rx="27.5" ry="19.5" fill="#fff" stroke="#000" stroke-width="0.7"/>
<ellipse cx="418.17" cy="592.39" rx="26.5" ry="18.5" fill="#fff" stroke="#000" stroke-width="0.7"/>
<ellipse cx="418.17" cy="592.39" rx="25.5" ry="17.5" fill="#111" stroke="none" stroke-width="0.6"/>
<ellipse cx="437.98" cy="596.06" rx="14" ry="13" fill="#111" stroke="none" stroke-width="0.6"/>
<ellipse cx="416.7" cy="592.83" rx="2.2" ry="2.6" fill="#fff" stroke="none" stroke-width="0.6"/>
<ellipse cx="459.27" cy="598.7" rx="2.2" ry="2" fill="#fff" stroke="none" stroke-width="0.6"/>
<rect x="440.07" y="550.43" width="69.52" height="162.88" fill="none" stroke="#111" stroke-width="2.7"/>
<text transform="translate(470.28 685.89) scale(0.96 1)" font-size="12.6" text-anchor="middle" fill="#111" stroke="#111" stroke-width="0.3">30.88</text>
<rect x="592.57" y="543.5" width="179.38" height="179.52" fill="none" stroke="#333" stroke-width="0.7"/>
<line x1="629.27" y1="723.03" x2="629.27" y2="727.23" stroke="#000" stroke-width="1.3"/>
<text transform="translate(629.27 738.63)" font-size="6.6" text-anchor="middle" fill="#000" stroke="#000" stroke-width="0.2">0</text>
<line x1="665.96" y1="723.03" x2="665.96" y2="727.23" stroke="#000" stroke-width="1.3"/>
<text transform="translate(669.46 738.63)" font-size="6.6" text-anchor="middle" fill="#000" stroke="#000" stroke-width="0.2">10<tspan dy="-2.24" dx="1.4" font-size="5.94">3</tspan></text>
<line x1="712.64" y1="723.03" x2="712.64" y2="727.23" stroke="#000" stroke-width="1.3"/>
<text transform="translate(716.14 738.63)" font-size="6.6" text-anchor="middle" fill="#000" stroke="#000" stroke-width="0.2">10<tspan dy="-2.24" dx="1.4" font-size="5.94">4</tspan></text>
<line x1="754.33" y1="723.03" x2="754.33" y2="727.23" stroke="#000" stroke-width="1.3"/>
<text transform="translate(757.83 738.63)" font-size="6.6" text-anchor="middle" fill="#000" stroke="#000" stroke-width="0.2">10<tspan dy="-2.24" dx="1.4" font-size="5.94">5</tspan></text>
<line x1="680.02" y1="723.03" x2="680.02" y2="725.43" stroke="#000" stroke-width="0.8"/>
<line x1="688.23" y1="723.03" x2="688.23" y2="725.43" stroke="#000" stroke-width="0.8"/>
<line x1="694.07" y1="723.03" x2="694.07" y2="725.43" stroke="#000" stroke-width="0.8"/>
<line x1="698.59" y1="723.03" x2="698.59" y2="725.43" stroke="#000" stroke-width="0.8"/>
<line x1="702.29" y1="723.03" x2="702.29" y2="725.43" stroke="#000" stroke-width="0.8"/>
<line x1="705.41" y1="723.03" x2="705.41" y2="725.43" stroke="#000" stroke-width="0.8"/>
<line x1="708.12" y1="723.03" x2="708.12" y2="725.43" stroke="#000" stroke-width="0.8"/>
<line x1="710.51" y1="723.03" x2="710.51" y2="725.43" stroke="#000" stroke-width="0.8"/>
<line x1="725.19" y1="723.03" x2="725.19" y2="725.43" stroke="#000" stroke-width="0.8"/>
<line x1="732.53" y1="723.03" x2="732.53" y2="725.43" stroke="#000" stroke-width="0.8"/>
<line x1="737.74" y1="723.03" x2="737.74" y2="725.43" stroke="#000" stroke-width="0.8"/>
<line x1="741.78" y1="723.03" x2="741.78" y2="725.43" stroke="#000" stroke-width="0.8"/>
<line x1="745.08" y1="723.03" x2="745.08" y2="725.43" stroke="#000" stroke-width="0.8"/>
<line x1="747.87" y1="723.03" x2="747.87" y2="725.43" stroke="#000" stroke-width="0.8"/>
<line x1="750.29" y1="723.03" x2="750.29" y2="725.43" stroke="#000" stroke-width="0.8"/>
<line x1="752.42" y1="723.03" x2="752.42" y2="725.43" stroke="#000" stroke-width="0.8"/>
<line x1="766.88" y1="723.03" x2="766.88" y2="725.43" stroke="#000" stroke-width="0.8"/>
<line x1="623.67" y1="723.03" x2="623.67" y2="726.03" stroke="#000" stroke-width="0.95"/>
<line x1="624.67" y1="723.03" x2="624.67" y2="726.03" stroke="#000" stroke-width="0.95"/>
<line x1="625.67" y1="723.03" x2="625.67" y2="726.03" stroke="#000" stroke-width="0.95"/>
<line x1="626.57" y1="723.03" x2="626.57" y2="727.23" stroke="#000" stroke-width="0.95"/>
<line x1="627.47" y1="723.03" x2="627.47" y2="727.23" stroke="#000" stroke-width="0.95"/>
<line x1="628.37" y1="723.03" x2="628.37" y2="727.23" stroke="#000" stroke-width="0.95"/>
<line x1="630.17" y1="723.03" x2="630.17" y2="727.23" stroke="#000" stroke-width="0.95"/>
<line x1="631.07" y1="723.03" x2="631.07" y2="727.23" stroke="#000" stroke-width="0.95"/>
<line x1="631.97" y1="723.03" x2="631.97" y2="727.23" stroke="#000" stroke-width="0.95"/>
<line x1="632.87" y1="723.03" x2="632.87" y2="726.03" stroke="#000" stroke-width="0.95"/>
<line x1="633.87" y1="723.03" x2="633.87" y2="726.03" stroke="#000" stroke-width="0.95"/>
<line x1="634.87" y1="723.03" x2="634.87" y2="726.03" stroke="#000" stroke-width="0.95"/>
<line x1="642.11" y1="723.03" x2="642.11" y2="725.43" stroke="#000" stroke-width="0.8"/>
<line x1="649.45" y1="723.03" x2="649.45" y2="725.43" stroke="#000" stroke-width="0.8"/>
<line x1="654.95" y1="723.03" x2="654.95" y2="725.43" stroke="#000" stroke-width="0.8"/>
<line x1="659.36" y1="723.03" x2="659.36" y2="725.43" stroke="#000" stroke-width="0.8"/>
<line x1="663.03" y1="723.03" x2="663.03" y2="725.43" stroke="#000" stroke-width="0.8"/>
<line x1="616.42" y1="723.03" x2="616.42" y2="725.43" stroke="#000" stroke-width="0.8"/>
<line x1="609.08" y1="723.03" x2="609.08" y2="725.43" stroke="#000" stroke-width="0.8"/>
<line x1="603.58" y1="723.03" x2="603.58" y2="725.43" stroke="#000" stroke-width="0.8"/>
<line x1="599.17" y1="723.03" x2="599.17" y2="725.43" stroke="#000" stroke-width="0.8"/>
<line x1="595.5" y1="723.03" x2="595.5" y2="725.43" stroke="#000" stroke-width="0.8"/>
<line x1="588.37" y1="560.53" x2="592.57" y2="560.53" stroke="#000" stroke-width="1.3"/>
<text transform="translate(585.07 563.43)" font-size="6.6" text-anchor="end" fill="#000" stroke="#000" stroke-width="0.2">10<tspan dy="-2.24" dx="1.4" font-size="5.94">5</tspan></text>
<line x1="588.37" y1="601.93" x2="592.57" y2="601.93" stroke="#000" stroke-width="1.3"/>
<text transform="translate(585.07 604.83)" font-size="6.6" text-anchor="end" fill="#000" stroke="#000" stroke-width="0.2">10<tspan dy="-2.24" dx="1.4" font-size="5.94">4</tspan></text>
<line x1="588.37" y1="649.19" x2="592.57" y2="649.19" stroke="#000" stroke-width="1.3"/>
<text transform="translate(585.07 652.09)" font-size="6.6" text-anchor="end" fill="#000" stroke="#000" stroke-width="0.2">10<tspan dy="-2.24" dx="1.4" font-size="5.94">3</tspan></text>
<line x1="588.37" y1="688.24" x2="592.57" y2="688.24" stroke="#000" stroke-width="1.3"/>
<text transform="translate(585.07 691.14)" font-size="6.6" text-anchor="end" fill="#000" stroke="#000" stroke-width="0.2">0</text>
<line x1="590.17" y1="589.47" x2="592.57" y2="589.47" stroke="#000" stroke-width="0.8"/>
<line x1="590.17" y1="582.18" x2="592.57" y2="582.18" stroke="#000" stroke-width="0.8"/>
<line x1="590.17" y1="577" x2="592.57" y2="577" stroke="#000" stroke-width="0.8"/>
<line x1="590.17" y1="572.99" x2="592.57" y2="572.99" stroke="#000" stroke-width="0.8"/>
<line x1="590.17" y1="569.72" x2="592.57" y2="569.72" stroke="#000" stroke-width="0.8"/>
<line x1="590.17" y1="566.94" x2="592.57" y2="566.94" stroke="#000" stroke-width="0.8"/>
<line x1="590.17" y1="564.54" x2="592.57" y2="564.54" stroke="#000" stroke-width="0.8"/>
<line x1="590.17" y1="562.43" x2="592.57" y2="562.43" stroke="#000" stroke-width="0.8"/>
<line x1="590.17" y1="634.96" x2="592.57" y2="634.96" stroke="#000" stroke-width="0.8"/>
<line x1="590.17" y1="626.64" x2="592.57" y2="626.64" stroke="#000" stroke-width="0.8"/>
<line x1="590.17" y1="620.74" x2="592.57" y2="620.74" stroke="#000" stroke-width="0.8"/>
<line x1="590.17" y1="616.16" x2="592.57" y2="616.16" stroke="#000" stroke-width="0.8"/>
<line x1="590.17" y1="612.41" x2="592.57" y2="612.41" stroke="#000" stroke-width="0.8"/>
<line x1="590.17" y1="609.25" x2="592.57" y2="609.25" stroke="#000" stroke-width="0.8"/>
<line x1="590.17" y1="606.51" x2="592.57" y2="606.51" stroke="#000" stroke-width="0.8"/>
<line x1="590.17" y1="604.09" x2="592.57" y2="604.09" stroke="#000" stroke-width="0.8"/>
<line x1="590.17" y1="548.07" x2="592.57" y2="548.07" stroke="#000" stroke-width="0.8"/>
<line x1="589.57" y1="682.64" x2="592.57" y2="682.64" stroke="#000" stroke-width="0.95"/>
<line x1="589.57" y1="683.64" x2="592.57" y2="683.64" stroke="#000" stroke-width="0.95"/>
<line x1="589.57" y1="684.64" x2="592.57" y2="684.64" stroke="#000" stroke-width="0.95"/>
<line x1="588.37" y1="685.54" x2="592.57" y2="685.54" stroke="#000" stroke-width="0.95"/>
<line x1="588.37" y1="686.44" x2="592.57" y2="686.44" stroke="#000" stroke-width="0.95"/>
<line x1="588.37" y1="687.34" x2="592.57" y2="687.34" stroke="#000" stroke-width="0.95"/>
<line x1="588.37" y1="689.14" x2="592.57" y2="689.14" stroke="#000" stroke-width="0.95"/>
<line x1="588.37" y1="690.04" x2="592.57" y2="690.04" stroke="#000" stroke-width="0.95"/>
<line x1="588.37" y1="690.94" x2="592.57" y2="690.94" stroke="#000" stroke-width="0.95"/>
<line x1="589.57" y1="691.84" x2="592.57" y2="691.84" stroke="#000" stroke-width="0.95"/>
<line x1="589.57" y1="692.84" x2="592.57" y2="692.84" stroke="#000" stroke-width="0.95"/>
<line x1="589.57" y1="693.84" x2="592.57" y2="693.84" stroke="#000" stroke-width="0.95"/>
<line x1="590.17" y1="674.57" x2="592.57" y2="674.57" stroke="#000" stroke-width="0.8"/>
<line x1="590.17" y1="666.76" x2="592.57" y2="666.76" stroke="#000" stroke-width="0.8"/>
<line x1="590.17" y1="660.91" x2="592.57" y2="660.91" stroke="#000" stroke-width="0.8"/>
<line x1="590.17" y1="656.22" x2="592.57" y2="656.22" stroke="#000" stroke-width="0.8"/>
<line x1="590.17" y1="652.32" x2="592.57" y2="652.32" stroke="#000" stroke-width="0.8"/>
<line x1="590.17" y1="701.9" x2="592.57" y2="701.9" stroke="#000" stroke-width="0.8"/>
<line x1="590.17" y1="709.71" x2="592.57" y2="709.71" stroke="#000" stroke-width="0.8"/>
<line x1="590.17" y1="715.57" x2="592.57" y2="715.57" stroke="#000" stroke-width="0.8"/>
<line x1="590.17" y1="720.26" x2="592.57" y2="720.26" stroke="#000" stroke-width="0.8"/>
<ellipse cx="710.73" cy="598.7" rx="19.5" ry="13.5" fill="#fff" stroke="#000" stroke-width="0.7"/>
<ellipse cx="710.73" cy="598.7" rx="18.5" ry="12.5" fill="#fff" stroke="#000" stroke-width="0.7"/>
<ellipse cx="710.73" cy="598.7" rx="17.5" ry="11.5" fill="#111" stroke="none" stroke-width="0.6"/>
<ellipse cx="665.23" cy="589.45" rx="26" ry="20" fill="#fff" stroke="#000" stroke-width="0.7"/>
<ellipse cx="665.23" cy="589.45" rx="25" ry="19" fill="#fff" stroke="#000" stroke-width="0.7"/>
<ellipse cx="665.23" cy="589.45" rx="24" ry="18" fill="#fff" stroke="#000" stroke-width="0.7"/>
<ellipse cx="665.23" cy="589.45" rx="23" ry="17" fill="#111" stroke="none" stroke-width="0.6"/>
<ellipse cx="687.98" cy="595.32" rx="12" ry="12" fill="#111" stroke="none" stroke-width="0.6"/>
<ellipse cx="665.96" cy="591.65" rx="3.2" ry="3.4" fill="#fff" stroke="none" stroke-width="0.6"/>
<ellipse cx="711.47" cy="599.72" rx="2" ry="1.6" fill="#fff" stroke="none" stroke-width="0.6"/>
<rect x="688.89" y="550.43" width="69.37" height="162.88" fill="none" stroke="#111" stroke-width="2.7"/>
<text transform="translate(719.25 685.89) scale(0.96 1)" font-size="12.6" text-anchor="middle" fill="#111" stroke="#111" stroke-width="0.3">37.32</text>
<rect x="829.63" y="543.5" width="179.82" height="179.52" fill="none" stroke="#333" stroke-width="0.7"/>
<line x1="866.33" y1="723.03" x2="866.33" y2="727.23" stroke="#000" stroke-width="1.3"/>
<text transform="translate(866.33 738.63)" font-size="6.6" text-anchor="middle" fill="#000" stroke="#000" stroke-width="0.2">0</text>
<line x1="903.03" y1="723.03" x2="903.03" y2="727.23" stroke="#000" stroke-width="1.3"/>
<text transform="translate(906.53 738.63)" font-size="6.6" text-anchor="middle" fill="#000" stroke="#000" stroke-width="0.2">10<tspan dy="-2.24" dx="1.4" font-size="5.94">3</tspan></text>
<line x1="950.29" y1="723.03" x2="950.29" y2="727.23" stroke="#000" stroke-width="1.3"/>
<text transform="translate(953.79 738.63)" font-size="6.6" text-anchor="middle" fill="#000" stroke="#000" stroke-width="0.2">10<tspan dy="-2.24" dx="1.4" font-size="5.94">4</tspan></text>
<line x1="991.39" y1="723.03" x2="991.39" y2="727.23" stroke="#000" stroke-width="1.3"/>
<text transform="translate(994.89 738.63)" font-size="6.6" text-anchor="middle" fill="#000" stroke="#000" stroke-width="0.2">10<tspan dy="-2.24" dx="1.4" font-size="5.94">5</tspan></text>
<line x1="917.26" y1="723.03" x2="917.26" y2="725.43" stroke="#000" stroke-width="0.8"/>
<line x1="925.58" y1="723.03" x2="925.58" y2="725.43" stroke="#000" stroke-width="0.8"/>
<line x1="931.48" y1="723.03" x2="931.48" y2="725.43" stroke="#000" stroke-width="0.8"/>
<line x1="936.07" y1="723.03" x2="936.07" y2="725.43" stroke="#000" stroke-width="0.8"/>
<line x1="939.81" y1="723.03" x2="939.81" y2="725.43" stroke="#000" stroke-width="0.8"/>
<line x1="942.97" y1="723.03" x2="942.97" y2="725.43" stroke="#000" stroke-width="0.8"/>
<line x1="945.71" y1="723.03" x2="945.71" y2="725.43" stroke="#000" stroke-width="0.8"/>
<line x1="948.13" y1="723.03" x2="948.13" y2="725.43" stroke="#000" stroke-width="0.8"/>
<line x1="962.67" y1="723.03" x2="962.67" y2="725.43" stroke="#000" stroke-width="0.8"/>
<line x1="969.9" y1="723.03" x2="969.9" y2="725.43" stroke="#000" stroke-width="0.8"/>
<line x1="975.04" y1="723.03" x2="975.04" y2="725.43" stroke="#000" stroke-width="0.8"/>
<line x1="979.02" y1="723.03" x2="979.02" y2="725.43" stroke="#000" stroke-width="0.8"/>
<line x1="982.28" y1="723.03" x2="982.28" y2="725.43" stroke="#000" stroke-width="0.8"/>
<line x1="985.03" y1="723.03" x2="985.03" y2="725.43" stroke="#000" stroke-width="0.8"/>
<line x1="987.41" y1="723.03" x2="987.41" y2="725.43" stroke="#000" stroke-width="0.8"/>
<line x1="989.51" y1="723.03" x2="989.51" y2="725.43" stroke="#000" stroke-width="0.8"/>
<line x1="1003.77" y1="723.03" x2="1003.77" y2="725.43" stroke="#000" stroke-width="0.8"/>
<line x1="860.73" y1="723.03" x2="860.73" y2="726.03" stroke="#000" stroke-width="0.95"/>
<line x1="861.73" y1="723.03" x2="861.73" y2="726.03" stroke="#000" stroke-width="0.95"/>
<line x1="862.73" y1="723.03" x2="862.73" y2="726.03" stroke="#000" stroke-width="0.95"/>
<line x1="863.63" y1="723.03" x2="863.63" y2="727.23" stroke="#000" stroke-width="0.95"/>
<line x1="864.53" y1="723.03" x2="864.53" y2="727.23" stroke="#000" stroke-width="0.95"/>
<line x1="865.43" y1="723.03" x2="865.43" y2="727.23" stroke="#000" stroke-width="0.95"/>
<line x1="867.23" y1="723.03" x2="867.23" y2="727.23" stroke="#000" stroke-width="0.95"/>
<line x1="868.13" y1="723.03" x2="868.13" y2="727.23" stroke="#000" stroke-width="0.95"/>
<line x1="869.03" y1="723.03" x2="869.03" y2="727.23" stroke="#000" stroke-width="0.95"/>
<line x1="869.93" y1="723.03" x2="869.93" y2="726.03" stroke="#000" stroke-width="0.95"/>
<line x1="870.93" y1="723.03" x2="870.93" y2="726.03" stroke="#000" stroke-width="0.95"/>
<line x1="871.93" y1="723.03" x2="871.93" y2="726.03" stroke="#000" stroke-width="0.95"/>
<line x1="879.17" y1="723.03" x2="879.17" y2="725.43" stroke="#000" stroke-width="0.8"/>
<line x1="886.51" y1="723.03" x2="886.51" y2="725.43" stroke="#000" stroke-width="0.8"/>
<line x1="892.02" y1="723.03" x2="892.02" y2="725.43" stroke="#000" stroke-width="0.8"/>
<line x1="896.42" y1="723.03" x2="896.42" y2="725.43" stroke="#000" stroke-width="0.8"/>
<line x1="900.09" y1="723.03" x2="900.09" y2="725.43" stroke="#000" stroke-width="0.8"/>
<line x1="853.49" y1="723.03" x2="853.49" y2="725.43" stroke="#000" stroke-width="0.8"/>
<line x1="846.15" y1="723.03" x2="846.15" y2="725.43" stroke="#000" stroke-width="0.8"/>
<line x1="840.64" y1="723.03" x2="840.64" y2="725.43" stroke="#000" stroke-width="0.8"/>
<line x1="836.24" y1="723.03" x2="836.24" y2="725.43" stroke="#000" stroke-width="0.8"/>
<line x1="832.57" y1="723.03" x2="832.57" y2="725.43" stroke="#000" stroke-width="0.8"/>
<line x1="825.43" y1="560.53" x2="829.63" y2="560.53" stroke="#000" stroke-width="1.3"/>
<text transform="translate(822.13 563.43)" font-size="6.6" text-anchor="end" fill="#000" stroke="#000" stroke-width="0.2">10<tspan dy="-2.24" dx="1.4" font-size="5.94">5</tspan></text>
<line x1="825.43" y1="602.95" x2="829.63" y2="602.95" stroke="#000" stroke-width="1.3"/>
<text transform="translate(822.13 605.85)" font-size="6.6" text-anchor="end" fill="#000" stroke="#000" stroke-width="0.2">10<tspan dy="-2.24" dx="1.4" font-size="5.94">4</tspan></text>
<line x1="825.43" y1="649.19" x2="829.63" y2="649.19" stroke="#000" stroke-width="1.3"/>
<text transform="translate(822.13 652.09)" font-size="6.6" text-anchor="end" fill="#000" stroke="#000" stroke-width="0.2">10<tspan dy="-2.24" dx="1.4" font-size="5.94">3</tspan></text>
<line x1="825.43" y1="688.24" x2="829.63" y2="688.24" stroke="#000" stroke-width="1.3"/>
<text transform="translate(822.13 691.14)" font-size="6.6" text-anchor="end" fill="#000" stroke="#000" stroke-width="0.2">0</text>
<line x1="827.23" y1="590.18" x2="829.63" y2="590.18" stroke="#000" stroke-width="0.8"/>
<line x1="827.23" y1="582.71" x2="829.63" y2="582.71" stroke="#000" stroke-width="0.8"/>
<line x1="827.23" y1="577.41" x2="829.63" y2="577.41" stroke="#000" stroke-width="0.8"/>
<line x1="827.23" y1="573.3" x2="829.63" y2="573.3" stroke="#000" stroke-width="0.8"/>
<line x1="827.23" y1="569.94" x2="829.63" y2="569.94" stroke="#000" stroke-width="0.8"/>
<line x1="827.23" y1="567.1" x2="829.63" y2="567.1" stroke="#000" stroke-width="0.8"/>
<line x1="827.23" y1="564.64" x2="829.63" y2="564.64" stroke="#000" stroke-width="0.8"/>
<line x1="827.23" y1="562.47" x2="829.63" y2="562.47" stroke="#000" stroke-width="0.8"/>
<line x1="827.23" y1="635.27" x2="829.63" y2="635.27" stroke="#000" stroke-width="0.8"/>
<line x1="827.23" y1="627.13" x2="829.63" y2="627.13" stroke="#000" stroke-width="0.8"/>
<line x1="827.23" y1="621.35" x2="829.63" y2="621.35" stroke="#000" stroke-width="0.8"/>
<line x1="827.23" y1="616.87" x2="829.63" y2="616.87" stroke="#000" stroke-width="0.8"/>
<line x1="827.23" y1="613.21" x2="829.63" y2="613.21" stroke="#000" stroke-width="0.8"/>
<line x1="827.23" y1="610.12" x2="829.63" y2="610.12" stroke="#000" stroke-width="0.8"/>
<line x1="827.23" y1="607.44" x2="829.63" y2="607.44" stroke="#000" stroke-width="0.8"/>
<line x1="827.23" y1="605.07" x2="829.63" y2="605.07" stroke="#000" stroke-width="0.8"/>
<line x1="827.23" y1="547.76" x2="829.63" y2="547.76" stroke="#000" stroke-width="0.8"/>
<line x1="826.63" y1="682.64" x2="829.63" y2="682.64" stroke="#000" stroke-width="0.95"/>
<line x1="826.63" y1="683.64" x2="829.63" y2="683.64" stroke="#000" stroke-width="0.95"/>
<line x1="826.63" y1="684.64" x2="829.63" y2="684.64" stroke="#000" stroke-width="0.95"/>
<line x1="825.43" y1="685.54" x2="829.63" y2="685.54" stroke="#000" stroke-width="0.95"/>
<line x1="825.43" y1="686.44" x2="829.63" y2="686.44" stroke="#000" stroke-width="0.95"/>
<line x1="825.43" y1="687.34" x2="829.63" y2="687.34" stroke="#000" stroke-width="0.95"/>
<line x1="825.43" y1="689.14" x2="829.63" y2="689.14" stroke="#000" stroke-width="0.95"/>
<line x1="825.43" y1="690.04" x2="829.63" y2="690.04" stroke="#000" stroke-width="0.95"/>
<line x1="825.43" y1="690.94" x2="829.63" y2="690.94" stroke="#000" stroke-width="0.95"/>
<line x1="826.63" y1="691.84" x2="829.63" y2="691.84" stroke="#000" stroke-width="0.95"/>
<line x1="826.63" y1="692.84" x2="829.63" y2="692.84" stroke="#000" stroke-width="0.95"/>
<line x1="826.63" y1="693.84" x2="829.63" y2="693.84" stroke="#000" stroke-width="0.95"/>
<line x1="827.23" y1="674.57" x2="829.63" y2="674.57" stroke="#000" stroke-width="0.8"/>
<line x1="827.23" y1="666.76" x2="829.63" y2="666.76" stroke="#000" stroke-width="0.8"/>
<line x1="827.23" y1="660.91" x2="829.63" y2="660.91" stroke="#000" stroke-width="0.8"/>
<line x1="827.23" y1="656.22" x2="829.63" y2="656.22" stroke="#000" stroke-width="0.8"/>
<line x1="827.23" y1="652.32" x2="829.63" y2="652.32" stroke="#000" stroke-width="0.8"/>
<line x1="827.23" y1="701.9" x2="829.63" y2="701.9" stroke="#000" stroke-width="0.8"/>
<line x1="827.23" y1="709.71" x2="829.63" y2="709.71" stroke="#000" stroke-width="0.8"/>
<line x1="827.23" y1="715.57" x2="829.63" y2="715.57" stroke="#000" stroke-width="0.8"/>
<line x1="827.23" y1="720.26" x2="829.63" y2="720.26" stroke="#000" stroke-width="0.8"/>
<ellipse cx="942.66" cy="597.52" rx="18" ry="13.5" fill="#fff" stroke="#000" stroke-width="0.7"/>
<ellipse cx="942.66" cy="597.52" rx="17" ry="12.5" fill="#111" stroke="none" stroke-width="0.6"/>
<ellipse cx="897.89" cy="590.18" rx="30.5" ry="22.5" fill="#fff" stroke="#000" stroke-width="0.7"/>
<ellipse cx="897.89" cy="590.18" rx="29.4" ry="21.4" fill="#fff" stroke="#000" stroke-width="0.7"/>
<ellipse cx="897.89" cy="590.18" rx="28.3" ry="20.3" fill="#fff" stroke="#000" stroke-width="0.7"/>
<ellipse cx="897.89" cy="590.18" rx="27.2" ry="19.2" fill="#fff" stroke="#000" stroke-width="0.7"/>
<ellipse cx="897.89" cy="590.18" rx="26.1" ry="18.1" fill="#fff" stroke="#000" stroke-width="0.7"/>
<ellipse cx="897.89" cy="590.18" rx="25" ry="17" fill="#111" stroke="none" stroke-width="0.6"/>
<ellipse cx="922.11" cy="594.59" rx="10" ry="12" fill="#111" stroke="none" stroke-width="0.6"/>
<ellipse cx="897.89" cy="589.45" rx="4.2" ry="2.4" fill="#fff" stroke="none" stroke-width="0.6"/>
<ellipse cx="946.33" cy="598.99" rx="4.5" ry="3.2" fill="#fff" stroke="none" stroke-width="0.6"/>
<rect x="926.1" y="550.43" width="69.52" height="162.88" fill="none" stroke="#111" stroke-width="2.7"/>
<text transform="translate(956.31 685.89) scale(0.96 1)" font-size="12.6" text-anchor="middle" fill="#111" stroke="#111" stroke-width="0.3">33.68</text>
<rect x="276.5" y="572" width="2" height="41" fill="#fff" stroke="none" stroke-width="0"/>
<text transform="translate(73.8 718) rotate(-90)" font-size="18.2" text-anchor="start" textLength="100" lengthAdjust="spacingAndGlyphs" fill="#000" stroke="#000" stroke-width="0.4">CD56 BV605</text>
<line x1="69.8" y1="604.9" x2="69.8" y2="561.1" stroke="#444" stroke-width="1"/>
<polygon points="69.8,554.2 65.4,561.6 74.2,561.6" fill="#000"/>
<text transform="translate(101.7 760.6)" font-size="18.4" text-anchor="start" textLength="112.3" lengthAdjust="spacingAndGlyphs" fill="#000" stroke="#000" stroke-width="0.4">GranzB AF700</text>
<line x1="224.3" y1="756.5" x2="897.5" y2="756.5" stroke="#111" stroke-width="1.1"/>
<polygon points="903.5,756.5 897,753.9 897,759.1" fill="#000"/>
<text transform="translate(307.7 447.9)" font-size="26.6" text-anchor="start" textLength="565.8" lengthAdjust="spacingAndGlyphs" fill="#000" stroke="#000" stroke-width="0.5">CD56<tspan dy="-8.25" font-size="15.43">bright</tspan><tspan dy="8.25"> GranzymeB</tspan><tspan dy="-8.25" font-size="15.43">+</tspan><tspan dy="8.25"> cells in SARS-CoV-2 naive</tspan></text>
<text transform="translate(135.3 512.6)" font-size="23.6" text-anchor="start" textLength="86.6" lengthAdjust="spacingAndGlyphs" fill="#000" stroke="#000" stroke-width="0.4">Baseline</text>
<text transform="translate(384.3 512.6) scale(0.95 1)" font-size="23.6" text-anchor="start" fill="#000" stroke="#000" stroke-width="0.4">1<tspan dy="-7.32" font-size="13.69">st</tspan><tspan dy="7.32"> dose</tspan></text>
<text transform="translate(635.5 512.6) scale(0.95 1)" font-size="23.6" text-anchor="start" fill="#000" stroke="#000" stroke-width="0.4">2<tspan dy="-7.32" font-size="13.69">nd</tspan><tspan dy="7.32"> dose</tspan></text>
<text transform="translate(873 512.6) scale(0.95 1)" font-size="23.6" text-anchor="start" fill="#000" stroke="#000" stroke-width="0.4">3<tspan dy="-7.32" font-size="13.69">rd</tspan><tspan dy="7.32"> dose</tspan></text>
<text transform="translate(15.5 447)" font-size="35" text-anchor="start" fill="#000" stroke="#000" stroke-width="0.4">e</text>
<rect x="95.21" y="955.41" width="175.41" height="175.85" fill="none" stroke="#333" stroke-width="0.7"/>
<line x1="127.06" y1="1131.27" x2="127.06" y2="1135.47" stroke="#000" stroke-width="1.3"/>
<text transform="translate(127.06 1146.87)" font-size="6.6" text-anchor="middle" fill="#000" stroke="#000" stroke-width="0.2">0</text>
<line x1="168.9" y1="1131.27" x2="168.9" y2="1135.47" stroke="#000" stroke-width="1.3"/>
<text transform="translate(172.4 1146.87)" font-size="6.6" text-anchor="middle" fill="#000" stroke="#000" stroke-width="0.2">10<tspan dy="-2.24" dx="1.4" font-size="5.94">3</tspan></text>
<line x1="212.94" y1="1131.27" x2="212.94" y2="1135.47" stroke="#000" stroke-width="1.3"/>
<text transform="translate(216.44 1146.87)" font-size="6.6" text-anchor="middle" fill="#000" stroke="#000" stroke-width="0.2">10<tspan dy="-2.24" dx="1.4" font-size="5.94">4</tspan></text>
<line x1="253.3" y1="1131.27" x2="253.3" y2="1135.47" stroke="#000" stroke-width="1.3"/>
<text transform="translate(256.8 1146.87)" font-size="6.6" text-anchor="middle" fill="#000" stroke="#000" stroke-width="0.2">10<tspan dy="-2.24" dx="1.4" font-size="5.94">5</tspan></text>
<line x1="182.16" y1="1131.27" x2="182.16" y2="1133.67" stroke="#000" stroke-width="0.8"/>
<line x1="189.91" y1="1131.27" x2="189.91" y2="1133.67" stroke="#000" stroke-width="0.8"/>
<line x1="195.41" y1="1131.27" x2="195.41" y2="1133.67" stroke="#000" stroke-width="0.8"/>
<line x1="199.68" y1="1131.27" x2="199.68" y2="1133.67" stroke="#000" stroke-width="0.8"/>
<line x1="203.17" y1="1131.27" x2="203.17" y2="1133.67" stroke="#000" stroke-width="0.8"/>
<line x1="206.11" y1="1131.27" x2="206.11" y2="1133.67" stroke="#000" stroke-width="0.8"/>
<line x1="208.67" y1="1131.27" x2="208.67" y2="1133.67" stroke="#000" stroke-width="0.8"/>
<line x1="210.92" y1="1131.27" x2="210.92" y2="1133.67" stroke="#000" stroke-width="0.8"/>
<line x1="225.09" y1="1131.27" x2="225.09" y2="1133.67" stroke="#000" stroke-width="0.8"/>
<line x1="232.2" y1="1131.27" x2="232.2" y2="1133.67" stroke="#000" stroke-width="0.8"/>
<line x1="237.24" y1="1131.27" x2="237.24" y2="1133.67" stroke="#000" stroke-width="0.8"/>
<line x1="241.15" y1="1131.27" x2="241.15" y2="1133.67" stroke="#000" stroke-width="0.8"/>
<line x1="244.35" y1="1131.27" x2="244.35" y2="1133.67" stroke="#000" stroke-width="0.8"/>
<line x1="247.05" y1="1131.27" x2="247.05" y2="1133.67" stroke="#000" stroke-width="0.8"/>
<line x1="249.39" y1="1131.27" x2="249.39" y2="1133.67" stroke="#000" stroke-width="0.8"/>
<line x1="251.46" y1="1131.27" x2="251.46" y2="1133.67" stroke="#000" stroke-width="0.8"/>
<line x1="265.45" y1="1131.27" x2="265.45" y2="1133.67" stroke="#000" stroke-width="0.8"/>
<line x1="121.46" y1="1131.27" x2="121.46" y2="1134.27" stroke="#000" stroke-width="0.95"/>
<line x1="122.46" y1="1131.27" x2="122.46" y2="1134.27" stroke="#000" stroke-width="0.95"/>
<line x1="123.46" y1="1131.27" x2="123.46" y2="1134.27" stroke="#000" stroke-width="0.95"/>
<line x1="124.36" y1="1131.27" x2="124.36" y2="1135.47" stroke="#000" stroke-width="0.95"/>
<line x1="125.26" y1="1131.27" x2="125.26" y2="1135.47" stroke="#000" stroke-width="0.95"/>
<line x1="126.16" y1="1131.27" x2="126.16" y2="1135.47" stroke="#000" stroke-width="0.95"/>
<line x1="127.96" y1="1131.27" x2="127.96" y2="1135.47" stroke="#000" stroke-width="0.95"/>
<line x1="128.86" y1="1131.27" x2="128.86" y2="1135.47" stroke="#000" stroke-width="0.95"/>
<line x1="129.76" y1="1131.27" x2="129.76" y2="1135.47" stroke="#000" stroke-width="0.95"/>
<line x1="130.66" y1="1131.27" x2="130.66" y2="1134.27" stroke="#000" stroke-width="0.95"/>
<line x1="131.66" y1="1131.27" x2="131.66" y2="1134.27" stroke="#000" stroke-width="0.95"/>
<line x1="132.66" y1="1131.27" x2="132.66" y2="1134.27" stroke="#000" stroke-width="0.95"/>
<line x1="141.71" y1="1131.27" x2="141.71" y2="1133.67" stroke="#000" stroke-width="0.8"/>
<line x1="150.07" y1="1131.27" x2="150.07" y2="1133.67" stroke="#000" stroke-width="0.8"/>
<line x1="156.35" y1="1131.27" x2="156.35" y2="1133.67" stroke="#000" stroke-width="0.8"/>
<line x1="161.37" y1="1131.27" x2="161.37" y2="1133.67" stroke="#000" stroke-width="0.8"/>
<line x1="165.55" y1="1131.27" x2="165.55" y2="1133.67" stroke="#000" stroke-width="0.8"/>
<line x1="112.42" y1="1131.27" x2="112.42" y2="1133.67" stroke="#000" stroke-width="0.8"/>
<line x1="104.06" y1="1131.27" x2="104.06" y2="1133.67" stroke="#000" stroke-width="0.8"/>
<line x1="97.78" y1="1131.27" x2="97.78" y2="1133.67" stroke="#000" stroke-width="0.8"/>
<line x1="91.01" y1="972.59" x2="95.21" y2="972.59" stroke="#000" stroke-width="1.3"/>
<text transform="translate(87.71 975.49)" font-size="6.6" text-anchor="end" fill="#000" stroke="#000" stroke-width="0.2">10<tspan dy="-2.24" dx="1.4" font-size="5.94">5</tspan></text>
<line x1="91.01" y1="1012.95" x2="95.21" y2="1012.95" stroke="#000" stroke-width="1.3"/>
<text transform="translate(87.71 1015.85)" font-size="6.6" text-anchor="end" fill="#000" stroke="#000" stroke-width="0.2">10<tspan dy="-2.24" dx="1.4" font-size="5.94">4</tspan></text>
<line x1="91.01" y1="1058.9" x2="95.21" y2="1058.9" stroke="#000" stroke-width="1.3"/>
<text transform="translate(87.71 1061.8)" font-size="6.6" text-anchor="end" fill="#000" stroke="#000" stroke-width="0.2">10<tspan dy="-2.24" dx="1.4" font-size="5.94">3</tspan></text>
<line x1="91.01" y1="1097.36" x2="95.21" y2="1097.36" stroke="#000" stroke-width="1.3"/>
<text transform="translate(87.71 1100.26)" font-size="6.6" text-anchor="end" fill="#000" stroke="#000" stroke-width="0.2">0</text>
<line x1="92.81" y1="1000.8" x2="95.21" y2="1000.8" stroke="#000" stroke-width="0.8"/>
<line x1="92.81" y1="993.69" x2="95.21" y2="993.69" stroke="#000" stroke-width="0.8"/>
<line x1="92.81" y1="988.65" x2="95.21" y2="988.65" stroke="#000" stroke-width="0.8"/>
<line x1="92.81" y1="984.74" x2="95.21" y2="984.74" stroke="#000" stroke-width="0.8"/>
<line x1="92.81" y1="981.54" x2="95.21" y2="981.54" stroke="#000" stroke-width="0.8"/>
<line x1="92.81" y1="978.84" x2="95.21" y2="978.84" stroke="#000" stroke-width="0.8"/>
<line x1="92.81" y1="976.5" x2="95.21" y2="976.5" stroke="#000" stroke-width="0.8"/>
<line x1="92.81" y1="974.43" x2="95.21" y2="974.43" stroke="#000" stroke-width="0.8"/>
<line x1="92.81" y1="1045.07" x2="95.21" y2="1045.07" stroke="#000" stroke-width="0.8"/>
<line x1="92.81" y1="1036.98" x2="95.21" y2="1036.98" stroke="#000" stroke-width="0.8"/>
<line x1="92.81" y1="1031.24" x2="95.21" y2="1031.24" stroke="#000" stroke-width="0.8"/>
<line x1="92.81" y1="1026.78" x2="95.21" y2="1026.78" stroke="#000" stroke-width="0.8"/>
<line x1="92.81" y1="1023.15" x2="95.21" y2="1023.15" stroke="#000" stroke-width="0.8"/>
<line x1="92.81" y1="1020.07" x2="95.21" y2="1020.07" stroke="#000" stroke-width="0.8"/>
<line x1="92.81" y1="1017.41" x2="95.21" y2="1017.41" stroke="#000" stroke-width="0.8"/>
<line x1="92.81" y1="1015.06" x2="95.21" y2="1015.06" stroke="#000" stroke-width="0.8"/>
<line x1="92.81" y1="960.44" x2="95.21" y2="960.44" stroke="#000" stroke-width="0.8"/>
<line x1="92.21" y1="1091.76" x2="95.21" y2="1091.76" stroke="#000" stroke-width="0.95"/>
<line x1="92.21" y1="1092.76" x2="95.21" y2="1092.76" stroke="#000" stroke-width="0.95"/>
<line x1="92.21" y1="1093.76" x2="95.21" y2="1093.76" stroke="#000" stroke-width="0.95"/>
<line x1="91.01" y1="1094.66" x2="95.21" y2="1094.66" stroke="#000" stroke-width="0.95"/>
<line x1="91.01" y1="1095.56" x2="95.21" y2="1095.56" stroke="#000" stroke-width="0.95"/>
<line x1="91.01" y1="1096.46" x2="95.21" y2="1096.46" stroke="#000" stroke-width="0.95"/>
<line x1="91.01" y1="1098.26" x2="95.21" y2="1098.26" stroke="#000" stroke-width="0.95"/>
<line x1="91.01" y1="1099.16" x2="95.21" y2="1099.16" stroke="#000" stroke-width="0.95"/>
<line x1="91.01" y1="1100.06" x2="95.21" y2="1100.06" stroke="#000" stroke-width="0.95"/>
<line x1="92.21" y1="1100.96" x2="95.21" y2="1100.96" stroke="#000" stroke-width="0.95"/>
<line x1="92.21" y1="1101.96" x2="95.21" y2="1101.96" stroke="#000" stroke-width="0.95"/>
<line x1="92.21" y1="1102.96" x2="95.21" y2="1102.96" stroke="#000" stroke-width="0.95"/>
<line x1="92.81" y1="1083.9" x2="95.21" y2="1083.9" stroke="#000" stroke-width="0.8"/>
<line x1="92.81" y1="1076.21" x2="95.21" y2="1076.21" stroke="#000" stroke-width="0.8"/>
<line x1="92.81" y1="1070.44" x2="95.21" y2="1070.44" stroke="#000" stroke-width="0.8"/>
<line x1="92.81" y1="1065.82" x2="95.21" y2="1065.82" stroke="#000" stroke-width="0.8"/>
<line x1="92.81" y1="1061.98" x2="95.21" y2="1061.98" stroke="#000" stroke-width="0.8"/>
<line x1="92.81" y1="1110.82" x2="95.21" y2="1110.82" stroke="#000" stroke-width="0.8"/>
<line x1="92.81" y1="1118.51" x2="95.21" y2="1118.51" stroke="#000" stroke-width="0.8"/>
<line x1="92.81" y1="1124.28" x2="95.21" y2="1124.28" stroke="#000" stroke-width="0.8"/>
<line x1="92.81" y1="1128.89" x2="95.21" y2="1128.89" stroke="#000" stroke-width="0.8"/>
<ellipse cx="159.36" cy="1031.74" rx="18.3" ry="18.8" fill="#fff" stroke="#000" stroke-width="0.7"/>
<ellipse cx="159.36" cy="1031.74" rx="17.2" ry="17.7" fill="#fff" stroke="#000" stroke-width="0.7"/>
<ellipse cx="159.36" cy="1031.74" rx="16.1" ry="16.6" fill="#fff" stroke="#000" stroke-width="0.7"/>
<ellipse cx="159.36" cy="1031.74" rx="15" ry="15.5" fill="#111" stroke="none" stroke-width="0.6"/>
<ellipse cx="193.56" cy="1029.54" rx="19.3" ry="20.8" fill="#fff" stroke="#000" stroke-width="0.7"/>
<ellipse cx="193.56" cy="1029.54" rx="18.2" ry="19.7" fill="#fff" stroke="#000" stroke-width="0.7"/>
<ellipse cx="193.56" cy="1029.54" rx="17.1" ry="18.6" fill="#fff" stroke="#000" stroke-width="0.7"/>
<ellipse cx="193.56" cy="1029.54" rx="16" ry="17.5" fill="#111" stroke="none" stroke-width="0.6"/>
<ellipse cx="159.36" cy="1041.28" rx="14" ry="11" fill="none" stroke="#111" stroke-width="0.55"/>
<ellipse cx="191.65" cy="1044.95" rx="13" ry="9.5" fill="none" stroke="#111" stroke-width="0.55"/>
<ellipse cx="176.24" cy="1030.28" rx="6" ry="13" fill="#111" stroke="none" stroke-width="0.6"/>
<ellipse cx="160.83" cy="1029.25" rx="1.6" ry="1.6" fill="#fff" stroke="none" stroke-width="0.6"/>
<ellipse cx="193.12" cy="1028.07" rx="2.2" ry="1.8" fill="#fff" stroke="none" stroke-width="0.6"/>
<rect x="98.17" y="957.61" width="79.8" height="172.85" fill="none" stroke="#111" stroke-width="2.4"/>
<rect x="181.95" y="958.01" width="84.43" height="172.05" fill="none" stroke="#111" stroke-width="3.2"/>
<text transform="translate(131.47 1087.52) scale(0.96 1)" font-size="12.6" text-anchor="middle" fill="#111" stroke="#111" stroke-width="0.3">40.02</text>
<text transform="translate(226.15 1087.52) scale(0.96 1)" font-size="12.6" text-anchor="middle" fill="#111" stroke="#111" stroke-width="0.3">57.82</text>
<rect x="347.71" y="955.41" width="175.85" height="175.85" fill="none" stroke="#333" stroke-width="0.7"/>
<line x1="379.71" y1="1131.27" x2="379.71" y2="1135.47" stroke="#000" stroke-width="1.3"/>
<text transform="translate(379.71 1146.87)" font-size="6.6" text-anchor="middle" fill="#000" stroke="#000" stroke-width="0.2">0</text>
<line x1="421.83" y1="1131.27" x2="421.83" y2="1135.47" stroke="#000" stroke-width="1.3"/>
<text transform="translate(425.33 1146.87)" font-size="6.6" text-anchor="middle" fill="#000" stroke="#000" stroke-width="0.2">10<tspan dy="-2.24" dx="1.4" font-size="5.94">3</tspan></text>
<line x1="465.87" y1="1131.27" x2="465.87" y2="1135.47" stroke="#000" stroke-width="1.3"/>
<text transform="translate(469.37 1146.87)" font-size="6.6" text-anchor="middle" fill="#000" stroke="#000" stroke-width="0.2">10<tspan dy="-2.24" dx="1.4" font-size="5.94">4</tspan></text>
<line x1="506.24" y1="1131.27" x2="506.24" y2="1135.47" stroke="#000" stroke-width="1.3"/>
<text transform="translate(509.74 1146.87)" font-size="6.6" text-anchor="middle" fill="#000" stroke="#000" stroke-width="0.2">10<tspan dy="-2.24" dx="1.4" font-size="5.94">5</tspan></text>
<line x1="435.09" y1="1131.27" x2="435.09" y2="1133.67" stroke="#000" stroke-width="0.8"/>
<line x1="442.85" y1="1131.27" x2="442.85" y2="1133.67" stroke="#000" stroke-width="0.8"/>
<line x1="448.35" y1="1131.27" x2="448.35" y2="1133.67" stroke="#000" stroke-width="0.8"/>
<line x1="452.62" y1="1131.27" x2="452.62" y2="1133.67" stroke="#000" stroke-width="0.8"/>
<line x1="456.1" y1="1131.27" x2="456.1" y2="1133.67" stroke="#000" stroke-width="0.8"/>
<line x1="459.05" y1="1131.27" x2="459.05" y2="1133.67" stroke="#000" stroke-width="0.8"/>
<line x1="461.6" y1="1131.27" x2="461.6" y2="1133.67" stroke="#000" stroke-width="0.8"/>
<line x1="463.86" y1="1131.27" x2="463.86" y2="1133.67" stroke="#000" stroke-width="0.8"/>
<line x1="478.02" y1="1131.27" x2="478.02" y2="1133.67" stroke="#000" stroke-width="0.8"/>
<line x1="485.13" y1="1131.27" x2="485.13" y2="1133.67" stroke="#000" stroke-width="0.8"/>
<line x1="490.17" y1="1131.27" x2="490.17" y2="1133.67" stroke="#000" stroke-width="0.8"/>
<line x1="494.09" y1="1131.27" x2="494.09" y2="1133.67" stroke="#000" stroke-width="0.8"/>
<line x1="497.28" y1="1131.27" x2="497.28" y2="1133.67" stroke="#000" stroke-width="0.8"/>
<line x1="499.99" y1="1131.27" x2="499.99" y2="1133.67" stroke="#000" stroke-width="0.8"/>
<line x1="502.33" y1="1131.27" x2="502.33" y2="1133.67" stroke="#000" stroke-width="0.8"/>
<line x1="504.39" y1="1131.27" x2="504.39" y2="1133.67" stroke="#000" stroke-width="0.8"/>
<line x1="518.39" y1="1131.27" x2="518.39" y2="1133.67" stroke="#000" stroke-width="0.8"/>
<line x1="374.11" y1="1131.27" x2="374.11" y2="1134.27" stroke="#000" stroke-width="0.95"/>
<line x1="375.11" y1="1131.27" x2="375.11" y2="1134.27" stroke="#000" stroke-width="0.95"/>
<line x1="376.11" y1="1131.27" x2="376.11" y2="1134.27" stroke="#000" stroke-width="0.95"/>
<line x1="377.01" y1="1131.27" x2="377.01" y2="1135.47" stroke="#000" stroke-width="0.95"/>
<line x1="377.91" y1="1131.27" x2="377.91" y2="1135.47" stroke="#000" stroke-width="0.95"/>
<line x1="378.81" y1="1131.27" x2="378.81" y2="1135.47" stroke="#000" stroke-width="0.95"/>
<line x1="380.61" y1="1131.27" x2="380.61" y2="1135.47" stroke="#000" stroke-width="0.95"/>
<line x1="381.51" y1="1131.27" x2="381.51" y2="1135.47" stroke="#000" stroke-width="0.95"/>
<line x1="382.41" y1="1131.27" x2="382.41" y2="1135.47" stroke="#000" stroke-width="0.95"/>
<line x1="383.31" y1="1131.27" x2="383.31" y2="1134.27" stroke="#000" stroke-width="0.95"/>
<line x1="384.31" y1="1131.27" x2="384.31" y2="1134.27" stroke="#000" stroke-width="0.95"/>
<line x1="385.31" y1="1131.27" x2="385.31" y2="1134.27" stroke="#000" stroke-width="0.95"/>
<line x1="394.45" y1="1131.27" x2="394.45" y2="1133.67" stroke="#000" stroke-width="0.8"/>
<line x1="402.88" y1="1131.27" x2="402.88" y2="1133.67" stroke="#000" stroke-width="0.8"/>
<line x1="409.2" y1="1131.27" x2="409.2" y2="1133.67" stroke="#000" stroke-width="0.8"/>
<line x1="414.25" y1="1131.27" x2="414.25" y2="1133.67" stroke="#000" stroke-width="0.8"/>
<line x1="418.46" y1="1131.27" x2="418.46" y2="1133.67" stroke="#000" stroke-width="0.8"/>
<line x1="364.96" y1="1131.27" x2="364.96" y2="1133.67" stroke="#000" stroke-width="0.8"/>
<line x1="356.54" y1="1131.27" x2="356.54" y2="1133.67" stroke="#000" stroke-width="0.8"/>
<line x1="350.22" y1="1131.27" x2="350.22" y2="1133.67" stroke="#000" stroke-width="0.8"/>
<line x1="343.51" y1="972.59" x2="347.71" y2="972.59" stroke="#000" stroke-width="1.3"/>
<text transform="translate(340.21 975.49)" font-size="6.6" text-anchor="end" fill="#000" stroke="#000" stroke-width="0.2">10<tspan dy="-2.24" dx="1.4" font-size="5.94">5</tspan></text>
<line x1="343.51" y1="1012.95" x2="347.71" y2="1012.95" stroke="#000" stroke-width="1.3"/>
<text transform="translate(340.21 1015.85)" font-size="6.6" text-anchor="end" fill="#000" stroke="#000" stroke-width="0.2">10<tspan dy="-2.24" dx="1.4" font-size="5.94">4</tspan></text>
<line x1="343.51" y1="1058.9" x2="347.71" y2="1058.9" stroke="#000" stroke-width="1.3"/>
<text transform="translate(340.21 1061.8)" font-size="6.6" text-anchor="end" fill="#000" stroke="#000" stroke-width="0.2">10<tspan dy="-2.24" dx="1.4" font-size="5.94">3</tspan></text>
<line x1="343.51" y1="1097.36" x2="347.71" y2="1097.36" stroke="#000" stroke-width="1.3"/>
<text transform="translate(340.21 1100.26)" font-size="6.6" text-anchor="end" fill="#000" stroke="#000" stroke-width="0.2">0</text>
<line x1="345.31" y1="1000.8" x2="347.71" y2="1000.8" stroke="#000" stroke-width="0.8"/>
<line x1="345.31" y1="993.69" x2="347.71" y2="993.69" stroke="#000" stroke-width="0.8"/>
<line x1="345.31" y1="988.65" x2="347.71" y2="988.65" stroke="#000" stroke-width="0.8"/>
<line x1="345.31" y1="984.74" x2="347.71" y2="984.74" stroke="#000" stroke-width="0.8"/>
<line x1="345.31" y1="981.54" x2="347.71" y2="981.54" stroke="#000" stroke-width="0.8"/>
<line x1="345.31" y1="978.84" x2="347.71" y2="978.84" stroke="#000" stroke-width="0.8"/>
<line x1="345.31" y1="976.5" x2="347.71" y2="976.5" stroke="#000" stroke-width="0.8"/>
<line x1="345.31" y1="974.43" x2="347.71" y2="974.43" stroke="#000" stroke-width="0.8"/>
<line x1="345.31" y1="1045.07" x2="347.71" y2="1045.07" stroke="#000" stroke-width="0.8"/>
<line x1="345.31" y1="1036.98" x2="347.71" y2="1036.98" stroke="#000" stroke-width="0.8"/>
<line x1="345.31" y1="1031.24" x2="347.71" y2="1031.24" stroke="#000" stroke-width="0.8"/>
<line x1="345.31" y1="1026.78" x2="347.71" y2="1026.78" stroke="#000" stroke-width="0.8"/>
<line x1="345.31" y1="1023.15" x2="347.71" y2="1023.15" stroke="#000" stroke-width="0.8"/>
<line x1="345.31" y1="1020.07" x2="347.71" y2="1020.07" stroke="#000" stroke-width="0.8"/>
<line x1="345.31" y1="1017.41" x2="347.71" y2="1017.41" stroke="#000" stroke-width="0.8"/>
<line x1="345.31" y1="1015.06" x2="347.71" y2="1015.06" stroke="#000" stroke-width="0.8"/>
<line x1="345.31" y1="960.44" x2="347.71" y2="960.44" stroke="#000" stroke-width="0.8"/>
<line x1="344.71" y1="1091.76" x2="347.71" y2="1091.76" stroke="#000" stroke-width="0.95"/>
<line x1="344.71" y1="1092.76" x2="347.71" y2="1092.76" stroke="#000" stroke-width="0.95"/>
<line x1="344.71" y1="1093.76" x2="347.71" y2="1093.76" stroke="#000" stroke-width="0.95"/>
<line x1="343.51" y1="1094.66" x2="347.71" y2="1094.66" stroke="#000" stroke-width="0.95"/>
<line x1="343.51" y1="1095.56" x2="347.71" y2="1095.56" stroke="#000" stroke-width="0.95"/>
<line x1="343.51" y1="1096.46" x2="347.71" y2="1096.46" stroke="#000" stroke-width="0.95"/>
<line x1="343.51" y1="1098.26" x2="347.71" y2="1098.26" stroke="#000" stroke-width="0.95"/>
<line x1="343.51" y1="1099.16" x2="347.71" y2="1099.16" stroke="#000" stroke-width="0.95"/>
<line x1="343.51" y1="1100.06" x2="347.71" y2="1100.06" stroke="#000" stroke-width="0.95"/>
<line x1="344.71" y1="1100.96" x2="347.71" y2="1100.96" stroke="#000" stroke-width="0.95"/>
<line x1="344.71" y1="1101.96" x2="347.71" y2="1101.96" stroke="#000" stroke-width="0.95"/>
<line x1="344.71" y1="1102.96" x2="347.71" y2="1102.96" stroke="#000" stroke-width="0.95"/>
<line x1="345.31" y1="1083.9" x2="347.71" y2="1083.9" stroke="#000" stroke-width="0.8"/>
<line x1="345.31" y1="1076.21" x2="347.71" y2="1076.21" stroke="#000" stroke-width="0.8"/>
<line x1="345.31" y1="1070.44" x2="347.71" y2="1070.44" stroke="#000" stroke-width="0.8"/>
<line x1="345.31" y1="1065.82" x2="347.71" y2="1065.82" stroke="#000" stroke-width="0.8"/>
<line x1="345.31" y1="1061.98" x2="347.71" y2="1061.98" stroke="#000" stroke-width="0.8"/>
<line x1="345.31" y1="1110.82" x2="347.71" y2="1110.82" stroke="#000" stroke-width="0.8"/>
<line x1="345.31" y1="1118.51" x2="347.71" y2="1118.51" stroke="#000" stroke-width="0.8"/>
<line x1="345.31" y1="1124.28" x2="347.71" y2="1124.28" stroke="#000" stroke-width="0.8"/>
<line x1="345.31" y1="1128.89" x2="347.71" y2="1128.89" stroke="#000" stroke-width="0.8"/>
<ellipse cx="443.12" cy="1036.15" rx="17.5" ry="16.5" fill="none" stroke="#111" stroke-width="1"/>
<ellipse cx="443.12" cy="1036.15" rx="14.58" ry="13.75" fill="none" stroke="#111" stroke-width="1"/>
<ellipse cx="443.12" cy="1036.15" rx="11.67" ry="11" fill="none" stroke="#111" stroke-width="1"/>
<ellipse cx="443.12" cy="1036.15" rx="8.75" ry="8.25" fill="none" stroke="#111" stroke-width="1"/>
<ellipse cx="443.12" cy="1036.15" rx="5.83" ry="5.5" fill="none" stroke="#111" stroke-width="1"/>
<ellipse cx="443.12" cy="1036.15" rx="2.92" ry="2.75" fill="none" stroke="#111" stroke-width="1"/>
<ellipse cx="422.13" cy="1036.15" rx="17" ry="21.5" fill="#fff" stroke="#000" stroke-width="0.7"/>
<ellipse cx="422.13" cy="1036.15" rx="16" ry="20.5" fill="#fff" stroke="#000" stroke-width="0.7"/>
<ellipse cx="422.13" cy="1036.15" rx="15" ry="19.5" fill="#111" stroke="none" stroke-width="0.6"/>
<ellipse cx="421.83" cy="1042.75" rx="11" ry="17" fill="none" stroke="#111" stroke-width="0.55"/>
<rect x="420.37" y="1031.01" width="3" height="8" fill="#fff" stroke="none" stroke-width="0"/>
<rect x="418.17" y="1042.75" width="3" height="6" fill="#fff" stroke="none" stroke-width="0"/>
<rect x="352.28" y="957.61" width="77.6" height="172.85" fill="none" stroke="#111" stroke-width="2.4"/>
<rect x="434.04" y="957.61" width="83.91" height="172.85" fill="none" stroke="#111" stroke-width="2.4"/>
<text transform="translate(376.04 1087.52) scale(0.96 1)" font-size="12.6" text-anchor="middle" fill="#111" stroke="#111" stroke-width="0.3">68.23</text>
<text transform="translate(488.33 1087.52) scale(0.96 1)" font-size="12.6" text-anchor="middle" fill="#111" stroke="#111" stroke-width="0.3">27.80</text>
<rect x="588.9" y="957.32" width="175.71" height="175.71" fill="none" stroke="#333" stroke-width="0.7"/>
<line x1="620.75" y1="1133.03" x2="620.75" y2="1137.23" stroke="#000" stroke-width="1.3"/>
<text transform="translate(620.75 1148.63)" font-size="6.6" text-anchor="middle" fill="#000" stroke="#000" stroke-width="0.2">0</text>
<line x1="662.73" y1="1133.03" x2="662.73" y2="1137.23" stroke="#000" stroke-width="1.3"/>
<text transform="translate(666.23 1148.63)" font-size="6.6" text-anchor="middle" fill="#000" stroke="#000" stroke-width="0.2">10<tspan dy="-2.24" dx="1.4" font-size="5.94">3</tspan></text>
<line x1="707.06" y1="1133.03" x2="707.06" y2="1137.23" stroke="#000" stroke-width="1.3"/>
<text transform="translate(710.56 1148.63)" font-size="6.6" text-anchor="middle" fill="#000" stroke="#000" stroke-width="0.2">10<tspan dy="-2.24" dx="1.4" font-size="5.94">4</tspan></text>
<line x1="747.14" y1="1133.03" x2="747.14" y2="1137.23" stroke="#000" stroke-width="1.3"/>
<text transform="translate(750.64 1148.63)" font-size="6.6" text-anchor="middle" fill="#000" stroke="#000" stroke-width="0.2">10<tspan dy="-2.24" dx="1.4" font-size="5.94">5</tspan></text>
<line x1="676.08" y1="1133.03" x2="676.08" y2="1135.43" stroke="#000" stroke-width="0.8"/>
<line x1="683.88" y1="1133.03" x2="683.88" y2="1135.43" stroke="#000" stroke-width="0.8"/>
<line x1="689.42" y1="1133.03" x2="689.42" y2="1135.43" stroke="#000" stroke-width="0.8"/>
<line x1="693.72" y1="1133.03" x2="693.72" y2="1135.43" stroke="#000" stroke-width="0.8"/>
<line x1="697.23" y1="1133.03" x2="697.23" y2="1135.43" stroke="#000" stroke-width="0.8"/>
<line x1="700.2" y1="1133.03" x2="700.2" y2="1135.43" stroke="#000" stroke-width="0.8"/>
<line x1="702.77" y1="1133.03" x2="702.77" y2="1135.43" stroke="#000" stroke-width="0.8"/>
<line x1="705.04" y1="1133.03" x2="705.04" y2="1135.43" stroke="#000" stroke-width="0.8"/>
<line x1="719.13" y1="1133.03" x2="719.13" y2="1135.43" stroke="#000" stroke-width="0.8"/>
<line x1="726.18" y1="1133.03" x2="726.18" y2="1135.43" stroke="#000" stroke-width="0.8"/>
<line x1="731.19" y1="1133.03" x2="731.19" y2="1135.43" stroke="#000" stroke-width="0.8"/>
<line x1="735.07" y1="1133.03" x2="735.07" y2="1135.43" stroke="#000" stroke-width="0.8"/>
<line x1="738.25" y1="1133.03" x2="738.25" y2="1135.43" stroke="#000" stroke-width="0.8"/>
<line x1="740.93" y1="1133.03" x2="740.93" y2="1135.43" stroke="#000" stroke-width="0.8"/>
<line x1="743.25" y1="1133.03" x2="743.25" y2="1135.43" stroke="#000" stroke-width="0.8"/>
<line x1="745.3" y1="1133.03" x2="745.3" y2="1135.43" stroke="#000" stroke-width="0.8"/>
<line x1="759.2" y1="1133.03" x2="759.2" y2="1135.43" stroke="#000" stroke-width="0.8"/>
<line x1="615.15" y1="1133.03" x2="615.15" y2="1136.03" stroke="#000" stroke-width="0.95"/>
<line x1="616.15" y1="1133.03" x2="616.15" y2="1136.03" stroke="#000" stroke-width="0.95"/>
<line x1="617.15" y1="1133.03" x2="617.15" y2="1136.03" stroke="#000" stroke-width="0.95"/>
<line x1="618.05" y1="1133.03" x2="618.05" y2="1137.23" stroke="#000" stroke-width="0.95"/>
<line x1="618.95" y1="1133.03" x2="618.95" y2="1137.23" stroke="#000" stroke-width="0.95"/>
<line x1="619.85" y1="1133.03" x2="619.85" y2="1137.23" stroke="#000" stroke-width="0.95"/>
<line x1="621.65" y1="1133.03" x2="621.65" y2="1137.23" stroke="#000" stroke-width="0.95"/>
<line x1="622.55" y1="1133.03" x2="622.55" y2="1137.23" stroke="#000" stroke-width="0.95"/>
<line x1="623.45" y1="1133.03" x2="623.45" y2="1137.23" stroke="#000" stroke-width="0.95"/>
<line x1="624.35" y1="1133.03" x2="624.35" y2="1136.03" stroke="#000" stroke-width="0.95"/>
<line x1="625.35" y1="1133.03" x2="625.35" y2="1136.03" stroke="#000" stroke-width="0.95"/>
<line x1="626.35" y1="1133.03" x2="626.35" y2="1136.03" stroke="#000" stroke-width="0.95"/>
<line x1="635.45" y1="1133.03" x2="635.45" y2="1135.43" stroke="#000" stroke-width="0.8"/>
<line x1="643.84" y1="1133.03" x2="643.84" y2="1135.43" stroke="#000" stroke-width="0.8"/>
<line x1="650.14" y1="1133.03" x2="650.14" y2="1135.43" stroke="#000" stroke-width="0.8"/>
<line x1="655.18" y1="1133.03" x2="655.18" y2="1135.43" stroke="#000" stroke-width="0.8"/>
<line x1="659.38" y1="1133.03" x2="659.38" y2="1135.43" stroke="#000" stroke-width="0.8"/>
<line x1="606.06" y1="1133.03" x2="606.06" y2="1135.43" stroke="#000" stroke-width="0.8"/>
<line x1="597.66" y1="1133.03" x2="597.66" y2="1135.43" stroke="#000" stroke-width="0.8"/>
<line x1="591.37" y1="1133.03" x2="591.37" y2="1135.43" stroke="#000" stroke-width="0.8"/>
<line x1="584.7" y1="974.2" x2="588.9" y2="974.2" stroke="#000" stroke-width="1.3"/>
<text transform="translate(581.4 977.1)" font-size="6.6" text-anchor="end" fill="#000" stroke="#000" stroke-width="0.2">10<tspan dy="-2.24" dx="1.4" font-size="5.94">5</tspan></text>
<line x1="584.7" y1="1014.86" x2="588.9" y2="1014.86" stroke="#000" stroke-width="1.3"/>
<text transform="translate(581.4 1017.76)" font-size="6.6" text-anchor="end" fill="#000" stroke="#000" stroke-width="0.2">10<tspan dy="-2.24" dx="1.4" font-size="5.94">4</tspan></text>
<line x1="584.7" y1="1060.66" x2="588.9" y2="1060.66" stroke="#000" stroke-width="1.3"/>
<text transform="translate(581.4 1063.56)" font-size="6.6" text-anchor="end" fill="#000" stroke="#000" stroke-width="0.2">10<tspan dy="-2.24" dx="1.4" font-size="5.94">3</tspan></text>
<line x1="584.7" y1="1098.53" x2="588.9" y2="1098.53" stroke="#000" stroke-width="1.3"/>
<text transform="translate(581.4 1101.43)" font-size="6.6" text-anchor="end" fill="#000" stroke="#000" stroke-width="0.2">0</text>
<line x1="586.5" y1="1002.62" x2="588.9" y2="1002.62" stroke="#000" stroke-width="0.8"/>
<line x1="586.5" y1="995.46" x2="588.9" y2="995.46" stroke="#000" stroke-width="0.8"/>
<line x1="586.5" y1="990.38" x2="588.9" y2="990.38" stroke="#000" stroke-width="0.8"/>
<line x1="586.5" y1="986.44" x2="588.9" y2="986.44" stroke="#000" stroke-width="0.8"/>
<line x1="586.5" y1="983.22" x2="588.9" y2="983.22" stroke="#000" stroke-width="0.8"/>
<line x1="586.5" y1="980.5" x2="588.9" y2="980.5" stroke="#000" stroke-width="0.8"/>
<line x1="586.5" y1="978.14" x2="588.9" y2="978.14" stroke="#000" stroke-width="0.8"/>
<line x1="586.5" y1="976.06" x2="588.9" y2="976.06" stroke="#000" stroke-width="0.8"/>
<line x1="586.5" y1="1046.87" x2="588.9" y2="1046.87" stroke="#000" stroke-width="0.8"/>
<line x1="586.5" y1="1038.81" x2="588.9" y2="1038.81" stroke="#000" stroke-width="0.8"/>
<line x1="586.5" y1="1033.09" x2="588.9" y2="1033.09" stroke="#000" stroke-width="0.8"/>
<line x1="586.5" y1="1028.65" x2="588.9" y2="1028.65" stroke="#000" stroke-width="0.8"/>
<line x1="586.5" y1="1025.02" x2="588.9" y2="1025.02" stroke="#000" stroke-width="0.8"/>
<line x1="586.5" y1="1021.96" x2="588.9" y2="1021.96" stroke="#000" stroke-width="0.8"/>
<line x1="586.5" y1="1019.3" x2="588.9" y2="1019.3" stroke="#000" stroke-width="0.8"/>
<line x1="586.5" y1="1016.96" x2="588.9" y2="1016.96" stroke="#000" stroke-width="0.8"/>
<line x1="586.5" y1="961.96" x2="588.9" y2="961.96" stroke="#000" stroke-width="0.8"/>
<line x1="585.9" y1="1092.93" x2="588.9" y2="1092.93" stroke="#000" stroke-width="0.95"/>
<line x1="585.9" y1="1093.93" x2="588.9" y2="1093.93" stroke="#000" stroke-width="0.95"/>
<line x1="585.9" y1="1094.93" x2="588.9" y2="1094.93" stroke="#000" stroke-width="0.95"/>
<line x1="584.7" y1="1095.83" x2="588.9" y2="1095.83" stroke="#000" stroke-width="0.95"/>
<line x1="584.7" y1="1096.73" x2="588.9" y2="1096.73" stroke="#000" stroke-width="0.95"/>
<line x1="584.7" y1="1097.63" x2="588.9" y2="1097.63" stroke="#000" stroke-width="0.95"/>
<line x1="584.7" y1="1099.43" x2="588.9" y2="1099.43" stroke="#000" stroke-width="0.95"/>
<line x1="584.7" y1="1100.33" x2="588.9" y2="1100.33" stroke="#000" stroke-width="0.95"/>
<line x1="584.7" y1="1101.23" x2="588.9" y2="1101.23" stroke="#000" stroke-width="0.95"/>
<line x1="585.9" y1="1102.13" x2="588.9" y2="1102.13" stroke="#000" stroke-width="0.95"/>
<line x1="585.9" y1="1103.13" x2="588.9" y2="1103.13" stroke="#000" stroke-width="0.95"/>
<line x1="585.9" y1="1104.13" x2="588.9" y2="1104.13" stroke="#000" stroke-width="0.95"/>
<line x1="586.5" y1="1085.28" x2="588.9" y2="1085.28" stroke="#000" stroke-width="0.8"/>
<line x1="586.5" y1="1077.7" x2="588.9" y2="1077.7" stroke="#000" stroke-width="0.8"/>
<line x1="586.5" y1="1072.02" x2="588.9" y2="1072.02" stroke="#000" stroke-width="0.8"/>
<line x1="586.5" y1="1067.48" x2="588.9" y2="1067.48" stroke="#000" stroke-width="0.8"/>
<line x1="586.5" y1="1063.69" x2="588.9" y2="1063.69" stroke="#000" stroke-width="0.8"/>
<line x1="586.5" y1="1111.79" x2="588.9" y2="1111.79" stroke="#000" stroke-width="0.8"/>
<line x1="586.5" y1="1119.36" x2="588.9" y2="1119.36" stroke="#000" stroke-width="0.8"/>
<line x1="586.5" y1="1125.04" x2="588.9" y2="1125.04" stroke="#000" stroke-width="0.8"/>
<line x1="586.5" y1="1129.59" x2="588.9" y2="1129.59" stroke="#000" stroke-width="0.8"/>
<ellipse cx="685.05" cy="1036.15" rx="17" ry="16" fill="none" stroke="#111" stroke-width="1"/>
<ellipse cx="685.05" cy="1036.15" rx="14.57" ry="13.71" fill="none" stroke="#111" stroke-width="1"/>
<ellipse cx="685.05" cy="1036.15" rx="12.14" ry="11.43" fill="none" stroke="#111" stroke-width="1"/>
<ellipse cx="685.05" cy="1036.15" rx="9.71" ry="9.14" fill="none" stroke="#111" stroke-width="1"/>
<ellipse cx="685.05" cy="1036.15" rx="7.29" ry="6.86" fill="none" stroke="#111" stroke-width="1"/>
<ellipse cx="685.05" cy="1036.15" rx="4.86" ry="4.57" fill="none" stroke="#111" stroke-width="1"/>
<ellipse cx="685.05" cy="1036.15" rx="2.43" ry="2.29" fill="none" stroke="#111" stroke-width="1"/>
<ellipse cx="661.85" cy="1036.15" rx="18" ry="20.5" fill="#fff" stroke="#000" stroke-width="0.7"/>
<ellipse cx="661.85" cy="1036.15" rx="17" ry="19.5" fill="#fff" stroke="#000" stroke-width="0.7"/>
<ellipse cx="661.85" cy="1036.15" rx="16" ry="18.5" fill="#111" stroke="none" stroke-width="0.6"/>
<ellipse cx="659.36" cy="1042.75" rx="12" ry="17" fill="none" stroke="#111" stroke-width="0.55"/>
<rect x="658.33" y="1033.94" width="2.4" height="9" fill="#fff" stroke="none" stroke-width="0"/>
<rect x="591.57" y="959.52" width="78.33" height="172.71" fill="none" stroke="#111" stroke-width="2.4"/>
<rect x="673.77" y="959.52" width="83.77" height="172.71" fill="none" stroke="#111" stroke-width="2.4"/>
<line x1="671.83" y1="959.32" x2="671.83" y2="1133.03" stroke="#777" stroke-width="1.3"/>
<text transform="translate(623.69 1088.7) scale(0.96 1)" font-size="12.6" text-anchor="middle" fill="#111" stroke="#111" stroke-width="0.3">68.47</text>
<text transform="translate(718.37 1088.7) scale(0.96 1)" font-size="12.6" text-anchor="middle" fill="#111" stroke="#111" stroke-width="0.3">27.78</text>
<rect x="836.68" y="957.32" width="176" height="175.71" fill="none" stroke="#333" stroke-width="0.7"/>
<line x1="868.83" y1="1133.03" x2="868.83" y2="1137.23" stroke="#000" stroke-width="1.3"/>
<text transform="translate(868.83 1148.63)" font-size="6.6" text-anchor="middle" fill="#000" stroke="#000" stroke-width="0.2">0</text>
<line x1="910.66" y1="1133.03" x2="910.66" y2="1137.23" stroke="#000" stroke-width="1.3"/>
<text transform="translate(914.16 1148.63)" font-size="6.6" text-anchor="middle" fill="#000" stroke="#000" stroke-width="0.2">10<tspan dy="-2.24" dx="1.4" font-size="5.94">3</tspan></text>
<line x1="955.14" y1="1133.03" x2="955.14" y2="1137.23" stroke="#000" stroke-width="1.3"/>
<text transform="translate(958.64 1148.63)" font-size="6.6" text-anchor="middle" fill="#000" stroke="#000" stroke-width="0.2">10<tspan dy="-2.24" dx="1.4" font-size="5.94">4</tspan></text>
<line x1="995.21" y1="1133.03" x2="995.21" y2="1137.23" stroke="#000" stroke-width="1.3"/>
<text transform="translate(998.71 1148.63)" font-size="6.6" text-anchor="middle" fill="#000" stroke="#000" stroke-width="0.2">10<tspan dy="-2.24" dx="1.4" font-size="5.94">5</tspan></text>
<line x1="924.05" y1="1133.03" x2="924.05" y2="1135.43" stroke="#000" stroke-width="0.8"/>
<line x1="931.88" y1="1133.03" x2="931.88" y2="1135.43" stroke="#000" stroke-width="0.8"/>
<line x1="937.44" y1="1133.03" x2="937.44" y2="1135.43" stroke="#000" stroke-width="0.8"/>
<line x1="941.75" y1="1133.03" x2="941.75" y2="1135.43" stroke="#000" stroke-width="0.8"/>
<line x1="945.27" y1="1133.03" x2="945.27" y2="1135.43" stroke="#000" stroke-width="0.8"/>
<line x1="948.25" y1="1133.03" x2="948.25" y2="1135.43" stroke="#000" stroke-width="0.8"/>
<line x1="950.83" y1="1133.03" x2="950.83" y2="1135.43" stroke="#000" stroke-width="0.8"/>
<line x1="953.1" y1="1133.03" x2="953.1" y2="1135.43" stroke="#000" stroke-width="0.8"/>
<line x1="967.2" y1="1133.03" x2="967.2" y2="1135.43" stroke="#000" stroke-width="0.8"/>
<line x1="974.26" y1="1133.03" x2="974.26" y2="1135.43" stroke="#000" stroke-width="0.8"/>
<line x1="979.26" y1="1133.03" x2="979.26" y2="1135.43" stroke="#000" stroke-width="0.8"/>
<line x1="983.15" y1="1133.03" x2="983.15" y2="1135.43" stroke="#000" stroke-width="0.8"/>
<line x1="986.32" y1="1133.03" x2="986.32" y2="1135.43" stroke="#000" stroke-width="0.8"/>
<line x1="989" y1="1133.03" x2="989" y2="1135.43" stroke="#000" stroke-width="0.8"/>
<line x1="991.33" y1="1133.03" x2="991.33" y2="1135.43" stroke="#000" stroke-width="0.8"/>
<line x1="993.38" y1="1133.03" x2="993.38" y2="1135.43" stroke="#000" stroke-width="0.8"/>
<line x1="1007.27" y1="1133.03" x2="1007.27" y2="1135.43" stroke="#000" stroke-width="0.8"/>
<line x1="863.23" y1="1133.03" x2="863.23" y2="1136.03" stroke="#000" stroke-width="0.95"/>
<line x1="864.23" y1="1133.03" x2="864.23" y2="1136.03" stroke="#000" stroke-width="0.95"/>
<line x1="865.23" y1="1133.03" x2="865.23" y2="1136.03" stroke="#000" stroke-width="0.95"/>
<line x1="866.13" y1="1133.03" x2="866.13" y2="1137.23" stroke="#000" stroke-width="0.95"/>
<line x1="867.03" y1="1133.03" x2="867.03" y2="1137.23" stroke="#000" stroke-width="0.95"/>
<line x1="867.93" y1="1133.03" x2="867.93" y2="1137.23" stroke="#000" stroke-width="0.95"/>
<line x1="869.73" y1="1133.03" x2="869.73" y2="1137.23" stroke="#000" stroke-width="0.95"/>
<line x1="870.63" y1="1133.03" x2="870.63" y2="1137.23" stroke="#000" stroke-width="0.95"/>
<line x1="871.53" y1="1133.03" x2="871.53" y2="1137.23" stroke="#000" stroke-width="0.95"/>
<line x1="872.43" y1="1133.03" x2="872.43" y2="1136.03" stroke="#000" stroke-width="0.95"/>
<line x1="873.43" y1="1133.03" x2="873.43" y2="1136.03" stroke="#000" stroke-width="0.95"/>
<line x1="874.43" y1="1133.03" x2="874.43" y2="1136.03" stroke="#000" stroke-width="0.95"/>
<line x1="883.47" y1="1133.03" x2="883.47" y2="1135.43" stroke="#000" stroke-width="0.8"/>
<line x1="891.83" y1="1133.03" x2="891.83" y2="1135.43" stroke="#000" stroke-width="0.8"/>
<line x1="898.11" y1="1133.03" x2="898.11" y2="1135.43" stroke="#000" stroke-width="0.8"/>
<line x1="903.13" y1="1133.03" x2="903.13" y2="1135.43" stroke="#000" stroke-width="0.8"/>
<line x1="907.31" y1="1133.03" x2="907.31" y2="1135.43" stroke="#000" stroke-width="0.8"/>
<line x1="854.18" y1="1133.03" x2="854.18" y2="1135.43" stroke="#000" stroke-width="0.8"/>
<line x1="845.82" y1="1133.03" x2="845.82" y2="1135.43" stroke="#000" stroke-width="0.8"/>
<line x1="839.54" y1="1133.03" x2="839.54" y2="1135.43" stroke="#000" stroke-width="0.8"/>
<line x1="832.48" y1="974.2" x2="836.68" y2="974.2" stroke="#000" stroke-width="1.3"/>
<text transform="translate(829.18 977.1)" font-size="6.6" text-anchor="end" fill="#000" stroke="#000" stroke-width="0.2">10<tspan dy="-2.24" dx="1.4" font-size="5.94">5</tspan></text>
<line x1="832.48" y1="1014.86" x2="836.68" y2="1014.86" stroke="#000" stroke-width="1.3"/>
<text transform="translate(829.18 1017.76)" font-size="6.6" text-anchor="end" fill="#000" stroke="#000" stroke-width="0.2">10<tspan dy="-2.24" dx="1.4" font-size="5.94">4</tspan></text>
<line x1="832.48" y1="1060.66" x2="836.68" y2="1060.66" stroke="#000" stroke-width="1.3"/>
<text transform="translate(829.18 1063.56)" font-size="6.6" text-anchor="end" fill="#000" stroke="#000" stroke-width="0.2">10<tspan dy="-2.24" dx="1.4" font-size="5.94">3</tspan></text>
<line x1="832.48" y1="1098.53" x2="836.68" y2="1098.53" stroke="#000" stroke-width="1.3"/>
<text transform="translate(829.18 1101.43)" font-size="6.6" text-anchor="end" fill="#000" stroke="#000" stroke-width="0.2">0</text>
<line x1="834.28" y1="1002.62" x2="836.68" y2="1002.62" stroke="#000" stroke-width="0.8"/>
<line x1="834.28" y1="995.46" x2="836.68" y2="995.46" stroke="#000" stroke-width="0.8"/>
<line x1="834.28" y1="990.38" x2="836.68" y2="990.38" stroke="#000" stroke-width="0.8"/>
<line x1="834.28" y1="986.44" x2="836.68" y2="986.44" stroke="#000" stroke-width="0.8"/>
<line x1="834.28" y1="983.22" x2="836.68" y2="983.22" stroke="#000" stroke-width="0.8"/>
<line x1="834.28" y1="980.5" x2="836.68" y2="980.5" stroke="#000" stroke-width="0.8"/>
<line x1="834.28" y1="978.14" x2="836.68" y2="978.14" stroke="#000" stroke-width="0.8"/>
<line x1="834.28" y1="976.06" x2="836.68" y2="976.06" stroke="#000" stroke-width="0.8"/>
<line x1="834.28" y1="1046.87" x2="836.68" y2="1046.87" stroke="#000" stroke-width="0.8"/>
<line x1="834.28" y1="1038.81" x2="836.68" y2="1038.81" stroke="#000" stroke-width="0.8"/>
<line x1="834.28" y1="1033.09" x2="836.68" y2="1033.09" stroke="#000" stroke-width="0.8"/>
<line x1="834.28" y1="1028.65" x2="836.68" y2="1028.65" stroke="#000" stroke-width="0.8"/>
<line x1="834.28" y1="1025.02" x2="836.68" y2="1025.02" stroke="#000" stroke-width="0.8"/>
<line x1="834.28" y1="1021.96" x2="836.68" y2="1021.96" stroke="#000" stroke-width="0.8"/>
<line x1="834.28" y1="1019.3" x2="836.68" y2="1019.3" stroke="#000" stroke-width="0.8"/>
<line x1="834.28" y1="1016.96" x2="836.68" y2="1016.96" stroke="#000" stroke-width="0.8"/>
<line x1="834.28" y1="961.96" x2="836.68" y2="961.96" stroke="#000" stroke-width="0.8"/>
<line x1="833.68" y1="1092.93" x2="836.68" y2="1092.93" stroke="#000" stroke-width="0.95"/>
<line x1="833.68" y1="1093.93" x2="836.68" y2="1093.93" stroke="#000" stroke-width="0.95"/>
<line x1="833.68" y1="1094.93" x2="836.68" y2="1094.93" stroke="#000" stroke-width="0.95"/>
<line x1="832.48" y1="1095.83" x2="836.68" y2="1095.83" stroke="#000" stroke-width="0.95"/>
<line x1="832.48" y1="1096.73" x2="836.68" y2="1096.73" stroke="#000" stroke-width="0.95"/>
<line x1="832.48" y1="1097.63" x2="836.68" y2="1097.63" stroke="#000" stroke-width="0.95"/>
<line x1="832.48" y1="1099.43" x2="836.68" y2="1099.43" stroke="#000" stroke-width="0.95"/>
<line x1="832.48" y1="1100.33" x2="836.68" y2="1100.33" stroke="#000" stroke-width="0.95"/>
<line x1="832.48" y1="1101.23" x2="836.68" y2="1101.23" stroke="#000" stroke-width="0.95"/>
<line x1="833.68" y1="1102.13" x2="836.68" y2="1102.13" stroke="#000" stroke-width="0.95"/>
<line x1="833.68" y1="1103.13" x2="836.68" y2="1103.13" stroke="#000" stroke-width="0.95"/>
<line x1="833.68" y1="1104.13" x2="836.68" y2="1104.13" stroke="#000" stroke-width="0.95"/>
<line x1="834.28" y1="1085.28" x2="836.68" y2="1085.28" stroke="#000" stroke-width="0.8"/>
<line x1="834.28" y1="1077.7" x2="836.68" y2="1077.7" stroke="#000" stroke-width="0.8"/>
<line x1="834.28" y1="1072.02" x2="836.68" y2="1072.02" stroke="#000" stroke-width="0.8"/>
<line x1="834.28" y1="1067.48" x2="836.68" y2="1067.48" stroke="#000" stroke-width="0.8"/>
<line x1="834.28" y1="1063.69" x2="836.68" y2="1063.69" stroke="#000" stroke-width="0.8"/>
<line x1="834.28" y1="1111.79" x2="836.68" y2="1111.79" stroke="#000" stroke-width="0.8"/>
<line x1="834.28" y1="1119.36" x2="836.68" y2="1119.36" stroke="#000" stroke-width="0.8"/>
<line x1="834.28" y1="1125.04" x2="836.68" y2="1125.04" stroke="#000" stroke-width="0.8"/>
<line x1="834.28" y1="1129.59" x2="836.68" y2="1129.59" stroke="#000" stroke-width="0.8"/>
<ellipse cx="928.72" cy="1032.48" rx="12.5" ry="15" fill="none" stroke="#111" stroke-width="1"/>
<ellipse cx="928.72" cy="1032.48" rx="10" ry="12" fill="none" stroke="#111" stroke-width="1"/>
<ellipse cx="928.72" cy="1032.48" rx="7.5" ry="9" fill="none" stroke="#111" stroke-width="1"/>
<ellipse cx="928.72" cy="1032.48" rx="5" ry="6" fill="none" stroke="#111" stroke-width="1"/>
<ellipse cx="928.72" cy="1032.48" rx="2.5" ry="3" fill="none" stroke="#111" stroke-width="1"/>
<ellipse cx="897.89" cy="1032.48" rx="16.5" ry="21" fill="#fff" stroke="#000" stroke-width="0.7"/>
<ellipse cx="897.89" cy="1032.48" rx="15.5" ry="20" fill="#fff" stroke="#000" stroke-width="0.7"/>
<ellipse cx="897.89" cy="1032.48" rx="14.5" ry="19" fill="#111" stroke="none" stroke-width="0.6"/>
<ellipse cx="897.89" cy="1045.69" rx="14" ry="15" fill="none" stroke="#111" stroke-width="0.55"/>
<ellipse cx="899.36" cy="1043.49" rx="12.5" ry="14" fill="#fff" stroke="#111" stroke-width="0.55"/>
<ellipse cx="897.89" cy="1032.48" rx="14.5" ry="19" fill="#111" stroke="none" stroke-width="0.6"/>
<ellipse cx="926.51" cy="1033.21" rx="3" ry="3" fill="#fff" stroke="none" stroke-width="0.6"/>
<ellipse cx="899.8" cy="1029.83" rx="1.2" ry="2.4" fill="#fff" stroke="none" stroke-width="0.6"/>
<rect x="839.99" y="959.87" width="77.63" height="172.01" fill="none" stroke="#111" stroke-width="3.1"/>
<rect x="923.22" y="959.87" width="83.21" height="172.01" fill="none" stroke="#111" stroke-width="3.1"/>
<rect x="916.97" y="958.32" width="6.9" height="175.71" fill="#111" stroke="none" stroke-width="0"/>
<text transform="translate(868.24 1088.7) scale(0.96 1)" font-size="12.6" text-anchor="middle" fill="#111" stroke="#111" stroke-width="0.3">79.64</text>
<text transform="translate(977.89 1088.7) scale(0.96 1)" font-size="12.6" text-anchor="middle" fill="#111" stroke="#111" stroke-width="0.3">17.92</text>
<text transform="translate(69.6 1128) rotate(-90)" font-size="18.2" text-anchor="start" textLength="100" lengthAdjust="spacingAndGlyphs" fill="#000" stroke="#000" stroke-width="0.4">CD56 BV605</text>
<line x1="64.7" y1="1012.6" x2="64.7" y2="968.9" stroke="#444" stroke-width="1"/>
<polygon points="64.7,962 60.3,969.4 69.1,969.4" fill="#000"/>
<text transform="translate(100.9 1168.4)" font-size="18.4" text-anchor="start" textLength="88.5" lengthAdjust="spacingAndGlyphs" fill="#000" stroke="#000" stroke-width="0.4">FcRγ FITC</text>
<line x1="219.3" y1="1164.4" x2="893" y2="1164.4" stroke="#111" stroke-width="1.1"/>
<polygon points="899,1164.4 892.5,1161.8 892.5,1167" fill="#000"/>
<text transform="translate(307.7 875.3)" font-size="26.6" text-anchor="start" textLength="548" lengthAdjust="spacingAndGlyphs" fill="#000" stroke="#000" stroke-width="0.5">CD56<tspan dy="-8.25" font-size="15.43">dim</tspan><tspan dy="8.25">CD57</tspan><tspan dy="-8.25" font-size="15.43">+</tspan><tspan dy="8.25">FcRγ</tspan><tspan dy="-8.25" font-size="15.43">-</tspan><tspan dy="8.25"> cells in SARS-CoV-2 naive</tspan></text>
<text transform="translate(104.5 903.5)" font-size="26.3" text-anchor="start" textLength="186" lengthAdjust="spacingAndGlyphs" fill="#000" stroke="#000" stroke-width="0.4">Gated on CD57<tspan dy="-8.15" font-size="15.25">+</tspan></text>
<text transform="translate(131.2 940.5)" font-size="23.6" text-anchor="start" textLength="86.6" lengthAdjust="spacingAndGlyphs" fill="#000" stroke="#000" stroke-width="0.4">Baseline</text>
<text transform="translate(380.3 940.5) scale(0.95 1)" font-size="23.6" text-anchor="start" fill="#000" stroke="#000" stroke-width="0.4">1<tspan dy="-7.32" font-size="13.69">st</tspan><tspan dy="7.32"> dose</tspan></text>
<text transform="translate(631.5 940.5) scale(0.95 1)" font-size="23.6" text-anchor="start" fill="#000" stroke="#000" stroke-width="0.4">2<tspan dy="-7.32" font-size="13.69">nd</tspan><tspan dy="7.32"> dose</tspan></text>
<text transform="translate(869 940.5) scale(0.95 1)" font-size="23.6" text-anchor="start" fill="#000" stroke="#000" stroke-width="0.4">3<tspan dy="-7.32" font-size="13.69">rd</tspan><tspan dy="7.32"> dose</tspan></text>
<text transform="translate(15.5 875.2)" font-size="35" text-anchor="start" fill="#000" stroke="#000" stroke-width="0.4">g</text>
<polyline points="1252.27,709.17 1308.78,522.85 1365.13,530.21" fill="none" stroke="#111" stroke-width="1.15" stroke-linejoin="miter"/>
<polyline points="1252.27,622.69 1308.78,553.85 1365.13,508.81 1421.64,590.15" fill="none" stroke="#111" stroke-width="1.15" stroke-linejoin="miter"/>
<polyline points="1252.27,624.4 1308.78,574.4 1365.13,595.8" fill="none" stroke="#111" stroke-width="1.15" stroke-linejoin="miter"/>
<polyline points="1252.27,644.1 1308.78,574.4 1365.13,651.8" fill="none" stroke="#111" stroke-width="1.15" stroke-linejoin="miter"/>
<polyline points="1252.27,660.37 1308.78,590.5 1365.13,585.02 1421.64,659.51" fill="none" stroke="#111" stroke-width="1.15" stroke-linejoin="miter"/>
<polyline points="1252.27,662.94 1308.78,597.86" fill="none" stroke="#111" stroke-width="1.15" stroke-linejoin="miter"/>
<polyline points="1252.27,623.55 1365.13,645.81 1421.64,659.51" fill="none" stroke="#111" stroke-width="1.15" stroke-linejoin="miter"/>
<polyline points="1252.27,647.52 1308.78,667.22 1365.13,697.53" fill="none" stroke="#111" stroke-width="1.15" stroke-linejoin="miter"/>
<polyline points="1252.27,662.94 1308.78,644.1 1365.13,655.23 1421.64,663.79" fill="none" stroke="#111" stroke-width="1.15" stroke-linejoin="miter"/>
<polyline points="1252.27,680.06 1308.78,658.65 1365.13,641.02 1421.64,676.64" fill="none" stroke="#111" stroke-width="1.15" stroke-linejoin="miter"/>
<polyline points="1252.27,689.14 1308.78,663.79 1365.13,617.04 1421.64,680.92" fill="none" stroke="#111" stroke-width="1.15" stroke-linejoin="miter"/>
<polyline points="1252.27,693.76 1308.78,667.22 1365.13,644.95 1421.64,663.79" fill="none" stroke="#111" stroke-width="1.15" stroke-linejoin="miter"/>
<polyline points="1252.27,701.47 1308.78,671.5 1365.13,580.22 1421.64,680.92" fill="none" stroke="#111" stroke-width="1.15" stroke-linejoin="miter"/>
<polyline points="1252.27,704.89 1308.78,680.06 1365.13,644.95 1421.64,659.51" fill="none" stroke="#111" stroke-width="1.15" stroke-linejoin="miter"/>
<polyline points="1252.27,709.17 1308.78,708.32 1365.13,677.49 1421.64,569.6" fill="none" stroke="#111" stroke-width="1.15" stroke-linejoin="miter"/>
<polyline points="1252.27,709.17 1308.78,712.09 1365.13,707.98" fill="none" stroke="#111" stroke-width="1.15" stroke-linejoin="miter"/>
<polyline points="1252.27,718.59 1308.78,731.95 1365.13,687.43 1421.64,594.43" fill="none" stroke="#111" stroke-width="1.15" stroke-linejoin="miter"/>
<polyline points="1252.27,712.09 1308.78,671.5 1365.13,707.98" fill="none" stroke="#111" stroke-width="1.15" stroke-linejoin="miter"/>
<polyline points="1365.13,697.53 1421.64,600.77" fill="none" stroke="#111" stroke-width="1.15" stroke-linejoin="miter"/>
<polyline points="1365.13,658.65 1421.64,684.34" fill="none" stroke="#111" stroke-width="1.15" stroke-linejoin="miter"/>
<polyline points="1308.78,667.22 1365.13,658.65 1421.64,663.79" fill="none" stroke="#111" stroke-width="1.15" stroke-linejoin="miter"/>
<polyline points="1365.13,585.02 1421.64,676.64" fill="none" stroke="#111" stroke-width="1.15" stroke-linejoin="miter"/>
<polyline points="1478.4,597.86 1534.74,570.97 1591.25,550.76 1647.77,577.82" fill="none" stroke="#111" stroke-width="1.15" stroke-linejoin="miter"/>
<polyline points="1478.4,625.77 1534.74,599.91 1591.25,569.09 1647.77,600.09" fill="none" stroke="#111" stroke-width="1.15" stroke-linejoin="miter"/>
<polyline points="1478.4,583.82 1647.77,646.67" fill="none" stroke="#111" stroke-width="1.15" stroke-linejoin="miter"/>
<polyline points="1478.4,645.3 1534.74,585.87 1591.25,615.84" fill="none" stroke="#111" stroke-width="1.15" stroke-linejoin="miter"/>
<polyline points="1478.4,645.3 1534.74,623.55 1591.25,669.79 1647.77,715.17" fill="none" stroke="#111" stroke-width="1.15" stroke-linejoin="miter"/>
<polyline points="1478.4,645.3 1534.74,653.86 1591.25,669.79 1647.77,683.49" fill="none" stroke="#111" stroke-width="1.15" stroke-linejoin="miter"/>
<polyline points="1478.4,669.27 1534.74,623.55" fill="none" stroke="#111" stroke-width="1.15" stroke-linejoin="miter"/>
<polyline points="1478.4,676.12 1534.74,626.97 1647.77,683.49" fill="none" stroke="#111" stroke-width="1.15" stroke-linejoin="miter"/>
<polyline points="1478.4,682.63 1534.74,644.61 1591.25,633.48 1647.77,728.01" fill="none" stroke="#111" stroke-width="1.15" stroke-linejoin="miter"/>
<polyline points="1478.4,687.43 1534.74,653.86 1591.25,674.07 1647.77,724.59" fill="none" stroke="#111" stroke-width="1.15" stroke-linejoin="miter"/>
<polyline points="1478.4,676.12 1534.74,686.57 1591.25,731.44 1647.77,690.85" fill="none" stroke="#111" stroke-width="1.15" stroke-linejoin="miter"/>
<polyline points="1478.4,656.43 1534.74,713.46" fill="none" stroke="#111" stroke-width="1.15" stroke-linejoin="miter"/>
<polyline points="1478.4,687.43 1534.74,734.35 1591.25,731.44 1647.77,724.59" fill="none" stroke="#111" stroke-width="1.15" stroke-linejoin="miter"/>
<polyline points="1478.4,719.11 1591.25,674.07 1647.77,730.58" fill="none" stroke="#111" stroke-width="1.15" stroke-linejoin="miter"/>
<polyline points="1534.74,617.9 1591.25,614.13" fill="none" stroke="#111" stroke-width="1.15" stroke-linejoin="miter"/>
<polyline points="1591.25,669.79 1647.77,609.5" fill="none" stroke="#111" stroke-width="1.15" stroke-linejoin="miter"/>
<circle cx="1252.27" cy="622.69" r="5.05" fill="#80CC28" stroke="#000" stroke-width="1.1"/>
<circle cx="1252.27" cy="631.25" r="5.05" fill="#80CC28" stroke="#000" stroke-width="1.1"/>
<circle cx="1252.27" cy="644.1" r="5.05" fill="#80CC28" stroke="#000" stroke-width="1.1"/>
<circle cx="1252.27" cy="647.52" r="5.05" fill="#80CC28" stroke="#000" stroke-width="1.1"/>
<circle cx="1252.27" cy="660.37" r="5.05" fill="#80CC28" stroke="#000" stroke-width="1.1"/>
<circle cx="1252.27" cy="662.94" r="5.05" fill="#80CC28" stroke="#000" stroke-width="1.1"/>
<circle cx="1252.27" cy="673.21" r="5.05" fill="#80CC28" stroke="#000" stroke-width="1.1"/>
<circle cx="1252.27" cy="680.06" r="5.05" fill="#80CC28" stroke="#000" stroke-width="1.1"/>
<circle cx="1252.27" cy="689.14" r="5.05" fill="#80CC28" stroke="#000" stroke-width="1.1"/>
<circle cx="1252.27" cy="693.76" r="5.05" fill="#80CC28" stroke="#000" stroke-width="1.1"/>
<circle cx="1252.27" cy="701.47" r="5.05" fill="#80CC28" stroke="#000" stroke-width="1.1"/>
<circle cx="1252.27" cy="704.89" r="5.05" fill="#80CC28" stroke="#000" stroke-width="1.1"/>
<circle cx="1252.27" cy="709.17" r="5.05" fill="#80CC28" stroke="#000" stroke-width="1.1"/>
<circle cx="1252.27" cy="712.09" r="5.05" fill="#80CC28" stroke="#000" stroke-width="1.1"/>
<circle cx="1252.27" cy="718.59" r="5.05" fill="#80CC28" stroke="#000" stroke-width="1.1"/>
<circle cx="1308.78" cy="522.85" r="5.05" fill="#80CC28" stroke="#000" stroke-width="1.1"/>
<circle cx="1308.78" cy="553.85" r="5.05" fill="#80CC28" stroke="#000" stroke-width="1.1"/>
<circle cx="1308.78" cy="574.4" r="5.05" fill="#80CC28" stroke="#000" stroke-width="1.1"/>
<circle cx="1308.78" cy="590.5" r="5.05" fill="#80CC28" stroke="#000" stroke-width="1.1"/>
<circle cx="1308.78" cy="597.86" r="5.05" fill="#80CC28" stroke="#000" stroke-width="1.1"/>
<circle cx="1308.78" cy="644.1" r="5.05" fill="#80CC28" stroke="#000" stroke-width="1.1"/>
<circle cx="1308.78" cy="658.65" r="5.05" fill="#80CC28" stroke="#000" stroke-width="1.1"/>
<circle cx="1308.78" cy="663.79" r="5.05" fill="#80CC28" stroke="#000" stroke-width="1.1"/>
<circle cx="1308.78" cy="667.22" r="5.05" fill="#80CC28" stroke="#000" stroke-width="1.1"/>
<circle cx="1308.78" cy="671.5" r="5.05" fill="#80CC28" stroke="#000" stroke-width="1.1"/>
<circle cx="1308.78" cy="680.06" r="5.05" fill="#80CC28" stroke="#000" stroke-width="1.1"/>
<circle cx="1308.78" cy="708.32" r="5.05" fill="#80CC28" stroke="#000" stroke-width="1.1"/>
<circle cx="1308.78" cy="712.09" r="5.05" fill="#80CC28" stroke="#000" stroke-width="1.1"/>
<circle cx="1308.78" cy="731.95" r="5.05" fill="#80CC28" stroke="#000" stroke-width="1.1"/>
<circle cx="1365.13" cy="508.81" r="5.05" fill="#80CC28" stroke="#000" stroke-width="1.1"/>
<circle cx="1365.13" cy="530.21" r="5.05" fill="#80CC28" stroke="#000" stroke-width="1.1"/>
<circle cx="1365.13" cy="580.22" r="5.05" fill="#80CC28" stroke="#000" stroke-width="1.1"/>
<circle cx="1365.13" cy="585.02" r="5.05" fill="#80CC28" stroke="#000" stroke-width="1.1"/>
<circle cx="1365.13" cy="595.8" r="5.05" fill="#80CC28" stroke="#000" stroke-width="1.1"/>
<circle cx="1365.13" cy="617.04" r="5.05" fill="#80CC28" stroke="#000" stroke-width="1.1"/>
<circle cx="1365.13" cy="641.02" r="5.05" fill="#80CC28" stroke="#000" stroke-width="1.1"/>
<circle cx="1365.13" cy="644.95" r="5.05" fill="#80CC28" stroke="#000" stroke-width="1.1"/>
<circle cx="1365.13" cy="655.23" r="5.05" fill="#80CC28" stroke="#000" stroke-width="1.1"/>
<circle cx="1365.13" cy="658.65" r="5.05" fill="#80CC28" stroke="#000" stroke-width="1.1"/>
<circle cx="1365.13" cy="677.49" r="5.05" fill="#80CC28" stroke="#000" stroke-width="1.1"/>
<circle cx="1365.13" cy="687.43" r="5.05" fill="#80CC28" stroke="#000" stroke-width="1.1"/>
<circle cx="1365.13" cy="697.53" r="5.05" fill="#80CC28" stroke="#000" stroke-width="1.1"/>
<circle cx="1365.13" cy="707.98" r="5.05" fill="#80CC28" stroke="#000" stroke-width="1.1"/>
<circle cx="1421.64" cy="569.6" r="5.05" fill="#80CC28" stroke="#000" stroke-width="1.1"/>
<circle cx="1421.64" cy="585.53" r="5.05" fill="#80CC28" stroke="#000" stroke-width="1.1"/>
<circle cx="1421.64" cy="594.43" r="5.05" fill="#80CC28" stroke="#000" stroke-width="1.1"/>
<circle cx="1421.64" cy="600.77" r="5.05" fill="#80CC28" stroke="#000" stroke-width="1.1"/>
<circle cx="1421.64" cy="659.51" r="5.05" fill="#80CC28" stroke="#000" stroke-width="1.1"/>
<circle cx="1421.64" cy="663.79" r="5.05" fill="#80CC28" stroke="#000" stroke-width="1.1"/>
<circle cx="1421.64" cy="676.64" r="5.05" fill="#80CC28" stroke="#000" stroke-width="1.1"/>
<circle cx="1421.64" cy="680.92" r="5.05" fill="#80CC28" stroke="#000" stroke-width="1.1"/>
<circle cx="1421.64" cy="684.34" r="5.05" fill="#80CC28" stroke="#000" stroke-width="1.1"/>
<circle cx="1478.4" cy="583.82" r="5.05" fill="#8E1752" stroke="#000" stroke-width="1.1"/>
<circle cx="1478.4" cy="597.86" r="5.05" fill="#8E1752" stroke="#000" stroke-width="1.1"/>
<circle cx="1478.4" cy="625.77" r="5.05" fill="#8E1752" stroke="#000" stroke-width="1.1"/>
<circle cx="1478.4" cy="645.3" r="5.05" fill="#8E1752" stroke="#000" stroke-width="1.1"/>
<circle cx="1478.4" cy="647.52" r="5.05" fill="#8E1752" stroke="#000" stroke-width="1.1"/>
<circle cx="1478.4" cy="656.43" r="5.05" fill="#8E1752" stroke="#000" stroke-width="1.1"/>
<circle cx="1478.4" cy="669.27" r="5.05" fill="#8E1752" stroke="#000" stroke-width="1.1"/>
<circle cx="1478.4" cy="676.12" r="5.05" fill="#8E1752" stroke="#000" stroke-width="1.1"/>
<circle cx="1478.4" cy="682.63" r="5.05" fill="#8E1752" stroke="#000" stroke-width="1.1"/>
<circle cx="1478.4" cy="687.43" r="5.05" fill="#8E1752" stroke="#000" stroke-width="1.1"/>
<circle cx="1478.4" cy="719.11" r="5.05" fill="#8E1752" stroke="#000" stroke-width="1.1"/>
<circle cx="1534.74" cy="570.97" r="5.05" fill="#8E1752" stroke="#000" stroke-width="1.1"/>
<circle cx="1534.74" cy="585.87" r="5.05" fill="#8E1752" stroke="#000" stroke-width="1.1"/>
<circle cx="1534.74" cy="599.91" r="5.05" fill="#8E1752" stroke="#000" stroke-width="1.1"/>
<circle cx="1534.74" cy="617.9" r="5.05" fill="#8E1752" stroke="#000" stroke-width="1.1"/>
<circle cx="1534.74" cy="623.55" r="5.05" fill="#8E1752" stroke="#000" stroke-width="1.1"/>
<circle cx="1534.74" cy="626.97" r="5.05" fill="#8E1752" stroke="#000" stroke-width="1.1"/>
<circle cx="1534.74" cy="644.61" r="5.05" fill="#8E1752" stroke="#000" stroke-width="1.1"/>
<circle cx="1534.74" cy="653.86" r="5.05" fill="#8E1752" stroke="#000" stroke-width="1.1"/>
<circle cx="1534.74" cy="686.57" r="5.05" fill="#8E1752" stroke="#000" stroke-width="1.1"/>
<circle cx="1534.74" cy="713.46" r="5.05" fill="#8E1752" stroke="#000" stroke-width="1.1"/>
<circle cx="1534.74" cy="734.35" r="5.05" fill="#8E1752" stroke="#000" stroke-width="1.1"/>
<circle cx="1591.25" cy="550.76" r="5.05" fill="#8E1752" stroke="#000" stroke-width="1.1"/>
<circle cx="1591.25" cy="569.09" r="5.05" fill="#8E1752" stroke="#000" stroke-width="1.1"/>
<circle cx="1591.25" cy="614.13" r="5.05" fill="#8E1752" stroke="#000" stroke-width="1.1"/>
<circle cx="1591.25" cy="617.9" r="5.05" fill="#8E1752" stroke="#000" stroke-width="1.1"/>
<circle cx="1591.25" cy="633.48" r="5.05" fill="#8E1752" stroke="#000" stroke-width="1.1"/>
<circle cx="1591.25" cy="669.79" r="5.05" fill="#8E1752" stroke="#000" stroke-width="1.1"/>
<circle cx="1591.25" cy="674.07" r="5.05" fill="#8E1752" stroke="#000" stroke-width="1.1"/>
<circle cx="1591.25" cy="731.44" r="5.05" fill="#8E1752" stroke="#000" stroke-width="1.1"/>
<circle cx="1647.77" cy="577.82" r="5.05" fill="#8E1752" stroke="#000" stroke-width="1.1"/>
<circle cx="1647.77" cy="600.09" r="5.05" fill="#8E1752" stroke="#000" stroke-width="1.1"/>
<circle cx="1647.77" cy="609.5" r="5.05" fill="#8E1752" stroke="#000" stroke-width="1.1"/>
<circle cx="1647.77" cy="646.67" r="5.05" fill="#8E1752" stroke="#000" stroke-width="1.1"/>
<circle cx="1647.77" cy="683.49" r="5.05" fill="#8E1752" stroke="#000" stroke-width="1.1"/>
<circle cx="1647.77" cy="690.85" r="5.05" fill="#8E1752" stroke="#000" stroke-width="1.1"/>
<circle cx="1647.77" cy="715.17" r="5.05" fill="#8E1752" stroke="#000" stroke-width="1.1"/>
<circle cx="1647.77" cy="724.59" r="5.05" fill="#8E1752" stroke="#000" stroke-width="1.1"/>
<circle cx="1647.77" cy="728.01" r="5.05" fill="#8E1752" stroke="#000" stroke-width="1.1"/>
<circle cx="1647.77" cy="730.58" r="5.05" fill="#8E1752" stroke="#000" stroke-width="1.1"/>
<line x1="1214.8" y1="485.98" x2="1214.8" y2="743.56" stroke="#000" stroke-width="1.4"/>
<line x1="1214.1" y1="742.91" x2="1686.8" y2="742.91" stroke="#000" stroke-width="1.3"/>
<line x1="1203.8" y1="742.91" x2="1214.8" y2="742.91" stroke="#222" stroke-width="1.1"/>
<text transform="translate(1198.8 750.29) scale(0.93 1)" font-size="20.5" text-anchor="end" fill="#000" stroke="#000" stroke-width="0.4">0</text>
<line x1="1203.8" y1="691.64" x2="1214.8" y2="691.64" stroke="#222" stroke-width="1.1"/>
<text transform="translate(1198.8 699.02) scale(0.93 1)" font-size="20.5" text-anchor="end" fill="#000" stroke="#000" stroke-width="0.4">10</text>
<line x1="1203.8" y1="640.36" x2="1214.8" y2="640.36" stroke="#222" stroke-width="1.1"/>
<text transform="translate(1198.8 647.74) scale(0.93 1)" font-size="20.5" text-anchor="end" fill="#000" stroke="#000" stroke-width="0.4">20</text>
<line x1="1203.8" y1="589.09" x2="1214.8" y2="589.09" stroke="#222" stroke-width="1.1"/>
<text transform="translate(1198.8 596.47) scale(0.93 1)" font-size="20.5" text-anchor="end" fill="#000" stroke="#000" stroke-width="0.4">30</text>
<line x1="1203.8" y1="537.82" x2="1214.8" y2="537.82" stroke="#222" stroke-width="1.1"/>
<text transform="translate(1198.8 545.2) scale(0.93 1)" font-size="20.5" text-anchor="end" fill="#000" stroke="#000" stroke-width="0.4">40</text>
<line x1="1203.8" y1="486.54" x2="1214.8" y2="486.54" stroke="#222" stroke-width="1.1"/>
<text transform="translate(1198.8 493.92) scale(0.93 1)" font-size="20.5" text-anchor="end" fill="#000" stroke="#000" stroke-width="0.4">50</text>
<line x1="1252.27" y1="742.91" x2="1252.27" y2="753.91" stroke="#222" stroke-width="1.1"/>
<text transform="translate(1253.27 775.91) rotate(-45) scale(0.93 1)" font-size="21.5" text-anchor="end" fill="#000" stroke="#000" stroke-width="0.4">Baseline</text>
<line x1="1308.78" y1="742.91" x2="1308.78" y2="753.91" stroke="#222" stroke-width="1.1"/>
<text transform="translate(1309.78 775.91) rotate(-45) scale(0.93 1)" font-size="21.5" text-anchor="end" fill="#000" stroke="#000" stroke-width="0.4">1<tspan dy="-7.1" font-size="14.19">st</tspan><tspan dy="7.1"> dose</tspan></text>
<line x1="1365.13" y1="742.91" x2="1365.13" y2="753.91" stroke="#222" stroke-width="1.1"/>
<text transform="translate(1366.13 775.91) rotate(-45) scale(0.93 1)" font-size="21.5" text-anchor="end" fill="#000" stroke="#000" stroke-width="0.4">2<tspan dy="-7.1" font-size="14.19">nd</tspan><tspan dy="7.1">  dose</tspan></text>
<line x1="1421.64" y1="742.91" x2="1421.64" y2="753.91" stroke="#222" stroke-width="1.1"/>
<text transform="translate(1422.64 775.91) rotate(-45) scale(0.93 1)" font-size="21.5" text-anchor="end" fill="#000" stroke="#000" stroke-width="0.4">3<tspan dy="-7.1" font-size="14.19">rd</tspan><tspan dy="7.1"> dose</tspan></text>
<line x1="1478.4" y1="742.91" x2="1478.4" y2="753.91" stroke="#222" stroke-width="1.1"/>
<text transform="translate(1479.4 775.91) rotate(-45) scale(0.93 1)" font-size="21.5" text-anchor="end" fill="#000" stroke="#000" stroke-width="0.4">Baseline</text>
<line x1="1534.74" y1="742.91" x2="1534.74" y2="753.91" stroke="#222" stroke-width="1.1"/>
<text transform="translate(1535.74 775.91) rotate(-45) scale(0.93 1)" font-size="21.5" text-anchor="end" fill="#000" stroke="#000" stroke-width="0.4">1<tspan dy="-7.1" font-size="14.19">st</tspan><tspan dy="7.1"> dose</tspan></text>
<line x1="1591.25" y1="742.91" x2="1591.25" y2="753.91" stroke="#222" stroke-width="1.1"/>
<text transform="translate(1592.25 775.91) rotate(-45) scale(0.93 1)" font-size="21.5" text-anchor="end" fill="#000" stroke="#000" stroke-width="0.4">2<tspan dy="-7.1" font-size="14.19">nd</tspan><tspan dy="7.1">  dose</tspan></text>
<line x1="1647.77" y1="742.91" x2="1647.77" y2="753.91" stroke="#222" stroke-width="1.1"/>
<text transform="translate(1648.77 775.91) rotate(-45) scale(0.93 1)" font-size="21.5" text-anchor="end" fill="#000" stroke="#000" stroke-width="0.4">3<tspan dy="-7.1" font-size="14.19">rd</tspan><tspan dy="7.1"> dose</tspan></text>
<line x1="1246.45" y1="492.02" x2="1298.68" y2="492.02" stroke="#111" stroke-width="1.4"/>
<line x1="1309.3" y1="492.02" x2="1361.02" y2="492.02" stroke="#111" stroke-width="1.4"/>
<text transform="translate(1273.62 488.23)" font-size="28" text-anchor="middle" font-weight="bold" fill="#000" stroke="#000" stroke-width="1.2" letter-spacing="1.6" style="font-family:'DejaVu Sans','Liberation Sans',sans-serif">**</text>
<text transform="translate(1334.98 488.23)" font-size="28" text-anchor="middle" font-weight="bold" fill="#000" stroke="#000" stroke-width="1.2" letter-spacing="0" style="font-family:'DejaVu Sans','Liberation Sans',sans-serif">*</text>
<text transform="translate(1240 447)" font-size="22.4" text-anchor="start" textLength="181" lengthAdjust="spacingAndGlyphs" fill="#000" stroke="#000" stroke-width="0.4">SARS-CoV-2 naive</text>
<text transform="translate(1472.3 447)" font-size="22.4" text-anchor="start" textLength="172" lengthAdjust="spacingAndGlyphs" fill="#000" stroke="#000" stroke-width="0.4">prior SARS-CoV-2</text>
<text transform="translate(1134.8 453.5) scale(1.05 1)" font-size="34.5" text-anchor="start" fill="#000" stroke="#000" stroke-width="0.4">f</text>
<text transform="translate(1165.3 731.7) rotate(-90)" font-size="22.3" text-anchor="start" textLength="233.6" lengthAdjust="spacingAndGlyphs" fill="#000" stroke="#000" stroke-width="0.4">% of CD56<tspan dy="-8.03" dx="0.5" font-size="15.16">bright</tspan><tspan dy="8.03">  GranzB</tspan><tspan dy="-8.03" dx="3" font-size="16.73">+</tspan></text>
<polyline points="1260.83,999.94 1317.35,1031.28" fill="none" stroke="#111" stroke-width="1.15" stroke-linejoin="miter"/>
<polyline points="1260.83,1012.62 1317.35,1012.96 1373.86,1007.82 1430.54,1001.66" fill="none" stroke="#111" stroke-width="1.15" stroke-linejoin="miter"/>
<polyline points="1260.83,1017.07 1317.35,1063.82 1373.86,1090.02" fill="none" stroke="#111" stroke-width="1.15" stroke-linejoin="miter"/>
<polyline points="1260.83,1024.09 1317.35,1026.15 1373.86,1122.56" fill="none" stroke="#111" stroke-width="1.15" stroke-linejoin="miter"/>
<polyline points="1260.83,1038.31 1317.35,1006.11 1373.86,992.24 1430.54,994.98" fill="none" stroke="#111" stroke-width="1.15" stroke-linejoin="miter"/>
<polyline points="1260.83,1047.21 1317.35,1000.46 1373.86,992.24 1430.54,1001.66" fill="none" stroke="#111" stroke-width="1.15" stroke-linejoin="miter"/>
<polyline points="1260.83,1059.2 1317.35,1027.86 1373.86,1015.02" fill="none" stroke="#111" stroke-width="1.15" stroke-linejoin="miter"/>
<polyline points="1260.83,1062.11 1317.35,1031.28 1373.86,989.33" fill="none" stroke="#111" stroke-width="1.15" stroke-linejoin="miter"/>
<polyline points="1260.83,1064.34 1317.35,1060.91 1373.86,1034.71 1430.54,1026.66" fill="none" stroke="#111" stroke-width="1.15" stroke-linejoin="miter"/>
<polyline points="1260.83,1067.25 1317.35,1112.29 1373.86,1080.09" fill="none" stroke="#111" stroke-width="1.15" stroke-linejoin="miter"/>
<polyline points="1260.83,1083.52 1317.35,989.67 1373.86,989.33" fill="none" stroke="#111" stroke-width="1.15" stroke-linejoin="miter"/>
<polyline points="1260.83,1083.52 1317.35,992.41 1373.86,1132.32" fill="none" stroke="#111" stroke-width="1.15" stroke-linejoin="miter"/>
<polyline points="1260.83,1083.52 1317.35,1000.46 1373.86,1122.56" fill="none" stroke="#111" stroke-width="1.15" stroke-linejoin="miter"/>
<polyline points="1260.83,1083.52 1317.35,1043.27 1373.86,992.24" fill="none" stroke="#111" stroke-width="1.15" stroke-linejoin="miter"/>
<polyline points="1260.83,1088.65 1317.35,1050.98 1373.86,1041.9" fill="none" stroke="#111" stroke-width="1.15" stroke-linejoin="miter"/>
<polyline points="1260.83,1095.16 1317.35,1073.58 1373.86,1122.56" fill="none" stroke="#111" stroke-width="1.15" stroke-linejoin="miter"/>
<polyline points="1260.83,1109.72 1317.35,1060.91 1373.86,1007.82" fill="none" stroke="#111" stroke-width="1.15" stroke-linejoin="miter"/>
<polyline points="1260.83,1117.25 1317.35,1092.42 1373.86,1041.9" fill="none" stroke="#111" stroke-width="1.15" stroke-linejoin="miter"/>
<polyline points="1373.86,1122.56 1430.54,982.13" fill="none" stroke="#111" stroke-width="1.15" stroke-linejoin="miter"/>
<polyline points="1373.86,1132.32 1430.54,1026.66" fill="none" stroke="#111" stroke-width="1.15" stroke-linejoin="miter"/>
<polyline points="1317.35,1033.85 1373.86,1090.02" fill="none" stroke="#111" stroke-width="1.15" stroke-linejoin="miter"/>
<polyline points="1317.35,1043.27 1373.86,1080.09" fill="none" stroke="#111" stroke-width="1.15" stroke-linejoin="miter"/>
<polyline points="1317.35,1050.98 1373.86,1071.87" fill="none" stroke="#111" stroke-width="1.15" stroke-linejoin="miter"/>
<polyline points="1373.86,989.33 1430.54,1001.66" fill="none" stroke="#111" stroke-width="1.15" stroke-linejoin="miter"/>
<polyline points="1317.35,1006.11 1430.54,994.98" fill="none" stroke="#111" stroke-width="1.15" stroke-linejoin="miter"/>
<polyline points="1486.88,970.66 1543.39,1070.67" fill="none" stroke="#111" stroke-width="1.15" stroke-linejoin="miter"/>
<polyline points="1486.88,989.33 1543.39,991.38 1599.73,1009.88 1656.42,985.56" fill="none" stroke="#111" stroke-width="1.15" stroke-linejoin="miter"/>
<polyline points="1486.88,1076.67 1543.39,997.03 1599.73,1025.63 1656.42,1027.86" fill="none" stroke="#111" stroke-width="1.15" stroke-linejoin="miter"/>
<polyline points="1486.88,1035.22 1543.39,1027.35 1599.73,1042.42" fill="none" stroke="#111" stroke-width="1.15" stroke-linejoin="miter"/>
<polyline points="1486.88,1057.83 1543.39,1035.22 1599.73,1015.87" fill="none" stroke="#111" stroke-width="1.15" stroke-linejoin="miter"/>
<polyline points="1486.88,1069.82 1543.39,1050.46 1599.73,992.41 1656.42,964.67" fill="none" stroke="#111" stroke-width="1.15" stroke-linejoin="miter"/>
<polyline points="1486.88,1074.95 1543.39,1074.61 1599.73,1092.08 1656.42,1075.81" fill="none" stroke="#111" stroke-width="1.15" stroke-linejoin="miter"/>
<polyline points="1486.88,1076.67 1543.39,1079.24 1599.73,1086.09 1656.42,1083.52" fill="none" stroke="#111" stroke-width="1.15" stroke-linejoin="miter"/>
<polyline points="1486.88,1093.79 1543.39,1079.24 1599.73,1095.5 1656.42,1086.94" fill="none" stroke="#111" stroke-width="1.15" stroke-linejoin="miter"/>
<polyline points="1486.88,1094.65 1599.73,1086.09 1656.42,1086.94" fill="none" stroke="#111" stroke-width="1.15" stroke-linejoin="miter"/>
<polyline points="1543.39,1070.67 1656.42,1046.18" fill="none" stroke="#111" stroke-width="1.15" stroke-linejoin="miter"/>
<polyline points="1543.39,1070.67 1599.73,1095.5" fill="none" stroke="#111" stroke-width="1.15" stroke-linejoin="miter"/>
<circle cx="1260.83" cy="999.94" r="5.05" fill="#80CC28" stroke="#000" stroke-width="1.1"/>
<circle cx="1260.83" cy="1012.62" r="5.05" fill="#80CC28" stroke="#000" stroke-width="1.1"/>
<circle cx="1260.83" cy="1017.07" r="5.05" fill="#80CC28" stroke="#000" stroke-width="1.1"/>
<circle cx="1260.83" cy="1024.09" r="5.05" fill="#80CC28" stroke="#000" stroke-width="1.1"/>
<circle cx="1260.83" cy="1038.31" r="5.05" fill="#80CC28" stroke="#000" stroke-width="1.1"/>
<circle cx="1260.83" cy="1047.21" r="5.05" fill="#80CC28" stroke="#000" stroke-width="1.1"/>
<circle cx="1260.83" cy="1059.2" r="5.05" fill="#80CC28" stroke="#000" stroke-width="1.1"/>
<circle cx="1260.83" cy="1062.11" r="5.05" fill="#80CC28" stroke="#000" stroke-width="1.1"/>
<circle cx="1260.83" cy="1064.34" r="5.05" fill="#80CC28" stroke="#000" stroke-width="1.1"/>
<circle cx="1260.83" cy="1067.25" r="5.05" fill="#80CC28" stroke="#000" stroke-width="1.1"/>
<circle cx="1260.83" cy="1083.52" r="5.05" fill="#80CC28" stroke="#000" stroke-width="1.1"/>
<circle cx="1260.83" cy="1088.65" r="5.05" fill="#80CC28" stroke="#000" stroke-width="1.1"/>
<circle cx="1260.83" cy="1095.16" r="5.05" fill="#80CC28" stroke="#000" stroke-width="1.1"/>
<circle cx="1260.83" cy="1109.72" r="5.05" fill="#80CC28" stroke="#000" stroke-width="1.1"/>
<circle cx="1260.83" cy="1117.25" r="5.05" fill="#80CC28" stroke="#000" stroke-width="1.1"/>
<circle cx="1317.35" cy="989.67" r="5.05" fill="#80CC28" stroke="#000" stroke-width="1.1"/>
<circle cx="1317.35" cy="992.41" r="5.05" fill="#80CC28" stroke="#000" stroke-width="1.1"/>
<circle cx="1317.35" cy="1000.46" r="5.05" fill="#80CC28" stroke="#000" stroke-width="1.1"/>
<circle cx="1317.35" cy="1006.11" r="5.05" fill="#80CC28" stroke="#000" stroke-width="1.1"/>
<circle cx="1317.35" cy="1012.96" r="5.05" fill="#80CC28" stroke="#000" stroke-width="1.1"/>
<circle cx="1317.35" cy="1026.15" r="5.05" fill="#80CC28" stroke="#000" stroke-width="1.1"/>
<circle cx="1317.35" cy="1027.86" r="5.05" fill="#80CC28" stroke="#000" stroke-width="1.1"/>
<circle cx="1317.35" cy="1031.28" r="5.05" fill="#80CC28" stroke="#000" stroke-width="1.1"/>
<circle cx="1317.35" cy="1033.85" r="5.05" fill="#80CC28" stroke="#000" stroke-width="1.1"/>
<circle cx="1317.35" cy="1043.27" r="5.05" fill="#80CC28" stroke="#000" stroke-width="1.1"/>
<circle cx="1317.35" cy="1050.98" r="5.05" fill="#80CC28" stroke="#000" stroke-width="1.1"/>
<circle cx="1317.35" cy="1060.91" r="5.05" fill="#80CC28" stroke="#000" stroke-width="1.1"/>
<circle cx="1317.35" cy="1063.82" r="5.05" fill="#80CC28" stroke="#000" stroke-width="1.1"/>
<circle cx="1317.35" cy="1073.58" r="5.05" fill="#80CC28" stroke="#000" stroke-width="1.1"/>
<circle cx="1317.35" cy="1092.42" r="5.05" fill="#80CC28" stroke="#000" stroke-width="1.1"/>
<circle cx="1317.35" cy="1112.29" r="5.05" fill="#80CC28" stroke="#000" stroke-width="1.1"/>
<circle cx="1373.86" cy="989.33" r="5.05" fill="#80CC28" stroke="#000" stroke-width="1.1"/>
<circle cx="1373.86" cy="992.24" r="5.05" fill="#80CC28" stroke="#000" stroke-width="1.1"/>
<circle cx="1373.86" cy="1007.82" r="5.05" fill="#80CC28" stroke="#000" stroke-width="1.1"/>
<circle cx="1373.86" cy="1015.02" r="5.05" fill="#80CC28" stroke="#000" stroke-width="1.1"/>
<circle cx="1373.86" cy="1034.71" r="5.05" fill="#80CC28" stroke="#000" stroke-width="1.1"/>
<circle cx="1373.86" cy="1041.9" r="5.05" fill="#80CC28" stroke="#000" stroke-width="1.1"/>
<circle cx="1373.86" cy="1071.87" r="5.05" fill="#80CC28" stroke="#000" stroke-width="1.1"/>
<circle cx="1373.86" cy="1080.09" r="5.05" fill="#80CC28" stroke="#000" stroke-width="1.1"/>
<circle cx="1373.86" cy="1090.02" r="5.05" fill="#80CC28" stroke="#000" stroke-width="1.1"/>
<circle cx="1373.86" cy="1122.56" r="5.05" fill="#80CC28" stroke="#000" stroke-width="1.1"/>
<circle cx="1373.86" cy="1132.32" r="5.05" fill="#80CC28" stroke="#000" stroke-width="1.1"/>
<circle cx="1430.54" cy="982.13" r="5.05" fill="#80CC28" stroke="#000" stroke-width="1.1"/>
<circle cx="1430.54" cy="994.98" r="5.05" fill="#80CC28" stroke="#000" stroke-width="1.1"/>
<circle cx="1430.54" cy="1001.66" r="5.05" fill="#80CC28" stroke="#000" stroke-width="1.1"/>
<circle cx="1430.54" cy="1026.66" r="5.05" fill="#80CC28" stroke="#000" stroke-width="1.1"/>
<circle cx="1486.88" cy="970.66" r="5.05" fill="#8E1752" stroke="#000" stroke-width="1.1"/>
<circle cx="1486.88" cy="989.33" r="5.05" fill="#8E1752" stroke="#000" stroke-width="1.1"/>
<circle cx="1486.88" cy="1035.22" r="5.05" fill="#8E1752" stroke="#000" stroke-width="1.1"/>
<circle cx="1486.88" cy="1057.83" r="5.05" fill="#8E1752" stroke="#000" stroke-width="1.1"/>
<circle cx="1486.88" cy="1069.82" r="5.05" fill="#8E1752" stroke="#000" stroke-width="1.1"/>
<circle cx="1486.88" cy="1074.95" r="5.05" fill="#8E1752" stroke="#000" stroke-width="1.1"/>
<circle cx="1486.88" cy="1076.67" r="5.05" fill="#8E1752" stroke="#000" stroke-width="1.1"/>
<circle cx="1486.88" cy="1086.6" r="5.05" fill="#8E1752" stroke="#000" stroke-width="1.1"/>
<circle cx="1486.88" cy="1093.79" r="5.05" fill="#8E1752" stroke="#000" stroke-width="1.1"/>
<circle cx="1486.88" cy="1094.65" r="5.05" fill="#8E1752" stroke="#000" stroke-width="1.1"/>
<circle cx="1543.39" cy="991.38" r="5.05" fill="#8E1752" stroke="#000" stroke-width="1.1"/>
<circle cx="1543.39" cy="997.03" r="5.05" fill="#8E1752" stroke="#000" stroke-width="1.1"/>
<circle cx="1543.39" cy="1027.35" r="5.05" fill="#8E1752" stroke="#000" stroke-width="1.1"/>
<circle cx="1543.39" cy="1035.22" r="5.05" fill="#8E1752" stroke="#000" stroke-width="1.1"/>
<circle cx="1543.39" cy="1050.46" r="5.05" fill="#8E1752" stroke="#000" stroke-width="1.1"/>
<circle cx="1543.39" cy="1070.67" r="5.05" fill="#8E1752" stroke="#000" stroke-width="1.1"/>
<circle cx="1543.39" cy="1074.61" r="5.05" fill="#8E1752" stroke="#000" stroke-width="1.1"/>
<circle cx="1543.39" cy="1079.24" r="5.05" fill="#8E1752" stroke="#000" stroke-width="1.1"/>
<circle cx="1599.73" cy="992.41" r="5.05" fill="#8E1752" stroke="#000" stroke-width="1.1"/>
<circle cx="1599.73" cy="1009.88" r="5.05" fill="#8E1752" stroke="#000" stroke-width="1.1"/>
<circle cx="1599.73" cy="1015.87" r="5.05" fill="#8E1752" stroke="#000" stroke-width="1.1"/>
<circle cx="1599.73" cy="1025.63" r="5.05" fill="#8E1752" stroke="#000" stroke-width="1.1"/>
<circle cx="1599.73" cy="1042.42" r="5.05" fill="#8E1752" stroke="#000" stroke-width="1.1"/>
<circle cx="1599.73" cy="1086.09" r="5.05" fill="#8E1752" stroke="#000" stroke-width="1.1"/>
<circle cx="1599.73" cy="1092.08" r="5.05" fill="#8E1752" stroke="#000" stroke-width="1.1"/>
<circle cx="1599.73" cy="1095.5" r="5.05" fill="#8E1752" stroke="#000" stroke-width="1.1"/>
<circle cx="1656.42" cy="964.67" r="5.05" fill="#8E1752" stroke="#000" stroke-width="1.1"/>
<circle cx="1656.42" cy="985.56" r="5.05" fill="#8E1752" stroke="#000" stroke-width="1.1"/>
<circle cx="1656.42" cy="1027.86" r="5.05" fill="#8E1752" stroke="#000" stroke-width="1.1"/>
<circle cx="1656.42" cy="1046.18" r="5.05" fill="#8E1752" stroke="#000" stroke-width="1.1"/>
<circle cx="1656.42" cy="1075.81" r="5.05" fill="#8E1752" stroke="#000" stroke-width="1.1"/>
<circle cx="1656.42" cy="1083.52" r="5.05" fill="#8E1752" stroke="#000" stroke-width="1.1"/>
<circle cx="1656.42" cy="1086.94" r="5.05" fill="#8E1752" stroke="#000" stroke-width="1.1"/>
<line x1="1223.7" y1="909.65" x2="1223.7" y2="1166.81" stroke="#000" stroke-width="1.4"/>
<line x1="1223" y1="1166.06" x2="1695.3" y2="1166.06" stroke="#000" stroke-width="1.5"/>
<line x1="1212.7" y1="1166.06" x2="1223.7" y2="1166.06" stroke="#222" stroke-width="1.1"/>
<text transform="translate(1207.7 1173.44) scale(0.93 1)" font-size="20.5" text-anchor="end" fill="#000" stroke="#000" stroke-width="0.4">0</text>
<line x1="1212.7" y1="1114.89" x2="1223.7" y2="1114.89" stroke="#222" stroke-width="1.1"/>
<text transform="translate(1207.7 1122.27) scale(0.93 1)" font-size="20.5" text-anchor="end" fill="#000" stroke="#000" stroke-width="0.4">20</text>
<line x1="1212.7" y1="1063.72" x2="1223.7" y2="1063.72" stroke="#222" stroke-width="1.1"/>
<text transform="translate(1207.7 1071.1) scale(0.93 1)" font-size="20.5" text-anchor="end" fill="#000" stroke="#000" stroke-width="0.4">40</text>
<line x1="1212.7" y1="1012.55" x2="1223.7" y2="1012.55" stroke="#222" stroke-width="1.1"/>
<text transform="translate(1207.7 1019.93) scale(0.93 1)" font-size="20.5" text-anchor="end" fill="#000" stroke="#000" stroke-width="0.4">60</text>
<line x1="1212.7" y1="961.38" x2="1223.7" y2="961.38" stroke="#222" stroke-width="1.1"/>
<text transform="translate(1207.7 968.76) scale(0.93 1)" font-size="20.5" text-anchor="end" fill="#000" stroke="#000" stroke-width="0.4">80</text>
<line x1="1212.7" y1="910.21" x2="1223.7" y2="910.21" stroke="#222" stroke-width="1.1"/>
<text transform="translate(1207.7 917.59) scale(0.93 1)" font-size="20.5" text-anchor="end" fill="#000" stroke="#000" stroke-width="0.4">100</text>
<line x1="1260.83" y1="1166.06" x2="1260.83" y2="1177.06" stroke="#222" stroke-width="1.1"/>
<text transform="translate(1261.83 1199.06) rotate(-45) scale(0.93 1)" font-size="21.5" text-anchor="end" fill="#000" stroke="#000" stroke-width="0.4">Baseline</text>
<line x1="1317.35" y1="1166.06" x2="1317.35" y2="1177.06" stroke="#222" stroke-width="1.1"/>
<text transform="translate(1318.35 1199.06) rotate(-45) scale(0.93 1)" font-size="21.5" text-anchor="end" fill="#000" stroke="#000" stroke-width="0.4">1<tspan dy="-7.1" font-size="14.19">st</tspan><tspan dy="7.1"> dose</tspan></text>
<line x1="1373.86" y1="1166.06" x2="1373.86" y2="1177.06" stroke="#222" stroke-width="1.1"/>
<text transform="translate(1374.86 1199.06) rotate(-45) scale(0.93 1)" font-size="21.5" text-anchor="end" fill="#000" stroke="#000" stroke-width="0.4">2<tspan dy="-7.1" font-size="14.19">nd</tspan><tspan dy="7.1">  dose</tspan></text>
<line x1="1430.54" y1="1166.06" x2="1430.54" y2="1177.06" stroke="#222" stroke-width="1.1"/>
<text transform="translate(1431.54 1199.06) rotate(-45) scale(0.93 1)" font-size="21.5" text-anchor="end" fill="#000" stroke="#000" stroke-width="0.4">3<tspan dy="-7.1" font-size="14.19">rd</tspan><tspan dy="7.1"> dose</tspan></text>
<line x1="1486.88" y1="1166.06" x2="1486.88" y2="1177.06" stroke="#222" stroke-width="1.1"/>
<text transform="translate(1487.88 1199.06) rotate(-45) scale(0.93 1)" font-size="21.5" text-anchor="end" fill="#000" stroke="#000" stroke-width="0.4">Baseline</text>
<line x1="1543.39" y1="1166.06" x2="1543.39" y2="1177.06" stroke="#222" stroke-width="1.1"/>
<text transform="translate(1544.39 1199.06) rotate(-45) scale(0.93 1)" font-size="21.5" text-anchor="end" fill="#000" stroke="#000" stroke-width="0.4">1<tspan dy="-7.1" font-size="14.19">st</tspan><tspan dy="7.1"> dose</tspan></text>
<line x1="1599.73" y1="1166.06" x2="1599.73" y2="1177.06" stroke="#222" stroke-width="1.1"/>
<text transform="translate(1600.73 1199.06) rotate(-45) scale(0.93 1)" font-size="21.5" text-anchor="end" fill="#000" stroke="#000" stroke-width="0.4">2<tspan dy="-7.1" font-size="14.19">nd</tspan><tspan dy="7.1">  dose</tspan></text>
<line x1="1656.42" y1="1166.06" x2="1656.42" y2="1177.06" stroke="#222" stroke-width="1.1"/>
<text transform="translate(1657.42 1199.06) rotate(-45) scale(0.93 1)" font-size="21.5" text-anchor="end" fill="#000" stroke="#000" stroke-width="0.4">3<tspan dy="-7.1" font-size="14.19">rd</tspan><tspan dy="7.1"> dose</tspan></text>
<line x1="1255.35" y1="924.94" x2="1314.78" y2="924.94" stroke="#111" stroke-width="1.4"/>
<text transform="translate(1285.15 921.83)" font-size="28" text-anchor="middle" font-weight="bold" fill="#000" stroke="#000" stroke-width="1.2" letter-spacing="0" style="font-family:'DejaVu Sans','Liberation Sans',sans-serif">*</text>
<text transform="translate(1135 880.5) scale(1.05 1)" font-size="34.5" text-anchor="start" fill="#000" stroke="#000" stroke-width="0.4">h</text>
<text transform="translate(1162 1173.5) rotate(-90)" font-size="22.3" text-anchor="start" textLength="264" lengthAdjust="spacingAndGlyphs" fill="#000" stroke="#000" stroke-width="0.4">% of CD57<tspan dy="-8.03" dx="1" font-size="16.73">+</tspan><tspan dy="8.03">FcεRIγ</tspan><tspan dy="-8.03" font-size="16.73">-</tspan><tspan dy="8.03"> NK cells</tspan></text>
<line x1="125.22" y1="1505.76" x2="125.22" y2="1766.42" stroke="#000" stroke-width="1.7"/>
<line x1="124.37" y1="1765.57" x2="512.74" y2="1765.57" stroke="#000" stroke-width="1.7"/>
<line x1="115.22" y1="1765.57" x2="125.22" y2="1765.57" stroke="#000" stroke-width="1.7"/>
<text transform="translate(112.72 1772.95) scale(0.93 1)" font-size="20.5" text-anchor="end" fill="#000" stroke="#000" stroke-width="0.4">0.1</text>
<line x1="115.22" y1="1700.83" x2="125.22" y2="1700.83" stroke="#000" stroke-width="1.7"/>
<text transform="translate(112.72 1708.21) scale(0.93 1)" font-size="20.5" text-anchor="end" fill="#000" stroke="#000" stroke-width="0.4">1</text>
<line x1="115.22" y1="1636.09" x2="125.22" y2="1636.09" stroke="#000" stroke-width="1.7"/>
<text transform="translate(112.72 1643.47) scale(0.93 1)" font-size="20.5" text-anchor="end" fill="#000" stroke="#000" stroke-width="0.4">10</text>
<line x1="115.22" y1="1571.35" x2="125.22" y2="1571.35" stroke="#000" stroke-width="1.7"/>
<text transform="translate(112.72 1578.73) scale(0.93 1)" font-size="20.5" text-anchor="end" fill="#000" stroke="#000" stroke-width="0.4">100</text>
<line x1="115.22" y1="1506.61" x2="125.22" y2="1506.61" stroke="#000" stroke-width="1.7"/>
<text transform="translate(112.72 1513.99) scale(0.93 1)" font-size="20.5" text-anchor="end" fill="#000" stroke="#000" stroke-width="0.4">1000</text>
<line x1="125.22" y1="1765.57" x2="125.22" y2="1775.57" stroke="#000" stroke-width="1.7"/>
<text transform="translate(125.22 1795.83) scale(0.93 1)" font-size="20.5" text-anchor="middle" fill="#000" stroke="#000" stroke-width="0.4">0</text>
<line x1="202.56" y1="1765.57" x2="202.56" y2="1775.57" stroke="#000" stroke-width="1.7"/>
<text transform="translate(202.56 1795.83) scale(0.93 1)" font-size="20.5" text-anchor="middle" fill="#000" stroke="#000" stroke-width="0.4">20</text>
<line x1="279.89" y1="1765.57" x2="279.89" y2="1775.57" stroke="#000" stroke-width="1.7"/>
<text transform="translate(279.89 1795.83) scale(0.93 1)" font-size="20.5" text-anchor="middle" fill="#000" stroke="#000" stroke-width="0.4">40</text>
<line x1="357.22" y1="1765.57" x2="357.22" y2="1775.57" stroke="#000" stroke-width="1.7"/>
<text transform="translate(357.22 1795.83) scale(0.93 1)" font-size="20.5" text-anchor="middle" fill="#000" stroke="#000" stroke-width="0.4">60</text>
<line x1="434.56" y1="1765.57" x2="434.56" y2="1775.57" stroke="#000" stroke-width="1.7"/>
<text transform="translate(434.56 1795.83) scale(0.93 1)" font-size="20.5" text-anchor="middle" fill="#000" stroke="#000" stroke-width="0.4">80</text>
<line x1="511.89" y1="1765.57" x2="511.89" y2="1775.57" stroke="#000" stroke-width="1.7"/>
<text transform="translate(511.89 1795.83) scale(0.93 1)" font-size="20.5" text-anchor="middle" fill="#000" stroke="#000" stroke-width="0.4">100</text>
<circle cx="174.89" cy="1612.68" r="5.15" fill="#80CC28" stroke="#000" stroke-width="1.4"/>
<circle cx="196.88" cy="1611.97" r="5.15" fill="#80CC28" stroke="#000" stroke-width="1.4"/>
<circle cx="236.97" cy="1616.58" r="5.15" fill="#80CC28" stroke="#000" stroke-width="1.4"/>
<circle cx="156.8" cy="1655.96" r="5.15" fill="#80CC28" stroke="#000" stroke-width="1.4"/>
<circle cx="203.62" cy="1666.24" r="5.15" fill="#80CC28" stroke="#000" stroke-width="1.4"/>
<circle cx="219.58" cy="1690.01" r="5.15" fill="#80CC28" stroke="#000" stroke-width="1.4"/>
<circle cx="156.09" cy="1714.49" r="5.15" fill="#80CC28" stroke="#000" stroke-width="1.4"/>
<circle cx="170.28" cy="1724.07" r="5.15" fill="#80CC28" stroke="#000" stroke-width="1.4"/>
<circle cx="181.27" cy="1725.84" r="5.15" fill="#80CC28" stroke="#000" stroke-width="1.4"/>
<circle cx="189.08" cy="1723" r="5.15" fill="#80CC28" stroke="#000" stroke-width="1.4"/>
<circle cx="213.2" cy="1721.58" r="5.15" fill="#80CC28" stroke="#000" stroke-width="1.4"/>
<circle cx="242.64" cy="1716.62" r="5.15" fill="#80CC28" stroke="#000" stroke-width="1.4"/>
<circle cx="324.94" cy="1592.46" r="5.15" fill="#80CC28" stroke="#000" stroke-width="1.4"/>
<circle cx="325.65" cy="1604.52" r="5.15" fill="#80CC28" stroke="#000" stroke-width="1.4"/>
<circle cx="347.29" cy="1585.01" r="5.15" fill="#80CC28" stroke="#000" stroke-width="1.4"/>
<circle cx="376.73" cy="1579.69" r="5.15" fill="#80CC28" stroke="#000" stroke-width="1.4"/>
<circle cx="394.47" cy="1579.69" r="5.15" fill="#80CC28" stroke="#000" stroke-width="1.4"/>
<circle cx="408.31" cy="1584.3" r="5.15" fill="#80CC28" stroke="#000" stroke-width="1.4"/>
<circle cx="306.5" cy="1652.41" r="5.15" fill="#80CC28" stroke="#000" stroke-width="1.4"/>
<circle cx="344.45" cy="1669.44" r="5.15" fill="#80CC28" stroke="#000" stroke-width="1.4"/>
<circle cx="372.12" cy="1645.67" r="5.15" fill="#80CC28" stroke="#000" stroke-width="1.4"/>
<circle cx="159.28" cy="1584.65" r="5.15" fill="#8E1752" stroke="#000" stroke-width="1.4"/>
<circle cx="182.34" cy="1573.3" r="5.15" fill="#8E1752" stroke="#000" stroke-width="1.4"/>
<circle cx="195.11" cy="1550.6" r="5.15" fill="#8E1752" stroke="#000" stroke-width="1.4"/>
<circle cx="209.3" cy="1535.35" r="5.15" fill="#8E1752" stroke="#000" stroke-width="1.4"/>
<circle cx="214.26" cy="1571.53" r="5.15" fill="#8E1752" stroke="#000" stroke-width="1.4"/>
<circle cx="229.87" cy="1559.82" r="5.15" fill="#8E1752" stroke="#000" stroke-width="1.4"/>
<circle cx="236.61" cy="1552.73" r="5.15" fill="#8E1752" stroke="#000" stroke-width="1.4"/>
<circle cx="246.9" cy="1592.81" r="5.15" fill="#8E1752" stroke="#000" stroke-width="1.4"/>
<circle cx="305.43" cy="1602.39" r="5.15" fill="#8E1752" stroke="#000" stroke-width="1.4"/>
<circle cx="321.04" cy="1568.69" r="5.15" fill="#8E1752" stroke="#000" stroke-width="1.4"/>
<circle cx="421.43" cy="1576.14" r="5.15" fill="#8E1752" stroke="#000" stroke-width="1.4"/>
<circle cx="124.87" cy="1359.04" r="5.15" fill="#80CC28" stroke="#000" stroke-width="1.4"/>
<circle cx="369.28" cy="1356.91" r="5.15" fill="#8E1752" stroke="#000" stroke-width="1.4"/>
<text transform="translate(154.67 1365.78) scale(0.93 1)" font-size="22.3" text-anchor="start" fill="#000" stroke="#000" stroke-width="0.4">SARS-CoV-2</text>
<text transform="translate(160.34 1392.39) scale(0.93 1)" font-size="22.3" text-anchor="start" fill="#000" stroke="#000" stroke-width="0.4">naive</text>
<text transform="translate(154.67 1433.89) scale(0.93 1)" font-size="22.3" text-anchor="start" fill="#000" stroke="#000" stroke-width="0.4">r=0.6818</text>
<text transform="translate(154.67 1467.94) scale(0.93 1)" font-size="22.3" text-anchor="start" fill="#000" stroke="#000" stroke-width="0.4">p=0.0006</text>
<text transform="translate(399.44 1365.07) scale(0.93 1)" font-size="22.3" text-anchor="start" fill="#000" stroke="#000" stroke-width="0.4">prior</text>
<text transform="translate(399.44 1390.61) scale(0.93 1)" font-size="22.3" text-anchor="start" fill="#000" stroke="#000" stroke-width="0.4">SARS-CoV-2</text>
<text transform="translate(399.44 1433.89) scale(0.93 1)" font-size="22.3" text-anchor="start" fill="#000" stroke="#000" stroke-width="0.4">r=-0.2636</text>
<text transform="translate(400.15 1467.94) scale(0.93 1)" font-size="22.3" text-anchor="start" fill="#000" stroke="#000" stroke-width="0.4">p=0.4348</text>
<text transform="translate(265.1 1316.12)" font-size="22.3" text-anchor="start" textLength="83.5" lengthAdjust="spacingAndGlyphs" fill="#000" stroke="#000" stroke-width="0.4">2<tspan dy="-6.91" font-size="12.93">nd</tspan><tspan dy="6.91"> dose</tspan></text>
<text transform="translate(185.2 1831.55)" font-size="22.6" text-anchor="start" textLength="265.3" lengthAdjust="spacingAndGlyphs" fill="#000" stroke="#000" stroke-width="0.4">% of CD57<tspan dy="-8.14" dx="1.5" font-size="16.95">+</tspan><tspan dy="8.14">FcεRIγ</tspan><tspan dy="-8.14" dx="0.5" font-size="16.95">-</tspan><tspan dy="8.14"> CD56</tspan><tspan dy="-8.14" dx="0.5" font-size="15.37">dim</tspan></text>
<text transform="translate(62.43 1722.29) rotate(-90)" font-size="22.3" text-anchor="start" textLength="161.4" lengthAdjust="spacingAndGlyphs" fill="#000" stroke="#000" stroke-width="0.4">S1 IgG titer ug/ml</text>
<text transform="translate(14 1322) scale(1.05 1)" font-size="34" text-anchor="start" fill="#000" stroke="#000" stroke-width="0.4">i</text>
<line x1="712.54" y1="1491.22" x2="712.54" y2="1752.59" stroke="#000" stroke-width="1.7"/>
<line x1="711.69" y1="1751.74" x2="1103.6" y2="1751.74" stroke="#000" stroke-width="1.7"/>
<line x1="702.54" y1="1751.74" x2="712.54" y2="1751.74" stroke="#000" stroke-width="1.7"/>
<text transform="translate(700.04 1759.12) scale(0.93 1)" font-size="20.5" text-anchor="end" fill="#000" stroke="#000" stroke-width="0.4">10</text>
<line x1="702.54" y1="1686.82" x2="712.54" y2="1686.82" stroke="#000" stroke-width="1.7"/>
<text transform="translate(700.04 1694.2) scale(0.93 1)" font-size="20.5" text-anchor="end" fill="#000" stroke="#000" stroke-width="0.4">100</text>
<line x1="702.54" y1="1621.9" x2="712.54" y2="1621.9" stroke="#000" stroke-width="1.7"/>
<text transform="translate(700.04 1629.28) scale(0.93 1)" font-size="20.5" text-anchor="end" fill="#000" stroke="#000" stroke-width="0.4">1000</text>
<line x1="702.54" y1="1556.98" x2="712.54" y2="1556.98" stroke="#000" stroke-width="1.7"/>
<text transform="translate(700.04 1564.36) scale(0.93 1)" font-size="20.5" text-anchor="end" fill="#000" stroke="#000" stroke-width="0.4">10000</text>
<line x1="702.54" y1="1492.07" x2="712.54" y2="1492.07" stroke="#000" stroke-width="1.7"/>
<text transform="translate(700.04 1499.45) scale(0.93 1)" font-size="20.5" text-anchor="end" fill="#000" stroke="#000" stroke-width="0.4">100000</text>
<line x1="712.54" y1="1751.74" x2="712.54" y2="1761.74" stroke="#000" stroke-width="1.7"/>
<text transform="translate(712.54 1782) scale(0.93 1)" font-size="20.5" text-anchor="middle" fill="#000" stroke="#000" stroke-width="0.4">0</text>
<line x1="790.58" y1="1751.74" x2="790.58" y2="1761.74" stroke="#000" stroke-width="1.7"/>
<text transform="translate(790.58 1782) scale(0.93 1)" font-size="20.5" text-anchor="middle" fill="#000" stroke="#000" stroke-width="0.4">20</text>
<line x1="868.62" y1="1751.74" x2="868.62" y2="1761.74" stroke="#000" stroke-width="1.7"/>
<text transform="translate(868.62 1782) scale(0.93 1)" font-size="20.5" text-anchor="middle" fill="#000" stroke="#000" stroke-width="0.4">40</text>
<line x1="946.67" y1="1751.74" x2="946.67" y2="1761.74" stroke="#000" stroke-width="1.7"/>
<text transform="translate(946.67 1782) scale(0.93 1)" font-size="20.5" text-anchor="middle" fill="#000" stroke="#000" stroke-width="0.4">60</text>
<line x1="1024.71" y1="1751.74" x2="1024.71" y2="1761.74" stroke="#000" stroke-width="1.7"/>
<text transform="translate(1024.71 1782) scale(0.93 1)" font-size="20.5" text-anchor="middle" fill="#000" stroke="#000" stroke-width="0.4">80</text>
<line x1="1102.75" y1="1751.74" x2="1102.75" y2="1761.74" stroke="#000" stroke-width="1.7"/>
<text transform="translate(1102.75 1782) scale(0.93 1)" font-size="20.5" text-anchor="middle" fill="#000" stroke="#000" stroke-width="0.4">100</text>
<circle cx="744.11" cy="1732.23" r="5.15" fill="#80CC28" stroke="#000" stroke-width="1.4"/>
<circle cx="757.94" cy="1732.23" r="5.15" fill="#80CC28" stroke="#000" stroke-width="1.4"/>
<circle cx="769.3" cy="1732.23" r="5.15" fill="#80CC28" stroke="#000" stroke-width="1.4"/>
<circle cx="777.1" cy="1732.23" r="5.15" fill="#80CC28" stroke="#000" stroke-width="1.4"/>
<circle cx="792" cy="1732.23" r="5.15" fill="#80CC28" stroke="#000" stroke-width="1.4"/>
<circle cx="801.22" cy="1732.23" r="5.15" fill="#80CC28" stroke="#000" stroke-width="1.4"/>
<circle cx="807.61" cy="1732.23" r="5.15" fill="#80CC28" stroke="#000" stroke-width="1.4"/>
<circle cx="831.38" cy="1732.23" r="5.15" fill="#80CC28" stroke="#000" stroke-width="1.4"/>
<circle cx="933.54" cy="1732.23" r="5.15" fill="#80CC28" stroke="#000" stroke-width="1.4"/>
<circle cx="762.91" cy="1710.94" r="5.15" fill="#80CC28" stroke="#000" stroke-width="1.4"/>
<circle cx="784.91" cy="1680.08" r="5.15" fill="#80CC28" stroke="#000" stroke-width="1.4"/>
<circle cx="824.99" cy="1672.28" r="5.15" fill="#80CC28" stroke="#000" stroke-width="1.4"/>
<circle cx="882.1" cy="1574.72" r="5.15" fill="#80CC28" stroke="#000" stroke-width="1.4"/>
<circle cx="895.58" cy="1676.53" r="5.15" fill="#80CC28" stroke="#000" stroke-width="1.4"/>
<circle cx="913.68" cy="1665.54" r="5.15" fill="#80CC28" stroke="#000" stroke-width="1.4"/>
<circle cx="914.74" cy="1641.77" r="5.15" fill="#80CC28" stroke="#000" stroke-width="1.4"/>
<circle cx="936.73" cy="1680.79" r="5.15" fill="#80CC28" stroke="#000" stroke-width="1.4"/>
<circle cx="961.57" cy="1685.4" r="5.15" fill="#80CC28" stroke="#000" stroke-width="1.4"/>
<circle cx="966.18" cy="1642.48" r="5.15" fill="#80CC28" stroke="#000" stroke-width="1.4"/>
<circle cx="984.27" cy="1601.68" r="5.15" fill="#80CC28" stroke="#000" stroke-width="1.4"/>
<circle cx="998.1" cy="1658.09" r="5.15" fill="#80CC28" stroke="#000" stroke-width="1.4"/>
<circle cx="746.95" cy="1608.78" r="5.15" fill="#8E1752" stroke="#000" stroke-width="1.4"/>
<circle cx="770.36" cy="1621.19" r="5.15" fill="#8E1752" stroke="#000" stroke-width="1.4"/>
<circle cx="783.13" cy="1611.61" r="5.15" fill="#8E1752" stroke="#000" stroke-width="1.4"/>
<circle cx="797.68" cy="1591.75" r="5.15" fill="#8E1752" stroke="#000" stroke-width="1.4"/>
<circle cx="802.64" cy="1614.1" r="5.15" fill="#8E1752" stroke="#000" stroke-width="1.4"/>
<circle cx="818.25" cy="1603.81" r="5.15" fill="#8E1752" stroke="#000" stroke-width="1.4"/>
<circle cx="824.64" cy="1571.88" r="5.15" fill="#8E1752" stroke="#000" stroke-width="1.4"/>
<circle cx="828.89" cy="1545.99" r="5.15" fill="#8E1752" stroke="#000" stroke-width="1.4"/>
<circle cx="834.92" cy="1625.45" r="5.15" fill="#8E1752" stroke="#000" stroke-width="1.4"/>
<circle cx="894.52" cy="1583.24" r="5.15" fill="#8E1752" stroke="#000" stroke-width="1.4"/>
<circle cx="910.13" cy="1648.51" r="5.15" fill="#8E1752" stroke="#000" stroke-width="1.4"/>
<circle cx="1011.23" cy="1615.16" r="5.15" fill="#8E1752" stroke="#000" stroke-width="1.4"/>
<circle cx="712.54" cy="1342.72" r="5.15" fill="#80CC28" stroke="#000" stroke-width="1.4"/>
<circle cx="958.73" cy="1340.24" r="5.15" fill="#8E1752" stroke="#000" stroke-width="1.4"/>
<text transform="translate(742.34 1349.46) scale(0.93 1)" font-size="22.3" text-anchor="start" fill="#000" stroke="#000" stroke-width="0.4">SARS-CoV-2</text>
<text transform="translate(748.01 1375.71) scale(0.93 1)" font-size="22.3" text-anchor="start" fill="#000" stroke="#000" stroke-width="0.4">naive</text>
<text transform="translate(742.34 1417.22) scale(0.93 1)" font-size="22.3" text-anchor="start" fill="#000" stroke="#000" stroke-width="0.4">r=0.6641</text>
<text transform="translate(742.34 1451.63) scale(0.93 1)" font-size="22.3" text-anchor="start" fill="#000" stroke="#000" stroke-width="0.4">p=0.0007</text>
<text transform="translate(989.24 1348.04) scale(0.93 1)" font-size="22.3" text-anchor="start" fill="#000" stroke="#000" stroke-width="0.4">prior</text>
<text transform="translate(989.24 1373.58) scale(0.93 1)" font-size="22.3" text-anchor="start" fill="#000" stroke="#000" stroke-width="0.4">SARS-CoV-2</text>
<text transform="translate(989.24 1417.22) scale(0.93 1)" font-size="22.3" text-anchor="start" fill="#000" stroke="#000" stroke-width="0.4">r=-0.1189</text>
<text transform="translate(989.94 1451.63) scale(0.93 1)" font-size="22.3" text-anchor="start" fill="#000" stroke="#000" stroke-width="0.4">p=0.7160</text>
<text transform="translate(868.38 1316.12)" font-size="22.3" text-anchor="start" textLength="83.5" lengthAdjust="spacingAndGlyphs" fill="#000" stroke="#000" stroke-width="0.4">2<tspan dy="-6.91" font-size="12.93">nd</tspan><tspan dy="6.91"> dose</tspan></text>
<text transform="translate(773.58 1818.07)" font-size="22.6" text-anchor="start" textLength="265.3" lengthAdjust="spacingAndGlyphs" fill="#000" stroke="#000" stroke-width="0.4">% of CD57<tspan dy="-8.14" dx="1.5" font-size="16.95">+</tspan><tspan dy="8.14">FcεRIγ</tspan><tspan dy="-8.14" dx="0.5" font-size="16.95">-</tspan><tspan dy="8.14"> CD56</tspan><tspan dy="-8.14" dx="0.5" font-size="15.37">dim</tspan></text>
<text transform="translate(613.92 1733.81) rotate(-90)" font-size="22.3" text-anchor="start" textLength="207.5" lengthAdjust="spacingAndGlyphs" fill="#000" stroke="#000" stroke-width="0.4">ID<tspan dy="6.02" font-size="16.06">50</tspan><tspan dy="-6.02"> neutralization titer</tspan></text>
<text transform="translate(589.5 1322) scale(1.05 1)" font-size="34" text-anchor="start" fill="#000" stroke="#000" stroke-width="0.4">j</text>
<line x1="1278.02" y1="1477.74" x2="1278.02" y2="1745.49" stroke="#000" stroke-width="1.7"/>
<line x1="1277.17" y1="1744.64" x2="1677.6" y2="1744.64" stroke="#000" stroke-width="1.7"/>
<line x1="1268.02" y1="1744.64" x2="1278.02" y2="1744.64" stroke="#000" stroke-width="1.7"/>
<text transform="translate(1263.02 1752.02) scale(0.93 1)" font-size="20.5" text-anchor="end" fill="#000" stroke="#000" stroke-width="0.4">0</text>
<line x1="1268.02" y1="1678.13" x2="1278.02" y2="1678.13" stroke="#000" stroke-width="1.7"/>
<text transform="translate(1263.02 1685.51) scale(0.93 1)" font-size="20.5" text-anchor="end" fill="#000" stroke="#000" stroke-width="0.4">20</text>
<line x1="1268.02" y1="1611.61" x2="1278.02" y2="1611.61" stroke="#000" stroke-width="1.7"/>
<text transform="translate(1263.02 1618.99) scale(0.93 1)" font-size="20.5" text-anchor="end" fill="#000" stroke="#000" stroke-width="0.4">40</text>
<line x1="1268.02" y1="1545.1" x2="1278.02" y2="1545.1" stroke="#000" stroke-width="1.7"/>
<text transform="translate(1263.02 1552.48) scale(0.93 1)" font-size="20.5" text-anchor="end" fill="#000" stroke="#000" stroke-width="0.4">60</text>
<line x1="1268.02" y1="1478.59" x2="1278.02" y2="1478.59" stroke="#000" stroke-width="1.7"/>
<text transform="translate(1263.02 1485.97) scale(0.93 1)" font-size="20.5" text-anchor="end" fill="#000" stroke="#000" stroke-width="0.4">80</text>
<line x1="1278.02" y1="1744.64" x2="1278.02" y2="1754.64" stroke="#000" stroke-width="1.7"/>
<text transform="translate(1278.02 1778.9) scale(0.93 1)" font-size="20.5" text-anchor="middle" fill="#000" stroke="#000" stroke-width="0.4">0</text>
<line x1="1357.77" y1="1744.64" x2="1357.77" y2="1754.64" stroke="#000" stroke-width="1.7"/>
<text transform="translate(1357.77 1778.9) scale(0.93 1)" font-size="20.5" text-anchor="middle" fill="#000" stroke="#000" stroke-width="0.4">20</text>
<line x1="1437.51" y1="1744.64" x2="1437.51" y2="1754.64" stroke="#000" stroke-width="1.7"/>
<text transform="translate(1437.51 1778.9) scale(0.93 1)" font-size="20.5" text-anchor="middle" fill="#000" stroke="#000" stroke-width="0.4">40</text>
<line x1="1517.26" y1="1744.64" x2="1517.26" y2="1754.64" stroke="#000" stroke-width="1.7"/>
<text transform="translate(1517.26 1778.9) scale(0.93 1)" font-size="20.5" text-anchor="middle" fill="#000" stroke="#000" stroke-width="0.4">60</text>
<line x1="1597" y1="1744.64" x2="1597" y2="1754.64" stroke="#000" stroke-width="1.7"/>
<text transform="translate(1597 1778.9) scale(0.93 1)" font-size="20.5" text-anchor="middle" fill="#000" stroke="#000" stroke-width="0.4">80</text>
<line x1="1676.75" y1="1744.64" x2="1676.75" y2="1754.64" stroke="#000" stroke-width="1.7"/>
<text transform="translate(1676.75 1778.9) scale(0.93 1)" font-size="20.5" text-anchor="middle" fill="#000" stroke="#000" stroke-width="0.4">100</text>
<circle cx="1322.36" cy="1675.47" r="5.15" fill="#80CC28" stroke="#000" stroke-width="1.4"/>
<circle cx="1338.33" cy="1650.28" r="5.15" fill="#80CC28" stroke="#000" stroke-width="1.4"/>
<circle cx="1331.94" cy="1712.36" r="5.15" fill="#80CC28" stroke="#000" stroke-width="1.4"/>
<circle cx="1357.13" cy="1715.55" r="5.15" fill="#80CC28" stroke="#000" stroke-width="1.4"/>
<circle cx="1403.6" cy="1684.34" r="5.15" fill="#80CC28" stroke="#000" stroke-width="1.4"/>
<circle cx="1424.53" cy="1698.17" r="5.15" fill="#80CC28" stroke="#000" stroke-width="1.4"/>
<circle cx="1425.59" cy="1661.63" r="5.15" fill="#80CC28" stroke="#000" stroke-width="1.4"/>
<circle cx="1433.4" cy="1626.51" r="5.15" fill="#80CC28" stroke="#000" stroke-width="1.4"/>
<circle cx="1450.07" cy="1666.24" r="5.15" fill="#80CC28" stroke="#000" stroke-width="1.4"/>
<circle cx="1461.42" cy="1653.83" r="5.15" fill="#80CC28" stroke="#000" stroke-width="1.4"/>
<circle cx="1471.35" cy="1626.51" r="5.15" fill="#80CC28" stroke="#000" stroke-width="1.4"/>
<circle cx="1495.12" cy="1665.18" r="5.15" fill="#80CC28" stroke="#000" stroke-width="1.4"/>
<circle cx="1513.57" cy="1656.67" r="5.15" fill="#80CC28" stroke="#000" stroke-width="1.4"/>
<circle cx="1524.21" cy="1656.67" r="5.15" fill="#80CC28" stroke="#000" stroke-width="1.4"/>
<circle cx="1516.76" cy="1607.71" r="5.15" fill="#80CC28" stroke="#000" stroke-width="1.4"/>
<circle cx="1529.89" cy="1546.7" r="5.15" fill="#80CC28" stroke="#000" stroke-width="1.4"/>
<circle cx="1550.82" cy="1594.94" r="5.15" fill="#80CC28" stroke="#000" stroke-width="1.4"/>
<circle cx="1551.53" cy="1684.34" r="5.15" fill="#80CC28" stroke="#000" stroke-width="1.4"/>
<circle cx="1562.88" cy="1616.94" r="5.15" fill="#80CC28" stroke="#000" stroke-width="1.4"/>
<circle cx="1573.87" cy="1642.83" r="5.15" fill="#80CC28" stroke="#000" stroke-width="1.4"/>
<circle cx="1596.58" cy="1641.06" r="5.15" fill="#80CC28" stroke="#000" stroke-width="1.4"/>
<circle cx="1618.57" cy="1690.72" r="5.15" fill="#80CC28" stroke="#000" stroke-width="1.4"/>
<text transform="translate(1521.02 1450.92) scale(0.93 1)" font-size="22.3" text-anchor="start" fill="#000" stroke="#000" stroke-width="0.4">r=0.4527</text>
<text transform="translate(1523.15 1487.1) scale(0.93 1)" font-size="22.3" text-anchor="start" fill="#000" stroke="#000" stroke-width="0.4">p=0.0343</text>
<text transform="translate(1316.33 1361.52)" font-size="22.3" text-anchor="start" textLength="250.8" lengthAdjust="spacingAndGlyphs" fill="#000" stroke="#000" stroke-width="0.4">PLWH SARS-CoV-2 naive</text>
<text transform="translate(1423.57 1316.12)" font-size="22.3" text-anchor="start" textLength="83.5" lengthAdjust="spacingAndGlyphs" fill="#000" stroke="#000" stroke-width="0.4">2<tspan dy="-6.91" font-size="12.93">nd</tspan><tspan dy="6.91"> dose</tspan></text>
<text transform="translate(1340.32 1811.69)" font-size="22.6" text-anchor="start" textLength="272" lengthAdjust="spacingAndGlyphs" fill="#000" stroke="#000" stroke-width="0.4">% of CD57<tspan dy="-8.14" dx="1.5" font-size="16.95">+</tspan><tspan dy="8.14">FcεRIγ</tspan><tspan dy="-8.14" dx="0.5" font-size="16.95">-</tspan><tspan dy="8.14"> CD56</tspan><tspan dy="-8.14" dx="0.5" font-size="15.37">dim</tspan></text>
<text transform="translate(1222.33 1755.81) rotate(-90)" font-size="22.3" text-anchor="start" textLength="296.2" lengthAdjust="spacingAndGlyphs" fill="#000" stroke="#000" stroke-width="0.4">% of CXCR5<tspan dy="-8.03" dx="1" font-size="16.73">+</tspan><tspan dy="8.03">CXCR3</tspan><tspan dy="-8.03" dx="1" font-size="16.73">+</tspan><tspan dy="8.03">CD4 T</tspan><tspan dy="6.02" font-size="16.06">FH</tspan></text>
<text transform="translate(1198 1322) scale(1.05 1)" font-size="34" text-anchor="start" fill="#000" stroke="#000" stroke-width="0.4">k</text>
<rect x="167.06" y="2122.53" width="46.31" height="124.07" fill="#fff" stroke="#000" stroke-width="1.8"/>
<rect x="244.37" y="2072.38" width="46.55" height="174.22" fill="#fff" stroke="#000" stroke-width="1.8"/>
<line x1="190.09" y1="2109.11" x2="190.09" y2="2130.4" stroke="#555" stroke-width="1.2"/>
<line x1="177.86" y1="2109.11" x2="203.06" y2="2109.11" stroke="#555" stroke-width="1.2"/>
<line x1="177.86" y1="2130.4" x2="203.06" y2="2130.4" stroke="#555" stroke-width="1.2"/>
<line x1="267.4" y1="2057" x2="267.4" y2="2082.94" stroke="#555" stroke-width="1.2"/>
<line x1="254.43" y1="2057" x2="280.86" y2="2057" stroke="#555" stroke-width="1.2"/>
<line x1="254.43" y1="2082.94" x2="280.86" y2="2082.94" stroke="#555" stroke-width="1.2"/>
<line x1="138.72" y1="1973.95" x2="138.72" y2="2247.46" stroke="#000" stroke-width="1.7"/>
<line x1="128.44" y1="2246.61" x2="318.78" y2="2246.61" stroke="#000" stroke-width="1.7"/>
<line x1="128.22" y1="2246.61" x2="138.72" y2="2246.61" stroke="#000" stroke-width="1.7"/>
<text transform="translate(122.22 2254.27) scale(0.93 1)" font-size="21.3" text-anchor="end" fill="#000" stroke="#000" stroke-width="0.4">0</text>
<line x1="128.22" y1="2192.24" x2="138.72" y2="2192.24" stroke="#000" stroke-width="1.7"/>
<text transform="translate(122.22 2199.91) scale(0.93 1)" font-size="21.3" text-anchor="end" fill="#000" stroke="#000" stroke-width="0.4">20</text>
<line x1="128.22" y1="2137.88" x2="138.72" y2="2137.88" stroke="#000" stroke-width="1.7"/>
<text transform="translate(122.22 2145.55) scale(0.93 1)" font-size="21.3" text-anchor="end" fill="#000" stroke="#000" stroke-width="0.4">40</text>
<line x1="128.22" y1="2083.52" x2="138.72" y2="2083.52" stroke="#000" stroke-width="1.7"/>
<text transform="translate(122.22 2091.19) scale(0.93 1)" font-size="21.3" text-anchor="end" fill="#000" stroke="#000" stroke-width="0.4">60</text>
<line x1="128.22" y1="2029.16" x2="138.72" y2="2029.16" stroke="#000" stroke-width="1.7"/>
<text transform="translate(122.22 2036.83) scale(0.93 1)" font-size="21.3" text-anchor="end" fill="#000" stroke="#000" stroke-width="0.4">80</text>
<line x1="128.22" y1="1974.8" x2="138.72" y2="1974.8" stroke="#000" stroke-width="1.7"/>
<text transform="translate(122.22 1982.47) scale(0.93 1)" font-size="21.3" text-anchor="end" fill="#000" stroke="#000" stroke-width="0.4">100</text>
<line x1="189.85" y1="2246.61" x2="189.85" y2="2257.11" stroke="#000" stroke-width="1.7"/>
<line x1="267.4" y1="2246.61" x2="267.4" y2="2257.11" stroke="#000" stroke-width="1.7"/>
<circle cx="179.08" cy="2075.35" r="5.3" fill="#80CC28" stroke="#000" stroke-width="1.3"/>
<circle cx="201.1" cy="2083.91" r="5.3" fill="#80CC28" stroke="#000" stroke-width="1.3"/>
<circle cx="201.1" cy="2104.95" r="5.3" fill="#80CC28" stroke="#000" stroke-width="1.3"/>
<circle cx="179.08" cy="2114.74" r="5.3" fill="#80CC28" stroke="#000" stroke-width="1.3"/>
<circle cx="201.1" cy="2135.29" r="5.3" fill="#80CC28" stroke="#000" stroke-width="1.3"/>
<circle cx="179.08" cy="2140.92" r="5.3" fill="#80CC28" stroke="#000" stroke-width="1.3"/>
<circle cx="201.1" cy="2147.03" r="5.3" fill="#80CC28" stroke="#000" stroke-width="1.3"/>
<circle cx="179.08" cy="2157.55" r="5.3" fill="#80CC28" stroke="#000" stroke-width="1.3"/>
<circle cx="267.65" cy="2029.6" r="5.3" fill="#80CC28" stroke="#000" stroke-width="1.3"/>
<circle cx="267.65" cy="2052.6" r="5.3" fill="#80CC28" stroke="#000" stroke-width="1.3"/>
<circle cx="256.39" cy="2078.78" r="5.3" fill="#80CC28" stroke="#000" stroke-width="1.3"/>
<circle cx="278.41" cy="2086.36" r="5.3" fill="#80CC28" stroke="#000" stroke-width="1.3"/>
<circle cx="267.65" cy="2103.24" r="5.3" fill="#80CC28" stroke="#000" stroke-width="1.3"/>
<polyline points="190.09,2059.45 190.09,1997.31 267.65,1997.31 267.65,2014.19" fill="none" stroke="#000" stroke-width="1.4" stroke-linejoin="miter"/>
<text transform="translate(228.75 1993.77)" font-size="31" text-anchor="middle" font-weight="bold" fill="#000" stroke="#000" stroke-width="1.2" letter-spacing="0" style="font-family:'DejaVu Sans','Liberation Sans',sans-serif">*</text>
<text transform="translate(189.36 2285.5) scale(0.93 1)" font-size="23.3" text-anchor="middle" fill="#000" stroke="#000" stroke-width="0.4">&lt;0.5%</text>
<text transform="translate(276.21 2285.5) scale(0.93 1)" font-size="23.3" text-anchor="middle" fill="#000" stroke="#000" stroke-width="0.4">&gt;0.5%</text>
<line x1="165.63" y1="2297.98" x2="294.8" y2="2297.98" stroke="#000" stroke-width="1.4"/>
<text transform="translate(130.39 2331.5)" font-size="23.4" text-anchor="start" textLength="184" lengthAdjust="spacingAndGlyphs" fill="#000" stroke="#000" stroke-width="0.4">% of Spike-specific</text>
<text transform="translate(149.24 2358.65)" font-size="23.4" text-anchor="start" textLength="148" lengthAdjust="spacingAndGlyphs" fill="#000" stroke="#000" stroke-width="0.4">memory B cells</text>
<text transform="translate(64.83 1931.99)" font-size="22.3" text-anchor="start" textLength="250.76" lengthAdjust="spacingAndGlyphs" fill="#000" stroke="#000" stroke-width="0.4">PLWH SARS-CoV-2 naive</text>
<text transform="translate(171.89 1888.93)" font-size="22.3" text-anchor="start" textLength="82.4" lengthAdjust="spacingAndGlyphs" fill="#000" stroke="#000" stroke-width="0.4">2<tspan dy="-6.91" font-size="12.93">nd</tspan><tspan dy="6.91"> dose</tspan></text>
<text transform="translate(76.33 2251.37) rotate(-90)" font-size="23" text-anchor="start" textLength="285.5" lengthAdjust="spacingAndGlyphs" fill="#000" stroke="#000" stroke-width="0.4">% of CD56<tspan dy="-8.28" dx="0.5" font-size="15.64">dim</tspan><tspan dy="8.28">  CD57</tspan><tspan dy="-8.28" font-size="17.25">+</tspan><tspan dy="8.28">FcεRIγ</tspan><tspan dy="-8.28" dx="1" font-size="17.25">-</tspan></text>
<text transform="translate(16.5 1895) scale(1.05 1)" font-size="34" text-anchor="start" fill="#000" stroke="#000" stroke-width="0.4">l</text>
</svg>
</body></html>
